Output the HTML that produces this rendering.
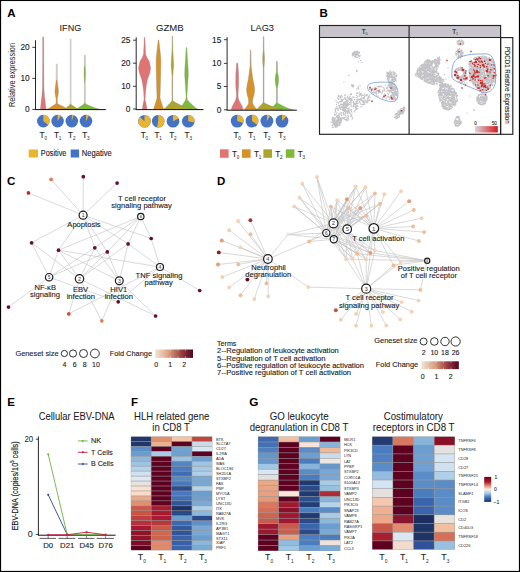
<!DOCTYPE html>
<html><head><meta charset="utf-8"><style>
html,body{margin:0;padding:0;background:#fff;}
body{width:520px;height:572px;overflow:hidden;}
svg{display:block;}
svg text{font-family:"Liberation Sans", sans-serif;}
</style></head><body>
<svg width="520" height="572" viewBox="0 0 520 572">
<rect x="0" y="0" width="520" height="572" fill="#fff"/>
<text x="7.20" y="16.50" font-size="11.5" text-anchor="start" font-weight="bold" fill="#000" >A</text>
<text x="70.40" y="30.80" font-size="9.6" text-anchor="middle" font-weight="normal" fill="#1c1c1c" stroke="#1c1c1c" stroke-width="0.06" textLength="21.6" lengthAdjust="spacingAndGlyphs">IFNG</text>
<text x="169.80" y="30.70" font-size="9.6" text-anchor="middle" font-weight="normal" fill="#1c1c1c" stroke="#1c1c1c" stroke-width="0.06" textLength="27.6" lengthAdjust="spacingAndGlyphs">GZMB</text>
<text x="262.20" y="30.80" font-size="9.6" text-anchor="middle" font-weight="normal" fill="#1c1c1c" stroke="#1c1c1c" stroke-width="0.06" textLength="23.6" lengthAdjust="spacingAndGlyphs">LAG3</text>
<text transform="translate(15,75) rotate(-90)" font-size="9" text-anchor="middle" fill="#231f20" textLength="64" lengthAdjust="spacingAndGlyphs">Relative expression</text>
<line x1="35.5" y1="40.2" x2="35.5" y2="109.6" stroke="#111" stroke-width="0.9"/>
<line x1="32.3" y1="47.3" x2="35.5" y2="47.3" stroke="#111" stroke-width="0.8"/>
<text x="29.70" y="50.25" font-size="8.3" text-anchor="end" font-weight="normal" fill="#1c1c1c" stroke="#1c1c1c" stroke-width="0.12" >20</text>
<line x1="32.3" y1="78.4" x2="35.5" y2="78.4" stroke="#111" stroke-width="0.8"/>
<text x="29.70" y="81.35" font-size="8.3" text-anchor="end" font-weight="normal" fill="#1c1c1c" stroke="#1c1c1c" stroke-width="0.12" >10</text>
<line x1="32.3" y1="109.4" x2="35.5" y2="109.4" stroke="#111" stroke-width="0.8"/>
<text x="29.70" y="112.35" font-size="8.3" text-anchor="end" font-weight="normal" fill="#1c1c1c" stroke="#1c1c1c" stroke-width="0.12" >0</text>
<path d="M42.70,37.00 L42.65,60.00 L42.50,88.00 L42.00,95.00 L41.20,102.00 L40.30,109.40 L46.10,109.40 L45.20,102.00 L44.40,95.00 L43.90,88.00 L43.75,60.00 L43.70,37.00Z" fill="#e07474" stroke="#8a8a8a" stroke-width="0.35" stroke-linejoin="round"/>
<path d="M56.35,64.00 L56.20,80.00 L55.80,84.00 L55.20,88.00 L54.90,91.40 L55.30,95.00 L56.10,99.00 L56.10,102.50 L55.90,103.70 L53.59,105.30 L51.18,106.84 L49.14,108.26 L46.20,109.40 L70.20,109.40 L66.42,108.26 L63.58,106.84 L60.47,105.30 L57.50,103.70 L57.30,102.50 L57.30,99.00 L58.10,95.00 L58.50,91.40 L58.20,88.00 L57.60,84.00 L57.20,80.00 L57.05,64.00Z" fill="#d69226" stroke="#8a8a8a" stroke-width="0.35" stroke-linejoin="round"/>
<path d="M84.40,55.30 L84.35,66.00 L84.10,70.00 L84.05,74.00 L84.20,78.00 L84.40,83.00 L84.40,102.50 L84.00,104.00 L81.84,105.51 L79.59,106.97 L77.74,108.32 L75.00,109.40 L100.60,109.40 L96.18,108.32 L92.71,106.97 L89.08,105.51 L85.60,104.00 L85.20,102.50 L85.20,83.00 L85.40,78.00 L85.55,74.00 L85.50,70.00 L85.25,66.00 L85.20,55.30Z" fill="#7dba36" stroke="#8a8a8a" stroke-width="0.35" stroke-linejoin="round"/>
<path d="M70.20,39.00 L70.20,103.50 L69.90,104.80 L68.47,106.09 L66.97,107.33 L65.92,108.48 L64.10,109.40 L79.60,109.40 L77.08,108.48 L75.35,107.33 L73.28,106.09 L71.30,104.80 L71.00,103.50 L71.00,39.00Z" fill="#aca42c" stroke="#8a8a8a" stroke-width="0.35" stroke-linejoin="round"/>
<line x1="56.7" y1="64" x2="56.7" y2="80" stroke="#d3d3d3" stroke-width="1.1"/>
<line x1="70.6" y1="39" x2="70.6" y2="103.8" stroke="#d3d3d3" stroke-width="1.1"/>
<line x1="84.8" y1="55.3" x2="84.8" y2="66" stroke="#d3d3d3" stroke-width="1.1"/>
<line x1="84.8" y1="83" x2="84.8" y2="103" stroke="#d3d3d3" stroke-width="1.1"/>
<line x1="35" y1="109.6" x2="105.8" y2="109.6" stroke="#111" stroke-width="1"/>
<line x1="136.2" y1="37.3" x2="136.2" y2="109.6" stroke="#111" stroke-width="0.9"/>
<line x1="133.0" y1="40.2" x2="136.2" y2="40.2" stroke="#111" stroke-width="0.8"/>
<text x="130.40" y="43.15" font-size="8.3" text-anchor="end" font-weight="normal" fill="#1c1c1c" stroke="#1c1c1c" stroke-width="0.12" >25</text>
<line x1="133.0" y1="63.2" x2="136.2" y2="63.2" stroke="#111" stroke-width="0.8"/>
<text x="130.40" y="66.15" font-size="8.3" text-anchor="end" font-weight="normal" fill="#1c1c1c" stroke="#1c1c1c" stroke-width="0.12" >20</text>
<line x1="133.0" y1="86.3" x2="136.2" y2="86.3" stroke="#111" stroke-width="0.8"/>
<text x="130.40" y="89.25" font-size="8.3" text-anchor="end" font-weight="normal" fill="#1c1c1c" stroke="#1c1c1c" stroke-width="0.12" >10</text>
<line x1="133.0" y1="109.0" x2="136.2" y2="109.0" stroke="#111" stroke-width="0.8"/>
<text x="130.40" y="111.95" font-size="8.3" text-anchor="end" font-weight="normal" fill="#1c1c1c" stroke="#1c1c1c" stroke-width="0.12" >0</text>
<path d="M144.25,37.40 L144.00,45.00 L143.50,54.50 L142.00,58.00 L140.00,61.30 L138.50,68.10 L139.40,73.00 L141.60,79.00 L142.80,85.00 L143.60,91.30 L144.10,99.50 L143.40,102.50 L142.90,105.00 L142.20,109.40 L147.00,109.40 L146.30,105.00 L145.80,102.50 L145.10,99.50 L145.60,91.30 L146.40,85.00 L147.60,79.00 L149.80,73.00 L150.70,68.10 L149.20,61.30 L147.20,58.00 L145.70,54.50 L145.20,45.00 L144.95,37.40Z" fill="#e07474" stroke="#8a8a8a" stroke-width="0.35" stroke-linejoin="round"/>
<path d="M158.20,40.10 L157.30,47.60 L156.50,55.00 L156.10,61.30 L156.30,75.00 L156.70,88.60 L157.00,98.10 L156.40,100.00 L155.50,103.00 L154.50,106.00 L153.50,109.40 L163.50,109.40 L162.50,106.00 L161.50,103.00 L160.60,100.00 L160.00,98.10 L160.30,88.60 L160.70,75.00 L160.90,61.30 L160.50,55.00 L159.70,47.60 L158.80,40.10Z" fill="#d69226" stroke="#8a8a8a" stroke-width="0.35" stroke-linejoin="round"/>
<path d="M186.20,47.60 L185.50,60.00 L184.90,68.00 L184.70,75.00 L185.40,85.00 L186.15,96.80 L185.90,98.50 L185.60,100.00 L183.95,102.63 L182.22,105.17 L181.10,107.52 L179.00,109.40 L198.30,109.40 L195.00,107.52 L192.71,105.17 L190.00,102.63 L187.40,100.00 L187.10,98.50 L186.85,96.80 L187.60,85.00 L188.30,75.00 L188.10,68.00 L187.50,60.00 L186.80,47.60Z" fill="#7dba36" stroke="#8a8a8a" stroke-width="0.35" stroke-linejoin="round"/>
<path d="M172.20,36.00 L172.00,50.00 L171.50,58.00 L171.10,65.40 L171.60,71.00 L172.10,77.00 L172.10,100.00 L171.80,101.10 L169.73,103.42 L167.57,105.67 L165.63,107.74 L163.00,109.40 L192.40,109.40 L186.80,107.74 L182.00,105.67 L177.40,103.42 L173.00,101.10 L172.70,100.00 L172.70,77.00 L173.20,71.00 L173.70,65.40 L173.30,58.00 L172.80,50.00 L172.60,36.00Z" fill="#aca42c" stroke="#8a8a8a" stroke-width="0.35" stroke-linejoin="round"/>
<line x1="172.4" y1="77" x2="172.4" y2="100.3" stroke="#a09a80" stroke-width="0.55"/>
<line x1="135.7" y1="109.6" x2="203.5" y2="109.6" stroke="#111" stroke-width="1"/>
<line x1="227.1" y1="37.1" x2="227.1" y2="110" stroke="#111" stroke-width="0.9"/>
<line x1="223.9" y1="39.7" x2="227.1" y2="39.7" stroke="#111" stroke-width="0.8"/>
<text x="221.30" y="42.65" font-size="8.3" text-anchor="end" font-weight="normal" fill="#1c1c1c" stroke="#1c1c1c" stroke-width="0.12" >15</text>
<line x1="223.9" y1="63.4" x2="227.1" y2="63.4" stroke="#111" stroke-width="0.8"/>
<text x="221.30" y="66.35" font-size="8.3" text-anchor="end" font-weight="normal" fill="#1c1c1c" stroke="#1c1c1c" stroke-width="0.12" >10</text>
<line x1="223.9" y1="86.5" x2="227.1" y2="86.5" stroke="#111" stroke-width="0.8"/>
<text x="221.30" y="89.45" font-size="8.3" text-anchor="end" font-weight="normal" fill="#1c1c1c" stroke="#1c1c1c" stroke-width="0.12" >5</text>
<line x1="223.9" y1="109.8" x2="227.1" y2="109.8" stroke="#111" stroke-width="0.8"/>
<text x="221.30" y="112.75" font-size="8.3" text-anchor="end" font-weight="normal" fill="#1c1c1c" stroke="#1c1c1c" stroke-width="0.12" >0</text>
<path d="M236.60,63.30 L236.40,66.00 L235.80,75.00 L235.70,84.50 L236.10,90.00 L236.40,94.00 L236.20,98.00 L235.20,101.00 L233.70,103.60 L232.20,106.50 L231.20,109.80 L243.20,109.80 L242.20,106.50 L240.70,103.60 L239.20,101.00 L238.20,98.00 L238.00,94.00 L238.30,90.00 L238.70,84.50 L238.60,75.00 L238.00,66.00 L237.80,63.30Z" fill="#e07474" stroke="#8a8a8a" stroke-width="0.35" stroke-linejoin="round"/>
<path d="M250.40,50.10 L250.00,66.70 L249.30,72.00 L248.40,79.00 L247.10,85.00 L246.50,90.00 L247.20,95.00 L248.20,98.10 L248.60,101.00 L248.60,103.60 L247.40,105.50 L245.80,107.80 L244.00,109.80 L257.20,109.80 L255.40,107.80 L253.80,105.50 L252.60,103.60 L252.60,101.00 L253.00,98.10 L254.00,95.00 L254.70,90.00 L254.10,85.00 L252.80,79.00 L251.90,72.00 L251.20,66.70 L250.80,50.10Z" fill="#d69226" stroke="#8a8a8a" stroke-width="0.35" stroke-linejoin="round"/>
<path d="M276.60,61.30 L276.30,72.20 L275.50,76.00 L275.10,79.70 L275.60,84.00 L276.50,88.60 L276.50,102.00 L276.10,103.30 L274.56,105.12 L272.95,106.88 L271.86,108.50 L269.90,109.80 L293.10,109.80 L288.56,108.50 L284.99,106.88 L281.26,105.12 L277.70,103.30 L277.30,102.00 L277.30,88.60 L278.20,84.00 L278.70,79.70 L278.30,76.00 L277.50,72.20 L277.20,61.30Z" fill="#7dba36" stroke="#8a8a8a" stroke-width="0.35" stroke-linejoin="round"/>
<path d="M263.40,36.50 L263.20,50.40 L262.80,55.00 L262.60,59.00 L262.90,64.00 L263.25,68.10 L263.25,102.00 L262.90,103.10 L261.10,104.98 L259.21,106.78 L257.70,108.46 L255.40,109.80 L283.60,109.80 L278.00,108.46 L273.30,106.78 L268.70,104.98 L264.30,103.10 L263.95,102.00 L263.95,68.10 L264.30,64.00 L264.60,59.00 L264.40,55.00 L264.00,50.40 L263.80,36.50Z" fill="#aca42c" stroke="#8a8a8a" stroke-width="0.35" stroke-linejoin="round"/>
<line x1="250.6" y1="50.1" x2="250.6" y2="66.7" stroke="#a8a8a8" stroke-width="0.6"/>
<line x1="263.6" y1="36.5" x2="263.6" y2="50.4" stroke="#a8a8a8" stroke-width="0.55"/>
<line x1="263.6" y1="68.1" x2="263.6" y2="102.5" stroke="#a8a8a8" stroke-width="0.6"/>
<line x1="276.9" y1="61.3" x2="276.9" y2="72.2" stroke="#b0b0b0" stroke-width="0.7"/>
<line x1="276.9" y1="88.6" x2="276.9" y2="102.5" stroke="#b8b8b8" stroke-width="0.8"/>
<line x1="226.6" y1="110.2" x2="296.8" y2="110.2" stroke="#111" stroke-width="1"/>
<circle cx="43.3" cy="121.1" r="6.3" fill="#4472c4"/>
<path d="M43.3,121.1 L43.30,114.80 A6.3,6.3 0 0 1 48.15,125.12 Z" fill="#e9b52e"/>
<circle cx="57.6" cy="121.1" r="6.3" fill="#4472c4"/>
<path d="M57.6,121.1 L57.60,114.80 A6.3,6.3 0 0 1 60.98,115.78 Z" fill="#e9b52e"/>
<circle cx="71.8" cy="121.1" r="6.3" fill="#4472c4"/>
<path d="M71.8,121.1 L71.80,114.80 A6.3,6.3 0 0 1 73.75,115.11 Z" fill="#e9b52e"/>
<circle cx="86.0" cy="121.1" r="6.3" fill="#4472c4"/>
<path d="M86.0,121.1 L86.00,114.80 A6.3,6.3 0 0 1 89.04,115.58 Z" fill="#e9b52e"/>
<circle cx="144.5" cy="121.2" r="6.3" fill="#4472c4"/>
<path d="M144.5,121.2 L144.50,114.90 A6.3,6.3 0 1 1 139.91,116.89 Z" fill="#e9b52e"/>
<circle cx="158.2" cy="121.2" r="6.3" fill="#4472c4"/>
<path d="M158.2,121.2 L158.20,114.90 A6.3,6.3 0 1 1 157.02,127.39 Z" fill="#e9b52e"/>
<circle cx="173.0" cy="121.2" r="6.3" fill="#4472c4"/>
<path d="M173.0,121.2 L173.00,114.90 A6.3,6.3 0 0 1 178.70,118.52 Z" fill="#e9b52e"/>
<circle cx="188.3" cy="121.2" r="6.3" fill="#4472c4"/>
<path d="M188.3,121.2 L188.30,114.90 A6.3,6.3 0 0 1 194.49,122.38 Z" fill="#e9b52e"/>
<circle cx="237.2" cy="121.1" r="6.4" fill="#4472c4"/>
<path d="M237.2,121.1 L237.20,114.70 A6.4,6.4 0 0 1 243.29,123.08 Z" fill="#e9b52e"/>
<circle cx="252.0" cy="121.1" r="6.4" fill="#4472c4"/>
<path d="M252.0,121.1 L252.00,114.70 A6.4,6.4 0 0 1 257.18,124.86 Z" fill="#e9b52e"/>
<circle cx="266.9" cy="121.1" r="6.4" fill="#4472c4"/>
<path d="M266.9,121.1 L266.90,114.70 A6.4,6.4 0 0 1 270.33,115.70 Z" fill="#e9b52e"/>
<circle cx="282.0" cy="121.1" r="6.4" fill="#4472c4"/>
<path d="M282.0,121.1 L282.00,114.70 A6.4,6.4 0 0 1 286.38,116.43 Z" fill="#e9b52e"/>
<text x="42.10" y="138.00" font-size="8.2" text-anchor="middle" fill="#231f20" stroke="#231f20" stroke-width="0.1">T</text>
<text x="45.70" y="140.00" font-size="4.6" text-anchor="middle" fill="#231f20">0</text>
<text x="56.40" y="138.00" font-size="8.2" text-anchor="middle" fill="#231f20" stroke="#231f20" stroke-width="0.1">T</text>
<text x="60.00" y="140.00" font-size="4.6" text-anchor="middle" fill="#231f20">1</text>
<text x="70.60" y="138.00" font-size="8.2" text-anchor="middle" fill="#231f20" stroke="#231f20" stroke-width="0.1">T</text>
<text x="74.20" y="140.00" font-size="4.6" text-anchor="middle" fill="#231f20">2</text>
<text x="84.80" y="138.00" font-size="8.2" text-anchor="middle" fill="#231f20" stroke="#231f20" stroke-width="0.1">T</text>
<text x="88.40" y="140.00" font-size="4.6" text-anchor="middle" fill="#231f20">3</text>
<text x="143.30" y="138.00" font-size="8.2" text-anchor="middle" fill="#231f20" stroke="#231f20" stroke-width="0.1">T</text>
<text x="146.90" y="140.00" font-size="4.6" text-anchor="middle" fill="#231f20">0</text>
<text x="157.00" y="138.00" font-size="8.2" text-anchor="middle" fill="#231f20" stroke="#231f20" stroke-width="0.1">T</text>
<text x="160.60" y="140.00" font-size="4.6" text-anchor="middle" fill="#231f20">1</text>
<text x="171.80" y="138.00" font-size="8.2" text-anchor="middle" fill="#231f20" stroke="#231f20" stroke-width="0.1">T</text>
<text x="175.40" y="140.00" font-size="4.6" text-anchor="middle" fill="#231f20">2</text>
<text x="187.10" y="138.00" font-size="8.2" text-anchor="middle" fill="#231f20" stroke="#231f20" stroke-width="0.1">T</text>
<text x="190.70" y="140.00" font-size="4.6" text-anchor="middle" fill="#231f20">3</text>
<text x="236.00" y="138.00" font-size="8.2" text-anchor="middle" fill="#231f20" stroke="#231f20" stroke-width="0.1">T</text>
<text x="239.60" y="140.00" font-size="4.6" text-anchor="middle" fill="#231f20">0</text>
<text x="250.80" y="138.00" font-size="8.2" text-anchor="middle" fill="#231f20" stroke="#231f20" stroke-width="0.1">T</text>
<text x="254.40" y="140.00" font-size="4.6" text-anchor="middle" fill="#231f20">1</text>
<text x="265.70" y="138.00" font-size="8.2" text-anchor="middle" fill="#231f20" stroke="#231f20" stroke-width="0.1">T</text>
<text x="269.30" y="140.00" font-size="4.6" text-anchor="middle" fill="#231f20">2</text>
<text x="280.80" y="138.00" font-size="8.2" text-anchor="middle" fill="#231f20" stroke="#231f20" stroke-width="0.1">T</text>
<text x="284.40" y="140.00" font-size="4.6" text-anchor="middle" fill="#231f20">3</text>
<rect x="28.7" y="149.5" width="9.3" height="8" fill="#e9b52e"/>
<text x="40.80" y="156.40" font-size="8.4" text-anchor="start" font-weight="normal" fill="#1c1c1c" stroke="#1c1c1c" stroke-width="0.12" textLength="25.6" lengthAdjust="spacingAndGlyphs">Positive</text>
<rect x="70.7" y="149.5" width="8.4" height="8" fill="#4472c4"/>
<text x="81.80" y="156.40" font-size="8.4" text-anchor="start" font-weight="normal" fill="#1c1c1c" stroke="#1c1c1c" stroke-width="0.12" textLength="30.0" lengthAdjust="spacingAndGlyphs">Negative</text>
<rect x="220.0" y="149.3" width="8.6" height="8.5" fill="#e07474"/>
<text x="234.40" y="156.80" font-size="8.2" text-anchor="middle" fill="#231f20" stroke="#231f20" stroke-width="0.1">T</text>
<text x="238.00" y="158.80" font-size="4.6" text-anchor="middle" fill="#231f20">0</text>
<rect x="242.0" y="149.3" width="8.6" height="8.5" fill="#d69226"/>
<text x="256.40" y="156.80" font-size="8.2" text-anchor="middle" fill="#231f20" stroke="#231f20" stroke-width="0.1">T</text>
<text x="260.00" y="158.80" font-size="4.6" text-anchor="middle" fill="#231f20">1</text>
<rect x="263.4" y="149.3" width="8.6" height="8.5" fill="#aca42c"/>
<text x="277.80" y="156.80" font-size="8.2" text-anchor="middle" fill="#231f20" stroke="#231f20" stroke-width="0.1">T</text>
<text x="281.40" y="158.80" font-size="4.6" text-anchor="middle" fill="#231f20">2</text>
<rect x="285.8" y="149.3" width="8.6" height="8.5" fill="#7dba36"/>
<text x="300.20" y="156.80" font-size="8.2" text-anchor="middle" fill="#231f20" stroke="#231f20" stroke-width="0.1">T</text>
<text x="303.80" y="158.80" font-size="4.6" text-anchor="middle" fill="#231f20">3</text>
<text x="319.60" y="16.70" font-size="11.5" text-anchor="start" font-weight="bold" fill="#000" >B</text>
<rect x="319.5" y="25" width="181.1" height="12.5" fill="#c7c5cb"/>
<text x="363.6" y="33.7" font-size="6.4" text-anchor="middle" fill="#222" stroke="#222" stroke-width="0.15">T</text><text x="365.6" y="35.2" font-size="3.6" fill="#222">0</text>
<text x="454.1" y="33.7" font-size="6.4" text-anchor="middle" fill="#222" stroke="#222" stroke-width="0.15">T</text><text x="456.1" y="35.2" font-size="3.6" fill="#222">1</text>
<path fill="#c3c2c7" d="M354.2 51.3h1.2v1.2h-1.2zM357.0 50.8h1.2v1.2h-1.2zM356.0 52.9h1.2v1.2h-1.2zM352.0 53.9h1.2v1.2h-1.2zM351.8 53.3h1.2v1.2h-1.2zM355.1 56.1h1.2v1.2h-1.2zM352.5 51.9h1.2v1.2h-1.2zM356.8 56.9h1.2v1.2h-1.2zM356.3 53.1h1.2v1.2h-1.2zM358.7 52.3h1.2v1.2h-1.2zM354.1 56.0h1.2v1.2h-1.2zM353.0 54.4h1.2v1.2h-1.2zM356.9 52.9h1.2v1.2h-1.2zM356.1 50.7h1.2v1.2h-1.2zM357.2 53.3h1.2v1.2h-1.2zM354.1 54.4h1.2v1.2h-1.2zM355.3 52.4h1.2v1.2h-1.2zM358.2 55.2h1.2v1.2h-1.2zM353.6 54.3h1.2v1.2h-1.2zM355.9 56.4h1.2v1.2h-1.2zM357.6 52.3h1.2v1.2h-1.2zM355.0 55.6h1.2v1.2h-1.2zM352.8 53.7h1.2v1.2h-1.2zM351.8 55.0h1.2v1.2h-1.2zM357.9 54.3h1.2v1.2h-1.2zM358.9 52.5h1.2v1.2h-1.2zM357.3 54.5h1.2v1.2h-1.2zM356.4 53.5h1.2v1.2h-1.2zM355.5 55.0h1.2v1.2h-1.2zM352.0 55.2h1.2v1.2h-1.2zM358.4 52.3h1.2v1.2h-1.2zM354.7 55.0h1.2v1.2h-1.2zM351.7 53.5h1.2v1.2h-1.2zM352.6 52.0h1.2v1.2h-1.2zM354.8 56.4h1.2v1.2h-1.2zM352.2 53.4h1.2v1.2h-1.2zM356.1 56.5h1.2v1.2h-1.2zM358.4 56.4h1.2v1.2h-1.2zM353.8 53.2h1.2v1.2h-1.2zM354.5 56.5h1.2v1.2h-1.2zM353.0 51.9h1.2v1.2h-1.2zM353.5 53.7h1.2v1.2h-1.2zM356.4 52.1h1.2v1.2h-1.2zM354.6 54.3h1.2v1.2h-1.2zM359.5 55.1h1.2v1.2h-1.2zM355.8 54.6h1.2v1.2h-1.2zM357.2 50.7h1.2v1.2h-1.2zM359.1 55.8h1.2v1.2h-1.2zM358.8 55.9h1.2v1.2h-1.2zM354.8 53.1h1.2v1.2h-1.2zM352.4 54.7h1.2v1.2h-1.2zM353.3 51.4h1.2v1.2h-1.2zM354.4 50.7h1.2v1.2h-1.2zM352.4 52.8h1.2v1.2h-1.2zM356.7 51.3h1.2v1.2h-1.2zM353.6 52.7h1.2v1.2h-1.2zM354.6 51.2h1.2v1.2h-1.2zM355.4 53.7h1.2v1.2h-1.2zM354.4 52.1h1.2v1.2h-1.2zM358.5 51.4h1.2v1.2h-1.2zM355.9 51.3h1.2v1.2h-1.2zM358.9 57.9h1.2v1.2h-1.2zM359.9 59.9h1.2v1.2h-1.2zM361.4 61.7h1.2v1.2h-1.2zM357.9 61.4h1.2v1.2h-1.2zM355.9 69.7h1.2v1.2h-1.2zM356.7 70.4h1.2v1.2h-1.2zM356.2 71.0h1.2v1.2h-1.2zM348.4 74.9h1.2v1.2h-1.2zM351.6 84.6h1.2v1.2h-1.2zM343.4 81.4h1.2v1.2h-1.2zM335.4 99.9h1.2v1.2h-1.2zM359.4 85.0h1.2v1.2h-1.2zM391.4 82.6h1.2v1.2h-1.2zM395.0 79.0h1.2v1.2h-1.2zM388.6 74.7h1.2v1.2h-1.2zM387.7 79.9h1.2v1.2h-1.2zM391.5 80.0h1.2v1.2h-1.2zM389.4 72.8h1.2v1.2h-1.2zM394.9 80.4h1.2v1.2h-1.2zM394.5 79.5h1.2v1.2h-1.2zM388.3 76.6h1.2v1.2h-1.2zM389.6 70.3h1.2v1.2h-1.2zM388.6 78.9h1.2v1.2h-1.2zM395.9 75.7h1.2v1.2h-1.2zM395.9 74.6h1.2v1.2h-1.2zM388.2 72.8h1.2v1.2h-1.2zM388.0 72.6h1.2v1.2h-1.2zM392.5 81.6h1.2v1.2h-1.2zM394.7 76.1h1.2v1.2h-1.2zM392.8 80.3h1.2v1.2h-1.2zM386.8 78.5h1.2v1.2h-1.2zM395.5 80.1h1.2v1.2h-1.2zM393.8 76.1h1.2v1.2h-1.2zM387.8 80.2h1.2v1.2h-1.2zM389.4 80.3h1.2v1.2h-1.2zM396.1 75.0h1.2v1.2h-1.2zM390.1 82.2h1.2v1.2h-1.2zM393.5 72.1h1.2v1.2h-1.2zM387.2 71.9h1.2v1.2h-1.2zM395.4 80.4h1.2v1.2h-1.2zM389.6 77.0h1.2v1.2h-1.2zM391.4 82.0h1.2v1.2h-1.2zM390.5 81.2h1.2v1.2h-1.2zM394.6 72.6h1.2v1.2h-1.2zM388.5 73.7h1.2v1.2h-1.2zM388.4 77.5h1.2v1.2h-1.2zM388.6 75.3h1.2v1.2h-1.2zM389.6 75.9h1.2v1.2h-1.2zM392.0 81.7h1.2v1.2h-1.2zM390.3 81.8h1.2v1.2h-1.2zM391.2 76.8h1.2v1.2h-1.2zM390.5 72.3h1.2v1.2h-1.2zM387.7 76.1h1.2v1.2h-1.2zM393.5 77.1h1.2v1.2h-1.2zM389.3 76.6h1.2v1.2h-1.2zM391.7 80.1h1.2v1.2h-1.2zM387.0 77.2h1.2v1.2h-1.2zM388.5 73.5h1.2v1.2h-1.2zM394.0 76.5h1.2v1.2h-1.2zM391.8 79.8h1.2v1.2h-1.2zM395.5 75.7h1.2v1.2h-1.2zM392.3 76.5h1.2v1.2h-1.2zM391.3 78.9h1.2v1.2h-1.2zM390.6 76.8h1.2v1.2h-1.2zM390.9 82.1h1.2v1.2h-1.2zM393.2 81.3h1.2v1.2h-1.2zM391.8 82.2h1.2v1.2h-1.2zM387.2 75.6h1.2v1.2h-1.2zM386.7 73.0h1.2v1.2h-1.2zM386.7 78.6h1.2v1.2h-1.2zM387.5 79.2h1.2v1.2h-1.2zM392.8 71.8h1.2v1.2h-1.2zM390.1 76.2h1.2v1.2h-1.2zM387.6 75.5h1.2v1.2h-1.2zM391.3 74.3h1.2v1.2h-1.2zM388.0 74.0h1.2v1.2h-1.2zM391.7 75.6h1.2v1.2h-1.2zM392.5 76.6h1.2v1.2h-1.2zM387.0 73.4h1.2v1.2h-1.2zM388.7 71.6h1.2v1.2h-1.2zM390.3 81.7h1.2v1.2h-1.2zM394.5 73.3h1.2v1.2h-1.2zM391.9 79.0h1.2v1.2h-1.2zM393.1 75.4h1.2v1.2h-1.2zM392.6 80.3h1.2v1.2h-1.2zM390.7 74.3h1.2v1.2h-1.2zM391.7 81.9h1.2v1.2h-1.2zM388.7 71.6h1.2v1.2h-1.2zM391.4 73.0h1.2v1.2h-1.2zM387.0 72.0h1.2v1.2h-1.2zM386.4 72.5h1.2v1.2h-1.2zM389.2 73.9h1.2v1.2h-1.2zM393.9 73.7h1.2v1.2h-1.2zM391.2 72.2h1.2v1.2h-1.2zM393.6 77.1h1.2v1.2h-1.2zM387.9 76.1h1.2v1.2h-1.2zM394.5 75.5h1.2v1.2h-1.2zM391.1 80.7h1.2v1.2h-1.2zM390.0 76.5h1.2v1.2h-1.2zM389.5 80.7h1.2v1.2h-1.2zM393.3 78.2h1.2v1.2h-1.2zM390.1 74.4h1.2v1.2h-1.2zM386.5 71.6h1.2v1.2h-1.2zM388.6 72.0h1.2v1.2h-1.2zM395.0 78.6h1.2v1.2h-1.2zM388.9 73.0h1.2v1.2h-1.2zM389.0 75.9h1.2v1.2h-1.2zM387.6 75.7h1.2v1.2h-1.2zM388.7 82.4h1.2v1.2h-1.2zM389.2 74.5h1.2v1.2h-1.2zM390.9 76.4h1.2v1.2h-1.2zM388.0 76.5h1.2v1.2h-1.2zM386.8 75.1h1.2v1.2h-1.2zM389.1 72.9h1.2v1.2h-1.2zM392.0 76.8h1.2v1.2h-1.2zM393.8 78.4h1.2v1.2h-1.2zM393.4 81.3h1.2v1.2h-1.2zM390.0 74.1h1.2v1.2h-1.2zM393.5 78.3h1.2v1.2h-1.2zM395.3 78.1h1.2v1.2h-1.2zM393.6 80.5h1.2v1.2h-1.2zM387.4 76.7h1.2v1.2h-1.2zM391.2 80.8h1.2v1.2h-1.2zM394.3 80.6h1.2v1.2h-1.2zM392.0 81.5h1.2v1.2h-1.2zM393.1 78.9h1.2v1.2h-1.2zM387.3 74.6h1.2v1.2h-1.2zM391.8 78.1h1.2v1.2h-1.2zM392.5 78.7h1.2v1.2h-1.2zM394.3 79.6h1.2v1.2h-1.2zM391.2 76.9h1.2v1.2h-1.2zM393.6 73.2h1.2v1.2h-1.2zM386.7 73.4h1.2v1.2h-1.2zM393.6 72.6h1.2v1.2h-1.2zM391.1 74.9h1.2v1.2h-1.2zM390.9 78.8h1.2v1.2h-1.2zM394.0 77.9h1.2v1.2h-1.2zM392.6 70.9h1.2v1.2h-1.2zM387.4 73.2h1.2v1.2h-1.2zM393.7 73.9h1.2v1.2h-1.2zM386.5 73.4h1.2v1.2h-1.2zM393.0 78.9h1.2v1.2h-1.2zM393.0 73.7h1.2v1.2h-1.2zM391.3 75.9h1.2v1.2h-1.2zM390.8 71.4h1.2v1.2h-1.2zM386.1 75.9h1.2v1.2h-1.2zM390.6 73.4h1.2v1.2h-1.2zM388.1 77.5h1.2v1.2h-1.2zM387.4 76.7h1.2v1.2h-1.2zM394.5 76.5h1.2v1.2h-1.2zM395.2 79.0h1.2v1.2h-1.2zM388.3 81.6h1.2v1.2h-1.2zM348.4 102.6h1.2v1.2h-1.2zM336.0 104.1h1.2v1.2h-1.2zM364.0 96.2h1.2v1.2h-1.2zM366.5 102.2h1.2v1.2h-1.2zM345.3 105.8h1.2v1.2h-1.2zM344.8 107.1h1.2v1.2h-1.2zM334.5 121.5h1.2v1.2h-1.2zM340.4 101.3h1.2v1.2h-1.2zM350.8 98.6h1.2v1.2h-1.2zM359.2 93.7h1.2v1.2h-1.2zM367.5 96.4h1.2v1.2h-1.2zM349.3 104.1h1.2v1.2h-1.2zM342.3 118.1h1.2v1.2h-1.2zM356.6 102.6h1.2v1.2h-1.2zM352.7 105.9h1.2v1.2h-1.2zM337.1 97.6h1.2v1.2h-1.2zM338.7 124.1h1.2v1.2h-1.2zM350.3 99.7h1.2v1.2h-1.2zM348.4 96.9h1.2v1.2h-1.2zM338.1 95.1h1.2v1.2h-1.2zM344.1 95.1h1.2v1.2h-1.2zM340.0 101.1h1.2v1.2h-1.2zM347.0 110.5h1.2v1.2h-1.2zM345.5 103.9h1.2v1.2h-1.2zM369.1 96.4h1.2v1.2h-1.2zM350.5 114.3h1.2v1.2h-1.2zM364.9 99.6h1.2v1.2h-1.2zM341.2 100.7h1.2v1.2h-1.2zM346.4 107.7h1.2v1.2h-1.2zM331.7 117.1h1.2v1.2h-1.2zM351.3 116.1h1.2v1.2h-1.2zM348.7 111.5h1.2v1.2h-1.2zM332.0 119.7h1.2v1.2h-1.2zM356.2 102.7h1.2v1.2h-1.2zM351.4 112.6h1.2v1.2h-1.2zM345.9 99.8h1.2v1.2h-1.2zM342.5 108.3h1.2v1.2h-1.2zM339.8 100.7h1.2v1.2h-1.2zM350.3 115.8h1.2v1.2h-1.2zM347.2 101.0h1.2v1.2h-1.2zM343.9 106.8h1.2v1.2h-1.2zM357.7 98.9h1.2v1.2h-1.2zM350.6 99.2h1.2v1.2h-1.2zM363.2 100.1h1.2v1.2h-1.2zM339.3 118.9h1.2v1.2h-1.2zM350.2 98.5h1.2v1.2h-1.2zM339.3 106.7h1.2v1.2h-1.2zM336.3 105.9h1.2v1.2h-1.2zM337.8 125.1h1.2v1.2h-1.2zM360.3 93.0h1.2v1.2h-1.2zM357.0 105.3h1.2v1.2h-1.2zM345.4 103.7h1.2v1.2h-1.2zM341.6 104.4h1.2v1.2h-1.2zM368.6 96.3h1.2v1.2h-1.2zM369.0 99.3h1.2v1.2h-1.2zM338.1 104.8h1.2v1.2h-1.2zM361.1 93.3h1.2v1.2h-1.2zM367.2 101.0h1.2v1.2h-1.2zM344.0 101.6h1.2v1.2h-1.2zM340.9 117.3h1.2v1.2h-1.2zM343.1 101.7h1.2v1.2h-1.2zM339.8 108.8h1.2v1.2h-1.2zM345.9 100.8h1.2v1.2h-1.2zM347.6 109.4h1.2v1.2h-1.2zM367.5 98.4h1.2v1.2h-1.2zM354.7 103.5h1.2v1.2h-1.2zM343.2 104.7h1.2v1.2h-1.2zM361.7 94.7h1.2v1.2h-1.2zM338.3 118.6h1.2v1.2h-1.2zM341.0 94.9h1.2v1.2h-1.2zM334.3 109.6h1.2v1.2h-1.2zM339.8 106.7h1.2v1.2h-1.2zM357.0 96.2h1.2v1.2h-1.2zM364.0 102.3h1.2v1.2h-1.2zM353.1 105.1h1.2v1.2h-1.2zM359.9 99.0h1.2v1.2h-1.2zM340.3 100.6h1.2v1.2h-1.2zM336.5 123.3h1.2v1.2h-1.2zM353.5 103.5h1.2v1.2h-1.2zM350.7 100.1h1.2v1.2h-1.2zM340.8 119.5h1.2v1.2h-1.2zM368.2 95.7h1.2v1.2h-1.2zM339.1 105.0h1.2v1.2h-1.2zM340.6 113.2h1.2v1.2h-1.2zM356.5 99.1h1.2v1.2h-1.2zM357.5 98.5h1.2v1.2h-1.2zM342.9 99.1h1.2v1.2h-1.2zM346.2 111.4h1.2v1.2h-1.2zM356.0 95.1h1.2v1.2h-1.2zM336.9 116.6h1.2v1.2h-1.2zM346.8 102.0h1.2v1.2h-1.2zM342.9 112.0h1.2v1.2h-1.2zM344.7 106.7h1.2v1.2h-1.2zM345.0 98.9h1.2v1.2h-1.2zM359.5 99.1h1.2v1.2h-1.2zM348.8 97.7h1.2v1.2h-1.2zM334.0 114.0h1.2v1.2h-1.2zM345.2 109.8h1.2v1.2h-1.2zM336.2 102.0h1.2v1.2h-1.2zM334.8 109.3h1.2v1.2h-1.2zM338.3 96.4h1.2v1.2h-1.2zM349.7 93.8h1.2v1.2h-1.2zM363.4 97.6h1.2v1.2h-1.2zM361.8 99.8h1.2v1.2h-1.2zM363.6 98.4h1.2v1.2h-1.2zM339.1 106.1h1.2v1.2h-1.2zM351.1 105.5h1.2v1.2h-1.2zM360.7 93.3h1.2v1.2h-1.2zM363.9 96.1h1.2v1.2h-1.2zM354.4 111.4h1.2v1.2h-1.2zM355.5 102.8h1.2v1.2h-1.2zM347.2 112.6h1.2v1.2h-1.2zM347.4 115.3h1.2v1.2h-1.2zM348.3 107.5h1.2v1.2h-1.2zM350.0 100.3h1.2v1.2h-1.2zM348.7 98.3h1.2v1.2h-1.2zM349.3 95.7h1.2v1.2h-1.2zM335.5 107.2h1.2v1.2h-1.2zM350.8 93.3h1.2v1.2h-1.2zM355.9 94.8h1.2v1.2h-1.2zM350.9 93.8h1.2v1.2h-1.2zM350.6 105.3h1.2v1.2h-1.2zM368.4 96.7h1.2v1.2h-1.2zM367.0 97.8h1.2v1.2h-1.2zM360.6 97.5h1.2v1.2h-1.2zM366.3 101.7h1.2v1.2h-1.2zM363.0 97.0h1.2v1.2h-1.2zM338.7 101.2h1.2v1.2h-1.2zM350.6 103.2h1.2v1.2h-1.2zM336.8 125.1h1.2v1.2h-1.2zM337.1 119.8h1.2v1.2h-1.2zM335.0 110.7h1.2v1.2h-1.2zM355.9 104.7h1.2v1.2h-1.2zM355.6 105.9h1.2v1.2h-1.2zM362.3 101.3h1.2v1.2h-1.2zM344.8 119.0h1.2v1.2h-1.2zM348.1 98.2h1.2v1.2h-1.2zM360.1 93.6h1.2v1.2h-1.2zM363.2 100.9h1.2v1.2h-1.2zM355.0 107.2h1.2v1.2h-1.2zM356.5 92.7h1.2v1.2h-1.2zM339.4 112.6h1.2v1.2h-1.2zM354.0 99.1h1.2v1.2h-1.2zM355.4 108.8h1.2v1.2h-1.2zM335.8 125.1h1.2v1.2h-1.2zM340.1 97.2h1.2v1.2h-1.2zM334.2 114.6h1.2v1.2h-1.2zM346.5 101.3h1.2v1.2h-1.2zM352.9 104.3h1.2v1.2h-1.2zM356.2 107.7h1.2v1.2h-1.2zM346.6 100.3h1.2v1.2h-1.2zM332.7 119.5h1.2v1.2h-1.2zM368.0 97.0h1.2v1.2h-1.2zM338.4 113.5h1.2v1.2h-1.2zM350.7 114.7h1.2v1.2h-1.2zM362.9 98.1h1.2v1.2h-1.2zM342.8 102.6h1.2v1.2h-1.2zM332.3 123.5h1.2v1.2h-1.2zM330.7 121.9h1.2v1.2h-1.2zM339.4 95.6h1.2v1.2h-1.2zM343.8 118.5h1.2v1.2h-1.2zM358.9 101.3h1.2v1.2h-1.2zM352.6 107.4h1.2v1.2h-1.2zM341.0 114.7h1.2v1.2h-1.2zM369.0 99.6h1.2v1.2h-1.2zM340.8 100.3h1.2v1.2h-1.2zM360.2 103.5h1.2v1.2h-1.2zM347.9 117.6h1.2v1.2h-1.2zM353.2 102.8h1.2v1.2h-1.2zM338.9 114.0h1.2v1.2h-1.2zM333.5 124.2h1.2v1.2h-1.2zM334.7 124.9h1.2v1.2h-1.2zM344.2 96.9h1.2v1.2h-1.2zM333.0 122.7h1.2v1.2h-1.2zM355.7 102.1h1.2v1.2h-1.2zM360.7 99.2h1.2v1.2h-1.2zM343.2 106.9h1.2v1.2h-1.2zM341.7 117.3h1.2v1.2h-1.2zM345.1 103.3h1.2v1.2h-1.2zM347.9 119.3h1.2v1.2h-1.2zM344.3 116.9h1.2v1.2h-1.2zM351.9 99.6h1.2v1.2h-1.2zM364.9 95.1h1.2v1.2h-1.2zM363.2 97.9h1.2v1.2h-1.2zM337.8 109.5h1.2v1.2h-1.2zM341.7 99.5h1.2v1.2h-1.2zM334.8 114.5h1.2v1.2h-1.2zM333.6 119.9h1.2v1.2h-1.2zM355.5 104.5h1.2v1.2h-1.2zM346.5 105.9h1.2v1.2h-1.2zM366.0 95.0h1.2v1.2h-1.2zM338.6 101.2h1.2v1.2h-1.2zM339.7 108.3h1.2v1.2h-1.2zM344.3 103.5h1.2v1.2h-1.2zM336.6 121.8h1.2v1.2h-1.2zM337.2 107.5h1.2v1.2h-1.2zM335.4 108.3h1.2v1.2h-1.2zM365.8 100.3h1.2v1.2h-1.2zM338.1 102.6h1.2v1.2h-1.2zM336.6 97.4h1.2v1.2h-1.2zM340.3 103.5h1.2v1.2h-1.2zM351.3 97.6h1.2v1.2h-1.2zM343.5 98.6h1.2v1.2h-1.2zM334.5 126.1h1.2v1.2h-1.2zM338.2 114.5h1.2v1.2h-1.2zM346.4 120.0h1.2v1.2h-1.2zM355.7 108.3h1.2v1.2h-1.2zM336.1 113.3h1.2v1.2h-1.2zM346.6 118.2h1.2v1.2h-1.2zM347.2 100.0h1.2v1.2h-1.2zM356.1 108.0h1.2v1.2h-1.2zM342.9 114.2h1.2v1.2h-1.2zM355.6 100.8h1.2v1.2h-1.2zM347.3 108.1h1.2v1.2h-1.2zM355.3 106.4h1.2v1.2h-1.2zM337.7 115.1h1.2v1.2h-1.2zM361.5 105.7h1.2v1.2h-1.2zM336.8 119.7h1.2v1.2h-1.2zM334.4 112.3h1.2v1.2h-1.2zM352.0 117.4h1.2v1.2h-1.2zM350.9 114.6h1.2v1.2h-1.2zM338.8 116.2h1.2v1.2h-1.2zM346.1 119.0h1.2v1.2h-1.2zM344.6 93.9h1.2v1.2h-1.2zM341.4 106.1h1.2v1.2h-1.2zM347.2 116.7h1.2v1.2h-1.2zM344.5 101.3h1.2v1.2h-1.2zM339.4 118.2h1.2v1.2h-1.2zM339.2 120.4h1.2v1.2h-1.2zM346.1 99.4h1.2v1.2h-1.2zM335.6 119.5h1.2v1.2h-1.2zM349.2 111.9h1.2v1.2h-1.2zM344.5 114.6h1.2v1.2h-1.2zM349.1 102.3h1.2v1.2h-1.2zM352.3 96.3h1.2v1.2h-1.2zM364.4 101.4h1.2v1.2h-1.2zM345.4 100.9h1.2v1.2h-1.2zM347.4 98.5h1.2v1.2h-1.2zM341.6 100.6h1.2v1.2h-1.2zM342.5 108.9h1.2v1.2h-1.2zM347.5 114.5h1.2v1.2h-1.2zM356.8 104.8h1.2v1.2h-1.2zM332.7 121.3h1.2v1.2h-1.2zM336.0 121.4h1.2v1.2h-1.2zM355.7 92.4h1.2v1.2h-1.2zM356.6 100.8h1.2v1.2h-1.2zM339.7 119.5h1.2v1.2h-1.2zM344.3 97.3h1.2v1.2h-1.2zM337.1 123.5h1.2v1.2h-1.2zM338.3 116.5h1.2v1.2h-1.2zM351.6 118.2h1.2v1.2h-1.2zM352.6 101.3h1.2v1.2h-1.2zM339.8 96.8h1.2v1.2h-1.2zM350.1 94.0h1.2v1.2h-1.2zM349.1 97.0h1.2v1.2h-1.2zM350.1 109.6h1.2v1.2h-1.2zM330.7 121.7h1.2v1.2h-1.2zM349.1 111.9h1.2v1.2h-1.2zM345.4 106.8h1.2v1.2h-1.2zM368.8 94.6h1.2v1.2h-1.2zM350.8 109.1h1.2v1.2h-1.2zM345.0 108.7h1.2v1.2h-1.2zM338.8 107.3h1.2v1.2h-1.2zM347.3 111.6h1.2v1.2h-1.2zM363.5 102.3h1.2v1.2h-1.2zM350.5 101.5h1.2v1.2h-1.2zM343.6 103.2h1.2v1.2h-1.2zM342.4 112.7h1.2v1.2h-1.2zM332.0 117.6h1.2v1.2h-1.2zM357.6 99.4h1.2v1.2h-1.2zM357.1 108.2h1.2v1.2h-1.2zM360.9 95.5h1.2v1.2h-1.2zM356.6 105.0h1.2v1.2h-1.2zM352.9 101.1h1.2v1.2h-1.2zM342.5 106.9h1.2v1.2h-1.2zM343.1 107.2h1.2v1.2h-1.2zM346.9 95.5h1.2v1.2h-1.2zM356.2 99.4h1.2v1.2h-1.2zM335.3 126.2h1.2v1.2h-1.2zM333.9 122.8h1.2v1.2h-1.2zM359.2 100.5h1.2v1.2h-1.2zM359.7 98.6h1.2v1.2h-1.2zM332.4 119.4h1.2v1.2h-1.2zM359.6 94.9h1.2v1.2h-1.2zM359.1 92.3h1.2v1.2h-1.2zM363.1 94.7h1.2v1.2h-1.2zM342.8 117.8h1.2v1.2h-1.2zM337.0 122.5h1.2v1.2h-1.2zM349.9 94.0h1.2v1.2h-1.2zM345.1 112.3h1.2v1.2h-1.2zM347.9 115.9h1.2v1.2h-1.2zM336.2 120.2h1.2v1.2h-1.2zM344.9 114.8h1.2v1.2h-1.2zM355.6 106.7h1.2v1.2h-1.2zM345.8 119.8h1.2v1.2h-1.2zM353.1 102.3h1.2v1.2h-1.2zM332.8 126.5h1.2v1.2h-1.2zM343.7 113.4h1.2v1.2h-1.2zM354.4 102.9h1.2v1.2h-1.2zM345.5 116.2h1.2v1.2h-1.2zM362.7 102.0h1.2v1.2h-1.2zM347.3 112.7h1.2v1.2h-1.2zM332.1 121.5h1.2v1.2h-1.2zM353.3 101.6h1.2v1.2h-1.2zM344.3 94.9h1.2v1.2h-1.2zM338.4 118.5h1.2v1.2h-1.2zM367.7 100.2h1.2v1.2h-1.2zM349.0 99.2h1.2v1.2h-1.2zM340.6 118.6h1.2v1.2h-1.2zM333.9 120.5h1.2v1.2h-1.2zM361.3 100.2h1.2v1.2h-1.2zM349.5 112.8h1.2v1.2h-1.2zM338.0 98.7h1.2v1.2h-1.2zM337.6 116.8h1.2v1.2h-1.2zM344.9 111.9h1.2v1.2h-1.2zM346.5 110.3h1.2v1.2h-1.2zM334.6 114.4h1.2v1.2h-1.2zM361.9 97.4h1.2v1.2h-1.2zM354.3 104.1h1.2v1.2h-1.2zM331.7 127.1h1.2v1.2h-1.2zM353.1 101.2h1.2v1.2h-1.2zM338.4 98.3h1.2v1.2h-1.2zM366.8 94.2h1.2v1.2h-1.2zM354.3 106.0h1.2v1.2h-1.2zM335.2 126.0h1.2v1.2h-1.2zM340.7 111.9h1.2v1.2h-1.2zM357.2 105.9h1.2v1.2h-1.2zM348.3 97.6h1.2v1.2h-1.2zM340.6 104.4h1.2v1.2h-1.2zM363.9 93.6h1.2v1.2h-1.2zM357.5 102.5h1.2v1.2h-1.2zM340.7 96.3h1.2v1.2h-1.2zM349.7 97.9h1.2v1.2h-1.2zM339.9 97.0h1.2v1.2h-1.2zM357.5 92.3h1.2v1.2h-1.2zM359.1 98.8h1.2v1.2h-1.2zM331.8 124.8h1.2v1.2h-1.2zM336.0 107.8h1.2v1.2h-1.2zM334.3 124.9h1.2v1.2h-1.2zM348.5 104.0h1.2v1.2h-1.2zM355.5 97.0h1.2v1.2h-1.2zM336.2 122.8h1.2v1.2h-1.2zM341.1 106.5h1.2v1.2h-1.2zM336.6 101.5h1.2v1.2h-1.2zM364.0 103.8h1.2v1.2h-1.2zM337.1 109.3h1.2v1.2h-1.2zM335.0 126.6h1.2v1.2h-1.2zM332.7 123.7h1.2v1.2h-1.2zM357.1 99.4h1.2v1.2h-1.2zM349.5 102.1h1.2v1.2h-1.2zM340.7 99.1h1.2v1.2h-1.2zM366.2 93.9h1.2v1.2h-1.2zM359.5 102.3h1.2v1.2h-1.2zM362.7 104.0h1.2v1.2h-1.2zM337.8 107.4h1.2v1.2h-1.2zM366.9 99.6h1.2v1.2h-1.2zM353.3 96.8h1.2v1.2h-1.2zM337.6 119.3h1.2v1.2h-1.2zM358.9 98.9h1.2v1.2h-1.2zM354.7 109.5h1.2v1.2h-1.2zM341.4 99.2h1.2v1.2h-1.2zM359.7 106.4h1.2v1.2h-1.2zM359.3 93.9h1.2v1.2h-1.2zM362.8 103.8h1.2v1.2h-1.2zM365.3 101.4h1.2v1.2h-1.2zM337.8 121.4h1.2v1.2h-1.2zM345.1 97.7h1.2v1.2h-1.2zM345.2 113.0h1.2v1.2h-1.2zM348.2 110.2h1.2v1.2h-1.2zM335.2 117.3h1.2v1.2h-1.2zM343.2 117.1h1.2v1.2h-1.2zM345.7 118.6h1.2v1.2h-1.2zM332.8 122.9h1.2v1.2h-1.2zM350.9 110.7h1.2v1.2h-1.2zM369.1 99.8h1.2v1.2h-1.2zM337.7 95.5h1.2v1.2h-1.2zM340.4 120.9h1.2v1.2h-1.2zM358.4 98.8h1.2v1.2h-1.2zM353.5 110.5h1.2v1.2h-1.2zM358.5 95.6h1.2v1.2h-1.2zM350.1 109.7h1.2v1.2h-1.2zM341.6 96.2h1.2v1.2h-1.2zM346.6 96.8h1.2v1.2h-1.2zM336.3 112.2h1.2v1.2h-1.2zM360.3 97.7h1.2v1.2h-1.2zM345.9 106.8h1.2v1.2h-1.2zM361.5 103.9h1.2v1.2h-1.2zM340.0 103.8h1.2v1.2h-1.2zM340.4 106.9h1.2v1.2h-1.2zM355.7 104.8h1.2v1.2h-1.2zM336.2 115.4h1.2v1.2h-1.2zM335.2 120.5h1.2v1.2h-1.2zM340.3 122.0h1.2v1.2h-1.2zM339.0 124.9h1.2v1.2h-1.2zM337.3 117.7h1.2v1.2h-1.2zM337.7 117.7h1.2v1.2h-1.2zM336.3 125.4h1.2v1.2h-1.2zM337.1 117.5h1.2v1.2h-1.2zM336.1 119.6h1.2v1.2h-1.2zM340.4 117.9h1.2v1.2h-1.2zM334.0 122.1h1.2v1.2h-1.2zM332.1 121.5h1.2v1.2h-1.2zM340.5 120.6h1.2v1.2h-1.2zM333.6 120.0h1.2v1.2h-1.2zM336.2 116.3h1.2v1.2h-1.2zM333.8 119.3h1.2v1.2h-1.2zM333.8 117.4h1.2v1.2h-1.2zM331.8 120.9h1.2v1.2h-1.2zM339.3 121.7h1.2v1.2h-1.2zM336.6 122.2h1.2v1.2h-1.2zM332.9 122.9h1.2v1.2h-1.2zM335.5 121.0h1.2v1.2h-1.2zM337.0 120.0h1.2v1.2h-1.2zM334.0 117.4h1.2v1.2h-1.2zM333.1 120.5h1.2v1.2h-1.2zM334.7 121.4h1.2v1.2h-1.2zM339.5 117.3h1.2v1.2h-1.2zM336.5 120.3h1.2v1.2h-1.2zM333.9 123.6h1.2v1.2h-1.2zM339.6 119.7h1.2v1.2h-1.2zM331.5 119.1h1.2v1.2h-1.2zM335.3 123.2h1.2v1.2h-1.2zM332.0 117.2h1.2v1.2h-1.2zM332.4 118.5h1.2v1.2h-1.2zM334.4 122.5h1.2v1.2h-1.2zM337.1 124.5h1.2v1.2h-1.2zM339.1 120.6h1.2v1.2h-1.2zM338.3 123.2h1.2v1.2h-1.2zM338.5 120.1h1.2v1.2h-1.2zM338.7 122.8h1.2v1.2h-1.2zM338.6 121.4h1.2v1.2h-1.2zM335.9 125.8h1.2v1.2h-1.2zM336.6 119.4h1.2v1.2h-1.2zM338.7 124.8h1.2v1.2h-1.2zM337.0 119.0h1.2v1.2h-1.2zM335.4 119.9h1.2v1.2h-1.2zM338.1 118.0h1.2v1.2h-1.2zM334.8 121.0h1.2v1.2h-1.2zM334.7 118.3h1.2v1.2h-1.2zM338.8 124.5h1.2v1.2h-1.2zM335.9 119.7h1.2v1.2h-1.2zM332.7 118.1h1.2v1.2h-1.2zM332.3 121.3h1.2v1.2h-1.2zM336.7 115.6h1.2v1.2h-1.2zM340.1 118.3h1.2v1.2h-1.2zM339.3 124.4h1.2v1.2h-1.2zM335.2 125.2h1.2v1.2h-1.2zM336.5 120.4h1.2v1.2h-1.2zM336.3 126.2h1.2v1.2h-1.2zM336.1 120.6h1.2v1.2h-1.2zM337.8 119.1h1.2v1.2h-1.2zM334.5 121.5h1.2v1.2h-1.2zM334.4 125.6h1.2v1.2h-1.2zM337.7 120.7h1.2v1.2h-1.2zM331.9 118.9h1.2v1.2h-1.2zM334.9 121.1h1.2v1.2h-1.2zM336.6 124.8h1.2v1.2h-1.2zM340.5 120.2h1.2v1.2h-1.2zM335.3 121.9h1.2v1.2h-1.2zM336.2 124.1h1.2v1.2h-1.2zM332.6 118.3h1.2v1.2h-1.2zM336.0 115.8h1.2v1.2h-1.2zM339.8 122.6h1.2v1.2h-1.2zM339.8 119.5h1.2v1.2h-1.2zM332.5 117.9h1.2v1.2h-1.2zM336.0 120.5h1.2v1.2h-1.2zM332.8 116.7h1.2v1.2h-1.2zM337.2 121.6h1.2v1.2h-1.2zM337.3 115.0h1.2v1.2h-1.2zM335.0 123.8h1.2v1.2h-1.2zM334.0 122.6h1.2v1.2h-1.2zM339.3 121.4h1.2v1.2h-1.2zM337.6 116.9h1.2v1.2h-1.2zM335.9 121.0h1.2v1.2h-1.2zM333.6 122.1h1.2v1.2h-1.2zM336.2 126.2h1.2v1.2h-1.2zM336.6 119.4h1.2v1.2h-1.2zM338.5 115.8h1.2v1.2h-1.2zM336.1 124.2h1.2v1.2h-1.2zM337.0 124.0h1.2v1.2h-1.2zM338.6 118.3h1.2v1.2h-1.2zM346.8 105.0h1.2v1.2h-1.2zM341.9 104.1h1.2v1.2h-1.2zM345.6 104.9h1.2v1.2h-1.2zM344.4 105.3h1.2v1.2h-1.2zM345.6 110.9h1.2v1.2h-1.2zM344.4 107.6h1.2v1.2h-1.2zM343.2 110.3h1.2v1.2h-1.2zM347.7 104.5h1.2v1.2h-1.2zM345.8 110.9h1.2v1.2h-1.2zM344.9 110.8h1.2v1.2h-1.2zM342.6 105.3h1.2v1.2h-1.2zM346.9 103.7h1.2v1.2h-1.2zM343.2 110.1h1.2v1.2h-1.2zM344.8 109.3h1.2v1.2h-1.2zM342.6 103.2h1.2v1.2h-1.2zM343.6 103.3h1.2v1.2h-1.2zM345.5 102.6h1.2v1.2h-1.2zM345.2 105.3h1.2v1.2h-1.2zM344.0 102.2h1.2v1.2h-1.2zM343.6 103.9h1.2v1.2h-1.2zM342.1 104.3h1.2v1.2h-1.2zM346.4 104.9h1.2v1.2h-1.2zM341.8 108.4h1.2v1.2h-1.2zM341.2 104.2h1.2v1.2h-1.2zM344.4 109.7h1.2v1.2h-1.2zM347.6 103.1h1.2v1.2h-1.2zM343.6 108.6h1.2v1.2h-1.2zM343.8 110.9h1.2v1.2h-1.2zM344.9 103.7h1.2v1.2h-1.2zM344.5 102.8h1.2v1.2h-1.2zM346.8 104.1h1.2v1.2h-1.2zM348.5 107.3h1.2v1.2h-1.2zM343.7 103.9h1.2v1.2h-1.2zM345.9 103.6h1.2v1.2h-1.2zM345.0 106.8h1.2v1.2h-1.2zM342.8 109.0h1.2v1.2h-1.2zM343.9 107.9h1.2v1.2h-1.2zM345.5 104.6h1.2v1.2h-1.2zM343.9 102.4h1.2v1.2h-1.2zM342.0 109.8h1.2v1.2h-1.2zM343.3 108.0h1.2v1.2h-1.2zM341.4 107.0h1.2v1.2h-1.2zM343.7 106.4h1.2v1.2h-1.2zM343.1 102.2h1.2v1.2h-1.2zM343.2 103.7h1.2v1.2h-1.2zM341.5 108.5h1.2v1.2h-1.2zM342.9 105.5h1.2v1.2h-1.2zM348.6 109.1h1.2v1.2h-1.2zM341.6 104.2h1.2v1.2h-1.2zM346.4 105.0h1.2v1.2h-1.2zM344.1 108.0h1.2v1.2h-1.2zM352.5 84.4h1.2v1.2h-1.2zM352.9 84.8h1.2v1.2h-1.2zM352.3 84.2h1.2v1.2h-1.2zM352.6 86.2h1.2v1.2h-1.2zM350.9 84.2h1.2v1.2h-1.2zM351.3 84.9h1.2v1.2h-1.2zM352.3 84.2h1.2v1.2h-1.2zM352.9 85.7h1.2v1.2h-1.2zM352.5 84.4h1.2v1.2h-1.2zM351.7 86.1h1.2v1.2h-1.2zM357.9 88.2h1.2v1.2h-1.2zM357.9 87.7h1.2v1.2h-1.2zM356.4 88.3h1.2v1.2h-1.2zM357.7 86.2h1.2v1.2h-1.2zM357.6 87.1h1.2v1.2h-1.2zM389.1 96.6h1.2v1.2h-1.2zM394.8 89.9h1.2v1.2h-1.2zM394.4 94.3h1.2v1.2h-1.2zM388.8 96.6h1.2v1.2h-1.2zM385.6 90.4h1.2v1.2h-1.2zM379.8 91.3h1.2v1.2h-1.2zM389.5 83.6h1.2v1.2h-1.2zM387.8 96.2h1.2v1.2h-1.2zM375.0 91.9h1.2v1.2h-1.2zM395.5 93.4h1.2v1.2h-1.2zM383.2 87.0h1.2v1.2h-1.2zM369.1 88.8h1.2v1.2h-1.2zM379.3 86.2h1.2v1.2h-1.2zM387.9 94.0h1.2v1.2h-1.2zM374.3 86.9h1.2v1.2h-1.2zM382.3 90.2h1.2v1.2h-1.2zM394.5 88.7h1.2v1.2h-1.2zM371.5 92.2h1.2v1.2h-1.2zM383.3 95.4h1.2v1.2h-1.2zM384.8 90.5h1.2v1.2h-1.2zM389.6 96.6h1.2v1.2h-1.2zM370.7 87.7h1.2v1.2h-1.2zM377.9 86.3h1.2v1.2h-1.2zM369.1 87.5h1.2v1.2h-1.2zM376.8 90.6h1.2v1.2h-1.2zM377.9 85.7h1.2v1.2h-1.2zM396.2 95.3h1.2v1.2h-1.2zM395.8 92.2h1.2v1.2h-1.2zM370.6 91.0h1.2v1.2h-1.2zM380.0 86.0h1.2v1.2h-1.2zM394.1 93.5h1.2v1.2h-1.2zM385.6 98.3h1.2v1.2h-1.2zM386.3 87.0h1.2v1.2h-1.2zM391.7 87.8h1.2v1.2h-1.2zM372.8 93.4h1.2v1.2h-1.2zM391.9 98.2h1.2v1.2h-1.2zM391.5 95.1h1.2v1.2h-1.2zM376.9 85.9h1.2v1.2h-1.2zM391.3 88.2h1.2v1.2h-1.2zM378.1 92.0h1.2v1.2h-1.2zM383.8 93.3h1.2v1.2h-1.2zM391.2 94.5h1.2v1.2h-1.2zM393.7 98.5h1.2v1.2h-1.2zM381.7 91.1h1.2v1.2h-1.2zM372.0 87.8h1.2v1.2h-1.2zM387.4 85.6h1.2v1.2h-1.2zM380.1 86.0h1.2v1.2h-1.2zM391.8 97.0h1.2v1.2h-1.2zM390.2 89.9h1.2v1.2h-1.2zM375.6 93.8h1.2v1.2h-1.2zM382.3 89.8h1.2v1.2h-1.2zM377.2 90.1h1.2v1.2h-1.2zM386.7 96.5h1.2v1.2h-1.2zM393.6 85.6h1.2v1.2h-1.2zM376.0 90.2h1.2v1.2h-1.2zM383.7 88.6h1.2v1.2h-1.2zM376.8 90.5h1.2v1.2h-1.2zM395.6 97.9h1.2v1.2h-1.2zM392.5 99.0h1.2v1.2h-1.2zM395.3 93.1h1.2v1.2h-1.2zM390.9 83.9h1.2v1.2h-1.2zM387.0 93.0h1.2v1.2h-1.2zM376.0 92.3h1.2v1.2h-1.2zM395.0 90.8h1.2v1.2h-1.2zM386.2 87.8h1.2v1.2h-1.2zM387.1 90.3h1.2v1.2h-1.2zM378.2 92.5h1.2v1.2h-1.2zM379.5 91.6h1.2v1.2h-1.2zM383.8 89.4h1.2v1.2h-1.2zM393.2 91.9h1.2v1.2h-1.2zM382.8 87.1h1.2v1.2h-1.2zM381.6 92.0h1.2v1.2h-1.2zM374.0 92.3h1.2v1.2h-1.2zM370.7 91.4h1.2v1.2h-1.2zM383.4 94.7h1.2v1.2h-1.2zM389.4 84.8h1.2v1.2h-1.2zM396.1 94.8h1.2v1.2h-1.2zM378.8 85.7h1.2v1.2h-1.2zM395.2 92.2h1.2v1.2h-1.2zM389.9 85.2h1.2v1.2h-1.2zM389.9 83.8h1.2v1.2h-1.2zM374.3 89.0h1.2v1.2h-1.2zM373.6 87.8h1.2v1.2h-1.2zM387.9 89.9h1.2v1.2h-1.2zM393.2 93.1h1.2v1.2h-1.2zM392.7 92.2h1.2v1.2h-1.2zM394.0 97.3h1.2v1.2h-1.2zM377.3 95.5h1.2v1.2h-1.2zM387.1 96.5h1.2v1.2h-1.2zM371.0 89.1h1.2v1.2h-1.2zM388.8 98.5h1.2v1.2h-1.2zM388.3 83.6h1.2v1.2h-1.2zM384.9 84.5h1.2v1.2h-1.2zM383.3 96.1h1.2v1.2h-1.2zM387.0 87.1h1.2v1.2h-1.2zM373.0 90.3h1.2v1.2h-1.2zM391.7 92.5h1.2v1.2h-1.2zM372.8 92.0h1.2v1.2h-1.2zM375.8 94.2h1.2v1.2h-1.2zM392.8 91.8h1.2v1.2h-1.2zM387.4 96.2h1.2v1.2h-1.2zM382.0 97.3h1.2v1.2h-1.2zM390.6 83.5h1.2v1.2h-1.2zM387.1 89.4h1.2v1.2h-1.2zM381.2 85.5h1.2v1.2h-1.2zM391.9 89.4h1.2v1.2h-1.2zM392.7 93.0h1.2v1.2h-1.2zM369.6 88.3h1.2v1.2h-1.2zM372.3 88.9h1.2v1.2h-1.2zM381.0 92.4h1.2v1.2h-1.2zM378.6 88.7h1.2v1.2h-1.2zM386.9 87.4h1.2v1.2h-1.2zM375.3 91.2h1.2v1.2h-1.2zM375.0 92.3h1.2v1.2h-1.2zM383.7 95.6h1.2v1.2h-1.2zM392.7 95.7h1.2v1.2h-1.2zM393.1 93.2h1.2v1.2h-1.2zM390.7 87.2h1.2v1.2h-1.2zM394.6 97.2h1.2v1.2h-1.2zM395.8 94.0h1.2v1.2h-1.2zM390.1 95.4h1.2v1.2h-1.2zM394.1 91.1h1.2v1.2h-1.2zM393.1 88.4h1.2v1.2h-1.2zM392.4 89.3h1.2v1.2h-1.2zM391.7 88.6h1.2v1.2h-1.2zM389.6 86.4h1.2v1.2h-1.2zM390.5 84.7h1.2v1.2h-1.2zM391.5 90.0h1.2v1.2h-1.2zM392.5 87.5h1.2v1.2h-1.2zM388.9 83.5h1.2v1.2h-1.2zM390.1 87.6h1.2v1.2h-1.2zM393.9 91.8h1.2v1.2h-1.2zM395.8 88.2h1.2v1.2h-1.2zM395.7 92.3h1.2v1.2h-1.2zM388.1 85.4h1.2v1.2h-1.2zM392.6 99.2h1.2v1.2h-1.2zM390.6 95.6h1.2v1.2h-1.2zM391.3 97.2h1.2v1.2h-1.2zM395.5 87.1h1.2v1.2h-1.2zM388.9 87.0h1.2v1.2h-1.2zM393.7 86.1h1.2v1.2h-1.2zM391.0 85.8h1.2v1.2h-1.2zM392.8 97.1h1.2v1.2h-1.2zM393.2 85.7h1.2v1.2h-1.2zM394.0 98.8h1.2v1.2h-1.2zM392.8 83.7h1.2v1.2h-1.2zM394.7 97.3h1.2v1.2h-1.2zM390.5 84.7h1.2v1.2h-1.2zM389.1 91.5h1.2v1.2h-1.2zM395.3 93.3h1.2v1.2h-1.2zM390.3 95.1h1.2v1.2h-1.2zM393.2 89.3h1.2v1.2h-1.2zM393.5 88.1h1.2v1.2h-1.2zM390.4 90.8h1.2v1.2h-1.2zM392.8 86.8h1.2v1.2h-1.2zM395.7 92.0h1.2v1.2h-1.2zM392.9 94.7h1.2v1.2h-1.2zM390.4 84.0h1.2v1.2h-1.2zM388.8 84.8h1.2v1.2h-1.2zM394.3 83.9h1.2v1.2h-1.2zM394.7 89.6h1.2v1.2h-1.2zM392.2 92.4h1.2v1.2h-1.2zM392.4 93.6h1.2v1.2h-1.2zM392.8 88.0h1.2v1.2h-1.2zM394.1 86.8h1.2v1.2h-1.2zM393.8 95.4h1.2v1.2h-1.2zM394.4 87.7h1.2v1.2h-1.2zM394.4 99.0h1.2v1.2h-1.2zM391.5 87.1h1.2v1.2h-1.2zM392.1 98.4h1.2v1.2h-1.2zM391.7 93.5h1.2v1.2h-1.2zM394.4 88.6h1.2v1.2h-1.2zM394.2 83.9h1.2v1.2h-1.2zM387.7 84.7h1.2v1.2h-1.2zM392.4 85.5h1.2v1.2h-1.2zM395.9 88.6h1.2v1.2h-1.2zM388.7 85.4h1.2v1.2h-1.2zM394.0 98.1h1.2v1.2h-1.2zM394.4 86.5h1.2v1.2h-1.2zM396.2 90.9h1.2v1.2h-1.2zM393.1 88.3h1.2v1.2h-1.2zM394.6 90.2h1.2v1.2h-1.2zM390.3 97.8h1.2v1.2h-1.2zM391.0 97.1h1.2v1.2h-1.2zM391.1 98.0h1.2v1.2h-1.2zM395.9 93.1h1.2v1.2h-1.2zM389.4 86.7h1.2v1.2h-1.2zM389.8 89.8h1.2v1.2h-1.2zM389.5 85.9h1.2v1.2h-1.2zM394.2 93.3h1.2v1.2h-1.2zM389.3 92.1h1.2v1.2h-1.2zM395.2 86.9h1.2v1.2h-1.2zM394.2 96.4h1.2v1.2h-1.2zM389.9 88.0h1.2v1.2h-1.2zM391.8 97.5h1.2v1.2h-1.2zM392.8 90.1h1.2v1.2h-1.2zM392.6 97.4h1.2v1.2h-1.2zM390.6 95.7h1.2v1.2h-1.2zM395.2 85.5h1.2v1.2h-1.2zM395.2 99.3h1.2v1.2h-1.2zM388.3 85.3h1.2v1.2h-1.2zM393.5 83.9h1.2v1.2h-1.2zM390.5 98.0h1.2v1.2h-1.2zM393.8 97.4h1.2v1.2h-1.2zM393.6 83.0h1.2v1.2h-1.2zM391.9 86.3h1.2v1.2h-1.2zM391.3 84.2h1.2v1.2h-1.2zM390.2 97.3h1.2v1.2h-1.2zM388.5 90.7h1.2v1.2h-1.2zM388.6 89.7h1.2v1.2h-1.2zM391.9 84.3h1.2v1.2h-1.2zM390.6 90.8h1.2v1.2h-1.2zM395.7 88.3h1.2v1.2h-1.2zM395.3 94.8h1.2v1.2h-1.2zM389.9 85.4h1.2v1.2h-1.2zM389.8 83.6h1.2v1.2h-1.2zM391.1 91.9h1.2v1.2h-1.2zM393.6 93.5h1.2v1.2h-1.2zM392.3 91.7h1.2v1.2h-1.2zM393.6 99.1h1.2v1.2h-1.2zM395.3 94.6h1.2v1.2h-1.2zM391.0 87.8h1.2v1.2h-1.2zM391.2 98.9h1.2v1.2h-1.2zM390.9 89.0h1.2v1.2h-1.2zM391.1 84.8h1.2v1.2h-1.2zM392.9 98.1h1.2v1.2h-1.2zM396.3 113.8h1.2v1.2h-1.2zM403.8 106.5h1.2v1.2h-1.2zM401.4 110.1h1.2v1.2h-1.2zM400.8 113.0h1.2v1.2h-1.2zM396.1 114.1h1.2v1.2h-1.2zM401.9 110.8h1.2v1.2h-1.2zM401.6 111.0h1.2v1.2h-1.2zM399.5 113.9h1.2v1.2h-1.2zM401.2 110.1h1.2v1.2h-1.2zM400.6 113.0h1.2v1.2h-1.2zM396.0 113.9h1.2v1.2h-1.2zM396.4 117.7h1.2v1.2h-1.2zM398.8 115.3h1.2v1.2h-1.2zM399.4 112.1h1.2v1.2h-1.2zM399.4 112.8h1.2v1.2h-1.2zM402.8 109.0h1.2v1.2h-1.2zM395.4 116.6h1.2v1.2h-1.2zM398.7 114.2h1.2v1.2h-1.2zM403.4 106.5h1.2v1.2h-1.2zM397.8 116.7h1.2v1.2h-1.2zM402.8 107.5h1.2v1.2h-1.2zM401.4 111.7h1.2v1.2h-1.2zM398.9 116.3h1.2v1.2h-1.2zM402.1 107.8h1.2v1.2h-1.2zM401.2 110.7h1.2v1.2h-1.2zM399.4 109.0h1.2v1.2h-1.2zM397.7 110.3h1.2v1.2h-1.2zM395.7 113.3h1.2v1.2h-1.2zM401.7 109.5h1.2v1.2h-1.2zM403.0 107.1h1.2v1.2h-1.2zM398.5 110.7h1.2v1.2h-1.2zM401.6 109.7h1.2v1.2h-1.2zM398.1 114.3h1.2v1.2h-1.2zM402.7 110.5h1.2v1.2h-1.2zM397.8 113.4h1.2v1.2h-1.2zM404.0 108.4h1.2v1.2h-1.2zM397.7 114.6h1.2v1.2h-1.2zM402.1 110.8h1.2v1.2h-1.2zM399.4 112.4h1.2v1.2h-1.2zM398.7 111.9h1.2v1.2h-1.2zM403.1 111.3h1.2v1.2h-1.2zM398.5 112.3h1.2v1.2h-1.2zM401.2 113.1h1.2v1.2h-1.2zM394.3 116.5h1.2v1.2h-1.2zM402.1 113.2h1.2v1.2h-1.2zM401.6 112.2h1.2v1.2h-1.2zM398.2 113.5h1.2v1.2h-1.2zM403.4 107.8h1.2v1.2h-1.2zM397.2 112.6h1.2v1.2h-1.2zM399.3 111.4h1.2v1.2h-1.2zM403.3 109.2h1.2v1.2h-1.2zM399.6 110.8h1.2v1.2h-1.2zM398.7 112.3h1.2v1.2h-1.2zM400.1 110.7h1.2v1.2h-1.2zM402.6 108.5h1.2v1.2h-1.2zM399.5 111.2h1.2v1.2h-1.2zM399.9 110.1h1.2v1.2h-1.2zM396.5 116.2h1.2v1.2h-1.2zM396.8 115.1h1.2v1.2h-1.2zM403.3 106.8h1.2v1.2h-1.2zM400.3 108.2h1.2v1.2h-1.2zM402.6 112.4h1.2v1.2h-1.2zM403.0 107.8h1.2v1.2h-1.2zM404.0 108.6h1.2v1.2h-1.2zM398.2 114.5h1.2v1.2h-1.2zM396.4 117.7h1.2v1.2h-1.2zM401.3 107.9h1.2v1.2h-1.2zM393.9 116.8h1.2v1.2h-1.2zM400.1 110.0h1.2v1.2h-1.2zM403.9 110.1h1.2v1.2h-1.2zM403.1 107.9h1.2v1.2h-1.2zM397.8 114.2h1.2v1.2h-1.2zM396.0 113.0h1.2v1.2h-1.2zM401.8 111.5h1.2v1.2h-1.2zM402.9 107.5h1.2v1.2h-1.2zM402.0 112.4h1.2v1.2h-1.2zM404.1 107.1h1.2v1.2h-1.2zM400.3 112.9h1.2v1.2h-1.2zM396.5 117.5h1.2v1.2h-1.2zM403.1 108.9h1.2v1.2h-1.2zM397.2 111.7h1.2v1.2h-1.2zM396.2 115.6h1.2v1.2h-1.2zM395.5 116.1h1.2v1.2h-1.2zM400.2 111.9h1.2v1.2h-1.2zM394.5 114.3h1.2v1.2h-1.2zM394.9 113.4h1.2v1.2h-1.2zM397.5 110.8h1.2v1.2h-1.2zM401.0 108.0h1.2v1.2h-1.2zM395.4 118.1h1.2v1.2h-1.2zM397.2 116.8h1.2v1.2h-1.2zM403.5 107.4h1.2v1.2h-1.2zM399.1 112.9h1.2v1.2h-1.2zM395.3 112.9h1.2v1.2h-1.2zM459.8 41.2h1.2v1.2h-1.2zM457.5 41.4h1.2v1.2h-1.2zM457.5 39.8h1.2v1.2h-1.2zM457.8 44.2h1.2v1.2h-1.2zM459.7 44.3h1.2v1.2h-1.2zM459.6 43.7h1.2v1.2h-1.2zM460.2 43.1h1.2v1.2h-1.2zM457.7 43.5h1.2v1.2h-1.2zM457.1 40.6h1.2v1.2h-1.2zM456.2 41.4h1.2v1.2h-1.2zM459.8 40.8h1.2v1.2h-1.2zM460.3 40.4h1.2v1.2h-1.2zM460.4 43.7h1.2v1.2h-1.2zM461.3 39.4h1.2v1.2h-1.2zM457.8 42.6h1.2v1.2h-1.2zM460.6 43.1h1.2v1.2h-1.2zM462.0 41.1h1.2v1.2h-1.2zM462.0 41.8h1.2v1.2h-1.2zM463.0 41.5h1.2v1.2h-1.2zM459.0 39.6h1.2v1.2h-1.2zM457.8 43.4h1.2v1.2h-1.2zM461.0 40.0h1.2v1.2h-1.2zM458.5 39.9h1.2v1.2h-1.2zM457.5 40.4h1.2v1.2h-1.2zM459.5 42.0h1.2v1.2h-1.2zM461.8 44.4h1.2v1.2h-1.2zM461.6 42.8h1.2v1.2h-1.2zM457.5 42.7h1.2v1.2h-1.2zM462.3 43.7h1.2v1.2h-1.2zM456.7 43.3h1.2v1.2h-1.2zM458.6 40.0h1.2v1.2h-1.2zM461.5 39.9h1.2v1.2h-1.2zM462.7 43.4h1.2v1.2h-1.2zM462.2 43.8h1.2v1.2h-1.2zM460.4 41.6h1.2v1.2h-1.2zM462.1 43.7h1.2v1.2h-1.2zM462.4 40.8h1.2v1.2h-1.2zM463.1 42.2h1.2v1.2h-1.2zM457.9 44.0h1.2v1.2h-1.2zM457.7 40.2h1.2v1.2h-1.2zM459.4 40.5h1.2v1.2h-1.2zM459.6 44.4h1.2v1.2h-1.2zM461.1 43.2h1.2v1.2h-1.2zM458.9 43.7h1.2v1.2h-1.2zM461.9 43.1h1.2v1.2h-1.2zM458.1 48.8h1.2v1.2h-1.2zM460.0 56.1h1.2v1.2h-1.2zM457.5 53.7h1.2v1.2h-1.2zM461.4 55.7h1.2v1.2h-1.2zM454.9 52.7h1.2v1.2h-1.2zM461.2 52.0h1.2v1.2h-1.2zM459.6 52.4h1.2v1.2h-1.2zM457.5 50.0h1.2v1.2h-1.2zM457.7 56.2h1.2v1.2h-1.2zM459.7 50.8h1.2v1.2h-1.2zM455.6 50.6h1.2v1.2h-1.2zM460.4 52.2h1.2v1.2h-1.2zM460.1 55.8h1.2v1.2h-1.2zM455.8 54.6h1.2v1.2h-1.2zM456.3 50.6h1.2v1.2h-1.2zM462.4 51.5h1.2v1.2h-1.2zM456.6 56.6h1.2v1.2h-1.2zM459.7 56.6h1.2v1.2h-1.2zM458.0 52.8h1.2v1.2h-1.2zM462.4 52.9h1.2v1.2h-1.2zM461.4 49.5h1.2v1.2h-1.2zM459.0 47.9h1.2v1.2h-1.2zM458.4 55.8h1.2v1.2h-1.2zM456.9 51.4h1.2v1.2h-1.2zM455.7 53.3h1.2v1.2h-1.2zM461.6 52.9h1.2v1.2h-1.2zM457.8 57.0h1.2v1.2h-1.2zM461.9 54.4h1.2v1.2h-1.2zM455.5 54.0h1.2v1.2h-1.2zM458.4 57.3h1.2v1.2h-1.2zM457.7 54.4h1.2v1.2h-1.2zM459.8 51.6h1.2v1.2h-1.2zM459.0 54.5h1.2v1.2h-1.2zM462.0 52.8h1.2v1.2h-1.2zM457.7 57.4h1.2v1.2h-1.2zM460.2 53.4h1.2v1.2h-1.2zM458.4 55.2h1.2v1.2h-1.2zM461.9 55.0h1.2v1.2h-1.2zM457.4 49.3h1.2v1.2h-1.2zM456.0 53.7h1.2v1.2h-1.2zM459.4 48.4h1.2v1.2h-1.2zM458.0 55.2h1.2v1.2h-1.2zM459.9 50.7h1.2v1.2h-1.2zM460.8 50.8h1.2v1.2h-1.2zM459.1 52.0h1.2v1.2h-1.2zM461.2 54.5h1.2v1.2h-1.2zM457.9 57.3h1.2v1.2h-1.2zM460.4 54.7h1.2v1.2h-1.2zM457.1 49.5h1.2v1.2h-1.2zM459.4 56.0h1.2v1.2h-1.2zM461.1 51.3h1.2v1.2h-1.2zM456.0 53.0h1.2v1.2h-1.2zM460.7 49.6h1.2v1.2h-1.2zM457.3 48.4h1.2v1.2h-1.2zM457.2 51.7h1.2v1.2h-1.2zM456.4 50.9h1.2v1.2h-1.2zM457.4 52.2h1.2v1.2h-1.2zM455.7 50.5h1.2v1.2h-1.2zM458.0 51.7h1.2v1.2h-1.2zM458.4 56.1h1.2v1.2h-1.2zM459.9 55.5h1.2v1.2h-1.2zM457.4 49.4h1.2v1.2h-1.2zM460.8 52.5h1.2v1.2h-1.2zM459.3 54.5h1.2v1.2h-1.2zM460.8 50.6h1.2v1.2h-1.2zM457.7 56.9h1.2v1.2h-1.2zM459.0 50.7h1.2v1.2h-1.2zM459.8 50.5h1.2v1.2h-1.2zM461.3 53.4h1.2v1.2h-1.2zM457.7 57.1h1.2v1.2h-1.2zM457.0 50.3h1.2v1.2h-1.2zM455.4 53.3h1.2v1.2h-1.2zM460.8 54.5h1.2v1.2h-1.2zM458.1 55.8h1.2v1.2h-1.2zM455.8 50.9h1.2v1.2h-1.2zM459.9 57.4h1.2v1.2h-1.2zM459.8 54.7h1.2v1.2h-1.2zM460.9 51.8h1.2v1.2h-1.2zM457.6 51.8h1.2v1.2h-1.2zM436.2 66.0h1.2v1.2h-1.2zM428.9 70.7h1.2v1.2h-1.2zM432.6 81.2h1.2v1.2h-1.2zM428.2 79.8h1.2v1.2h-1.2zM432.6 72.3h1.2v1.2h-1.2zM425.5 72.2h1.2v1.2h-1.2zM435.8 79.5h1.2v1.2h-1.2zM418.8 74.9h1.2v1.2h-1.2zM434.9 70.2h1.2v1.2h-1.2zM438.7 81.1h1.2v1.2h-1.2zM434.6 79.0h1.2v1.2h-1.2zM432.1 80.6h1.2v1.2h-1.2zM418.3 75.8h1.2v1.2h-1.2zM433.5 73.2h1.2v1.2h-1.2zM430.8 79.1h1.2v1.2h-1.2zM432.8 83.2h1.2v1.2h-1.2zM436.1 66.3h1.2v1.2h-1.2zM437.1 65.3h1.2v1.2h-1.2zM414.9 73.7h1.2v1.2h-1.2zM429.6 78.6h1.2v1.2h-1.2zM431.5 65.8h1.2v1.2h-1.2zM423.6 72.0h1.2v1.2h-1.2zM420.6 78.2h1.2v1.2h-1.2zM436.3 71.2h1.2v1.2h-1.2zM431.6 76.3h1.2v1.2h-1.2zM430.4 67.4h1.2v1.2h-1.2zM428.4 72.6h1.2v1.2h-1.2zM427.5 60.1h1.2v1.2h-1.2zM426.9 75.2h1.2v1.2h-1.2zM433.6 68.9h1.2v1.2h-1.2zM423.9 61.6h1.2v1.2h-1.2zM425.5 64.2h1.2v1.2h-1.2zM420.0 76.6h1.2v1.2h-1.2zM428.5 68.5h1.2v1.2h-1.2zM420.1 75.8h1.2v1.2h-1.2zM429.7 75.7h1.2v1.2h-1.2zM434.0 76.2h1.2v1.2h-1.2zM434.0 73.7h1.2v1.2h-1.2zM421.8 66.2h1.2v1.2h-1.2zM419.2 73.8h1.2v1.2h-1.2zM436.2 68.9h1.2v1.2h-1.2zM439.1 78.3h1.2v1.2h-1.2zM427.5 79.0h1.2v1.2h-1.2zM429.8 70.4h1.2v1.2h-1.2zM433.7 82.4h1.2v1.2h-1.2zM434.3 67.0h1.2v1.2h-1.2zM436.4 79.5h1.2v1.2h-1.2zM420.5 72.5h1.2v1.2h-1.2zM436.9 78.0h1.2v1.2h-1.2zM431.4 80.7h1.2v1.2h-1.2zM427.7 74.0h1.2v1.2h-1.2zM417.6 72.7h1.2v1.2h-1.2zM426.9 72.5h1.2v1.2h-1.2zM431.7 75.8h1.2v1.2h-1.2zM427.3 67.4h1.2v1.2h-1.2zM432.7 76.0h1.2v1.2h-1.2zM421.2 74.3h1.2v1.2h-1.2zM433.2 69.4h1.2v1.2h-1.2zM420.9 67.2h1.2v1.2h-1.2zM435.8 79.1h1.2v1.2h-1.2zM431.7 76.8h1.2v1.2h-1.2zM440.8 78.5h1.2v1.2h-1.2zM420.6 74.9h1.2v1.2h-1.2zM434.9 59.3h1.2v1.2h-1.2zM419.1 70.5h1.2v1.2h-1.2zM438.5 81.6h1.2v1.2h-1.2zM429.6 79.0h1.2v1.2h-1.2zM428.2 73.4h1.2v1.2h-1.2zM430.6 78.4h1.2v1.2h-1.2zM429.3 64.4h1.2v1.2h-1.2zM436.9 78.7h1.2v1.2h-1.2zM427.0 59.8h1.2v1.2h-1.2zM432.1 62.1h1.2v1.2h-1.2zM434.2 79.8h1.2v1.2h-1.2zM437.4 59.2h1.2v1.2h-1.2zM424.6 64.7h1.2v1.2h-1.2zM435.1 60.5h1.2v1.2h-1.2zM430.9 83.3h1.2v1.2h-1.2zM433.2 72.9h1.2v1.2h-1.2zM428.6 68.9h1.2v1.2h-1.2zM425.6 73.2h1.2v1.2h-1.2zM432.1 81.6h1.2v1.2h-1.2zM434.3 78.3h1.2v1.2h-1.2zM439.1 79.4h1.2v1.2h-1.2zM432.9 79.8h1.2v1.2h-1.2zM426.3 80.5h1.2v1.2h-1.2zM426.6 75.8h1.2v1.2h-1.2zM421.5 64.7h1.2v1.2h-1.2zM424.1 65.3h1.2v1.2h-1.2zM417.3 68.6h1.2v1.2h-1.2zM439.6 77.4h1.2v1.2h-1.2zM434.8 63.9h1.2v1.2h-1.2zM421.4 67.7h1.2v1.2h-1.2zM438.4 81.7h1.2v1.2h-1.2zM423.5 77.6h1.2v1.2h-1.2zM435.4 80.9h1.2v1.2h-1.2zM435.9 71.0h1.2v1.2h-1.2zM423.1 73.6h1.2v1.2h-1.2zM424.6 71.2h1.2v1.2h-1.2zM428.9 74.3h1.2v1.2h-1.2zM429.1 82.2h1.2v1.2h-1.2zM425.6 81.5h1.2v1.2h-1.2zM433.1 83.0h1.2v1.2h-1.2zM433.8 83.6h1.2v1.2h-1.2zM419.5 68.4h1.2v1.2h-1.2zM433.1 75.4h1.2v1.2h-1.2zM434.6 77.1h1.2v1.2h-1.2zM415.5 75.4h1.2v1.2h-1.2zM430.5 74.4h1.2v1.2h-1.2zM430.7 75.5h1.2v1.2h-1.2zM417.8 70.0h1.2v1.2h-1.2zM422.1 77.6h1.2v1.2h-1.2zM422.9 67.6h1.2v1.2h-1.2zM433.1 68.6h1.2v1.2h-1.2zM434.2 59.0h1.2v1.2h-1.2zM436.9 57.2h1.2v1.2h-1.2zM436.8 62.6h1.2v1.2h-1.2zM437.5 78.5h1.2v1.2h-1.2zM438.9 60.7h1.2v1.2h-1.2zM432.3 72.5h1.2v1.2h-1.2zM432.4 61.4h1.2v1.2h-1.2zM432.1 72.1h1.2v1.2h-1.2zM424.5 76.3h1.2v1.2h-1.2zM421.5 66.5h1.2v1.2h-1.2zM428.7 59.5h1.2v1.2h-1.2zM421.4 78.3h1.2v1.2h-1.2zM422.4 66.9h1.2v1.2h-1.2zM435.1 62.6h1.2v1.2h-1.2zM425.0 66.4h1.2v1.2h-1.2zM431.9 69.4h1.2v1.2h-1.2zM437.9 57.8h1.2v1.2h-1.2zM432.5 79.4h1.2v1.2h-1.2zM426.5 59.6h1.2v1.2h-1.2zM427.0 76.0h1.2v1.2h-1.2zM427.6 61.2h1.2v1.2h-1.2zM420.9 68.5h1.2v1.2h-1.2zM424.4 69.3h1.2v1.2h-1.2zM434.6 71.9h1.2v1.2h-1.2zM437.6 59.4h1.2v1.2h-1.2zM437.8 62.2h1.2v1.2h-1.2zM434.3 58.4h1.2v1.2h-1.2zM426.9 65.1h1.2v1.2h-1.2zM420.3 74.6h1.2v1.2h-1.2zM432.2 70.6h1.2v1.2h-1.2zM434.5 71.2h1.2v1.2h-1.2zM421.0 70.1h1.2v1.2h-1.2zM430.9 74.3h1.2v1.2h-1.2zM440.0 76.8h1.2v1.2h-1.2zM437.6 66.5h1.2v1.2h-1.2zM438.8 61.4h1.2v1.2h-1.2zM420.8 72.8h1.2v1.2h-1.2zM438.8 58.7h1.2v1.2h-1.2zM426.5 60.3h1.2v1.2h-1.2zM419.9 77.0h1.2v1.2h-1.2zM430.3 82.2h1.2v1.2h-1.2zM425.5 75.1h1.2v1.2h-1.2zM421.0 69.5h1.2v1.2h-1.2zM428.4 82.5h1.2v1.2h-1.2zM431.3 62.4h1.2v1.2h-1.2zM437.0 62.0h1.2v1.2h-1.2zM423.4 67.6h1.2v1.2h-1.2zM423.9 74.8h1.2v1.2h-1.2zM421.7 68.9h1.2v1.2h-1.2zM429.7 76.0h1.2v1.2h-1.2zM428.7 72.4h1.2v1.2h-1.2zM438.4 58.0h1.2v1.2h-1.2zM430.4 68.8h1.2v1.2h-1.2zM425.7 80.8h1.2v1.2h-1.2zM432.4 80.1h1.2v1.2h-1.2zM422.5 64.3h1.2v1.2h-1.2zM426.0 71.0h1.2v1.2h-1.2zM437.4 78.6h1.2v1.2h-1.2zM432.2 70.5h1.2v1.2h-1.2zM432.3 72.5h1.2v1.2h-1.2zM436.1 81.1h1.2v1.2h-1.2zM430.0 61.4h1.2v1.2h-1.2zM421.1 66.5h1.2v1.2h-1.2zM428.7 75.0h1.2v1.2h-1.2zM431.4 69.4h1.2v1.2h-1.2zM432.7 78.4h1.2v1.2h-1.2zM432.8 75.9h1.2v1.2h-1.2zM432.0 61.4h1.2v1.2h-1.2zM440.3 78.0h1.2v1.2h-1.2zM421.0 68.2h1.2v1.2h-1.2zM438.7 62.8h1.2v1.2h-1.2zM434.4 66.3h1.2v1.2h-1.2zM432.4 77.5h1.2v1.2h-1.2zM425.6 68.0h1.2v1.2h-1.2zM416.9 72.4h1.2v1.2h-1.2zM424.3 75.8h1.2v1.2h-1.2zM426.4 61.2h1.2v1.2h-1.2zM432.8 60.8h1.2v1.2h-1.2zM435.2 79.4h1.2v1.2h-1.2zM431.9 73.9h1.2v1.2h-1.2zM433.6 83.0h1.2v1.2h-1.2zM420.0 77.5h1.2v1.2h-1.2zM422.8 63.4h1.2v1.2h-1.2zM436.7 72.9h1.2v1.2h-1.2zM437.4 80.5h1.2v1.2h-1.2zM430.5 61.9h1.2v1.2h-1.2zM419.4 75.5h1.2v1.2h-1.2zM421.9 76.0h1.2v1.2h-1.2zM423.7 70.8h1.2v1.2h-1.2zM423.3 67.9h1.2v1.2h-1.2zM427.5 63.5h1.2v1.2h-1.2zM431.4 75.6h1.2v1.2h-1.2zM421.8 78.2h1.2v1.2h-1.2zM434.2 65.8h1.2v1.2h-1.2zM427.9 61.6h1.2v1.2h-1.2zM433.2 67.0h1.2v1.2h-1.2zM436.0 78.5h1.2v1.2h-1.2zM417.3 72.5h1.2v1.2h-1.2zM419.9 75.9h1.2v1.2h-1.2zM436.2 78.2h1.2v1.2h-1.2zM432.4 71.9h1.2v1.2h-1.2zM431.7 63.0h1.2v1.2h-1.2zM421.7 68.0h1.2v1.2h-1.2zM429.0 76.3h1.2v1.2h-1.2zM420.7 64.4h1.2v1.2h-1.2zM431.8 75.4h1.2v1.2h-1.2zM431.2 81.2h1.2v1.2h-1.2zM420.2 65.0h1.2v1.2h-1.2zM435.3 79.1h1.2v1.2h-1.2zM433.9 82.8h1.2v1.2h-1.2zM435.9 64.9h1.2v1.2h-1.2zM423.2 76.2h1.2v1.2h-1.2zM416.3 73.2h1.2v1.2h-1.2zM428.5 60.6h1.2v1.2h-1.2zM439.6 80.5h1.2v1.2h-1.2zM427.1 61.8h1.2v1.2h-1.2zM418.0 70.3h1.2v1.2h-1.2zM428.7 66.4h1.2v1.2h-1.2zM433.9 71.0h1.2v1.2h-1.2zM435.4 59.3h1.2v1.2h-1.2zM427.7 63.3h1.2v1.2h-1.2zM423.3 69.5h1.2v1.2h-1.2zM433.7 77.6h1.2v1.2h-1.2zM424.7 68.7h1.2v1.2h-1.2zM426.9 73.9h1.2v1.2h-1.2zM418.2 69.2h1.2v1.2h-1.2zM431.3 64.6h1.2v1.2h-1.2zM435.3 68.4h1.2v1.2h-1.2zM435.2 60.1h1.2v1.2h-1.2zM419.2 71.0h1.2v1.2h-1.2zM437.0 61.1h1.2v1.2h-1.2zM419.4 77.4h1.2v1.2h-1.2zM426.1 65.7h1.2v1.2h-1.2zM421.7 76.8h1.2v1.2h-1.2zM438.5 81.3h1.2v1.2h-1.2zM427.4 82.7h1.2v1.2h-1.2zM430.9 64.3h1.2v1.2h-1.2zM427.2 76.1h1.2v1.2h-1.2zM434.3 60.0h1.2v1.2h-1.2zM423.8 63.2h1.2v1.2h-1.2zM421.6 69.3h1.2v1.2h-1.2zM437.5 65.2h1.2v1.2h-1.2zM419.4 76.9h1.2v1.2h-1.2zM423.9 61.6h1.2v1.2h-1.2zM425.9 79.0h1.2v1.2h-1.2zM430.9 81.1h1.2v1.2h-1.2zM437.4 78.9h1.2v1.2h-1.2zM421.9 66.5h1.2v1.2h-1.2zM424.8 66.1h1.2v1.2h-1.2zM425.7 73.9h1.2v1.2h-1.2zM438.4 77.2h1.2v1.2h-1.2zM436.2 83.6h1.2v1.2h-1.2zM434.2 77.2h1.2v1.2h-1.2zM436.4 63.4h1.2v1.2h-1.2zM432.2 66.9h1.2v1.2h-1.2zM437.1 60.1h1.2v1.2h-1.2zM429.1 65.7h1.2v1.2h-1.2zM436.6 65.9h1.2v1.2h-1.2zM437.2 79.7h1.2v1.2h-1.2zM438.2 60.2h1.2v1.2h-1.2zM439.8 76.9h1.2v1.2h-1.2zM432.8 74.3h1.2v1.2h-1.2zM429.4 68.9h1.2v1.2h-1.2zM423.8 77.9h1.2v1.2h-1.2zM435.6 80.3h1.2v1.2h-1.2zM420.5 65.8h1.2v1.2h-1.2zM436.0 62.6h1.2v1.2h-1.2zM434.5 61.9h1.2v1.2h-1.2zM427.1 67.5h1.2v1.2h-1.2zM436.1 82.6h1.2v1.2h-1.2zM423.0 73.8h1.2v1.2h-1.2zM438.7 76.6h1.2v1.2h-1.2zM430.4 79.2h1.2v1.2h-1.2zM428.6 69.7h1.2v1.2h-1.2zM425.9 80.6h1.2v1.2h-1.2zM432.5 62.1h1.2v1.2h-1.2zM424.4 66.4h1.2v1.2h-1.2zM415.7 72.6h1.2v1.2h-1.2zM426.3 76.1h1.2v1.2h-1.2zM428.7 79.0h1.2v1.2h-1.2zM435.8 66.2h1.2v1.2h-1.2zM420.7 76.9h1.2v1.2h-1.2zM436.1 62.4h1.2v1.2h-1.2zM426.3 66.9h1.2v1.2h-1.2zM433.7 82.0h1.2v1.2h-1.2zM423.6 76.5h1.2v1.2h-1.2zM419.8 71.4h1.2v1.2h-1.2zM428.1 74.8h1.2v1.2h-1.2zM436.0 61.4h1.2v1.2h-1.2zM435.0 80.3h1.2v1.2h-1.2zM428.2 81.1h1.2v1.2h-1.2zM428.4 82.0h1.2v1.2h-1.2zM429.7 60.4h1.2v1.2h-1.2zM431.6 78.5h1.2v1.2h-1.2zM426.1 73.0h1.2v1.2h-1.2zM421.7 64.0h1.2v1.2h-1.2zM426.0 70.5h1.2v1.2h-1.2zM427.3 58.9h1.2v1.2h-1.2zM433.9 77.0h1.2v1.2h-1.2zM428.5 61.2h1.2v1.2h-1.2zM430.8 81.3h1.2v1.2h-1.2zM420.2 72.5h1.2v1.2h-1.2zM434.0 77.0h1.2v1.2h-1.2zM433.7 75.9h1.2v1.2h-1.2zM436.0 75.0h1.2v1.2h-1.2zM418.6 69.0h1.2v1.2h-1.2zM431.8 83.8h1.2v1.2h-1.2zM423.7 77.5h1.2v1.2h-1.2zM419.1 67.7h1.2v1.2h-1.2zM431.2 64.7h1.2v1.2h-1.2zM423.2 70.3h1.2v1.2h-1.2zM419.7 69.6h1.2v1.2h-1.2zM427.7 82.4h1.2v1.2h-1.2zM427.3 61.8h1.2v1.2h-1.2zM430.5 60.4h1.2v1.2h-1.2zM433.5 83.0h1.2v1.2h-1.2zM425.5 66.1h1.2v1.2h-1.2zM426.1 66.1h1.2v1.2h-1.2zM433.2 67.2h1.2v1.2h-1.2zM437.4 76.4h1.2v1.2h-1.2zM424.2 73.7h1.2v1.2h-1.2zM426.3 64.6h1.2v1.2h-1.2zM429.5 74.6h1.2v1.2h-1.2zM434.4 82.5h1.2v1.2h-1.2zM418.7 66.5h1.2v1.2h-1.2zM437.5 78.2h1.2v1.2h-1.2zM430.5 75.0h1.2v1.2h-1.2zM429.4 67.5h1.2v1.2h-1.2zM438.7 78.4h1.2v1.2h-1.2zM427.6 70.0h1.2v1.2h-1.2zM424.5 81.0h1.2v1.2h-1.2zM424.1 71.0h1.2v1.2h-1.2zM427.5 65.5h1.2v1.2h-1.2zM425.1 73.2h1.2v1.2h-1.2zM435.7 63.6h1.2v1.2h-1.2zM424.7 67.1h1.2v1.2h-1.2zM429.1 64.0h1.2v1.2h-1.2zM423.6 79.0h1.2v1.2h-1.2zM419.1 75.4h1.2v1.2h-1.2zM434.3 76.2h1.2v1.2h-1.2zM429.5 81.8h1.2v1.2h-1.2zM426.3 61.7h1.2v1.2h-1.2zM434.7 80.0h1.2v1.2h-1.2zM438.0 77.1h1.2v1.2h-1.2zM430.7 83.3h1.2v1.2h-1.2zM433.6 73.7h1.2v1.2h-1.2zM419.6 73.2h1.2v1.2h-1.2zM432.7 83.1h1.2v1.2h-1.2zM426.4 67.1h1.2v1.2h-1.2zM433.6 61.2h1.2v1.2h-1.2zM424.1 76.7h1.2v1.2h-1.2zM416.4 71.0h1.2v1.2h-1.2zM426.5 78.2h1.2v1.2h-1.2zM430.1 68.8h1.2v1.2h-1.2zM438.2 72.9h1.2v1.2h-1.2zM423.8 67.3h1.2v1.2h-1.2zM439.9 80.0h1.2v1.2h-1.2zM425.0 75.4h1.2v1.2h-1.2zM435.7 70.6h1.2v1.2h-1.2zM425.8 74.8h1.2v1.2h-1.2zM430.0 76.4h1.2v1.2h-1.2zM431.2 65.1h1.2v1.2h-1.2zM424.8 63.8h1.2v1.2h-1.2zM438.8 78.2h1.2v1.2h-1.2zM435.8 79.0h1.2v1.2h-1.2zM423.3 77.2h1.2v1.2h-1.2zM421.8 73.2h1.2v1.2h-1.2zM427.8 64.0h1.2v1.2h-1.2zM439.3 58.7h1.2v1.2h-1.2zM439.5 77.2h1.2v1.2h-1.2zM430.1 81.3h1.2v1.2h-1.2zM430.4 68.2h1.2v1.2h-1.2zM435.5 59.2h1.2v1.2h-1.2zM434.2 74.2h1.2v1.2h-1.2zM417.4 70.0h1.2v1.2h-1.2zM434.0 62.3h1.2v1.2h-1.2zM426.2 72.1h1.2v1.2h-1.2zM436.3 77.3h1.2v1.2h-1.2zM426.9 80.1h1.2v1.2h-1.2zM427.4 59.7h1.2v1.2h-1.2zM434.7 60.4h1.2v1.2h-1.2zM434.5 60.0h1.2v1.2h-1.2zM431.7 66.8h1.2v1.2h-1.2zM421.4 78.8h1.2v1.2h-1.2zM438.6 57.3h1.2v1.2h-1.2zM427.2 69.3h1.2v1.2h-1.2zM433.9 76.5h1.2v1.2h-1.2zM436.5 59.7h1.2v1.2h-1.2zM419.7 70.2h1.2v1.2h-1.2zM435.7 63.3h1.2v1.2h-1.2zM439.1 62.5h1.2v1.2h-1.2zM440.6 77.6h1.2v1.2h-1.2zM431.6 71.1h1.2v1.2h-1.2zM436.2 75.2h1.2v1.2h-1.2zM434.6 62.8h1.2v1.2h-1.2zM427.1 79.0h1.2v1.2h-1.2zM419.1 75.2h1.2v1.2h-1.2zM429.5 67.5h1.2v1.2h-1.2zM427.3 70.0h1.2v1.2h-1.2zM421.9 66.5h1.2v1.2h-1.2zM429.5 77.4h1.2v1.2h-1.2zM430.5 60.9h1.2v1.2h-1.2zM418.5 72.4h1.2v1.2h-1.2zM429.4 65.0h1.2v1.2h-1.2zM431.5 71.9h1.2v1.2h-1.2zM431.7 71.3h1.2v1.2h-1.2zM437.7 74.8h1.2v1.2h-1.2zM424.4 73.0h1.2v1.2h-1.2zM429.5 62.1h1.2v1.2h-1.2zM428.3 59.6h1.2v1.2h-1.2zM437.1 74.8h1.2v1.2h-1.2zM433.0 81.9h1.2v1.2h-1.2zM425.9 81.2h1.2v1.2h-1.2zM430.5 79.1h1.2v1.2h-1.2zM428.5 65.3h1.2v1.2h-1.2zM436.9 83.4h1.2v1.2h-1.2zM424.5 74.6h1.2v1.2h-1.2zM432.2 60.8h1.2v1.2h-1.2zM434.1 71.6h1.2v1.2h-1.2zM430.5 78.4h1.2v1.2h-1.2zM419.1 70.2h1.2v1.2h-1.2zM430.1 71.8h1.2v1.2h-1.2zM425.8 71.3h1.2v1.2h-1.2zM426.0 62.9h1.2v1.2h-1.2zM434.9 63.1h1.2v1.2h-1.2zM436.7 63.0h1.2v1.2h-1.2zM417.3 69.5h1.2v1.2h-1.2zM425.1 65.6h1.2v1.2h-1.2zM435.2 62.5h1.2v1.2h-1.2zM432.6 79.4h1.2v1.2h-1.2zM426.8 70.2h1.2v1.2h-1.2zM417.2 74.2h1.2v1.2h-1.2zM426.1 64.9h1.2v1.2h-1.2zM428.4 82.2h1.2v1.2h-1.2zM422.9 65.3h1.2v1.2h-1.2zM439.0 75.8h1.2v1.2h-1.2zM426.2 61.0h1.2v1.2h-1.2zM437.3 74.2h1.2v1.2h-1.2zM419.0 73.6h1.2v1.2h-1.2zM416.4 70.3h1.2v1.2h-1.2zM434.6 76.1h1.2v1.2h-1.2zM428.4 61.0h1.2v1.2h-1.2zM432.6 68.3h1.2v1.2h-1.2zM438.8 56.5h1.2v1.2h-1.2zM420.7 67.4h1.2v1.2h-1.2zM433.1 83.7h1.2v1.2h-1.2zM423.7 63.7h1.2v1.2h-1.2zM425.5 75.3h1.2v1.2h-1.2zM426.3 60.7h1.2v1.2h-1.2zM416.7 71.3h1.2v1.2h-1.2zM417.5 70.2h1.2v1.2h-1.2zM427.8 61.7h1.2v1.2h-1.2zM432.6 70.0h1.2v1.2h-1.2zM436.3 64.4h1.2v1.2h-1.2zM439.6 78.8h1.2v1.2h-1.2zM427.4 60.3h1.2v1.2h-1.2zM427.7 59.9h1.2v1.2h-1.2zM433.0 75.6h1.2v1.2h-1.2zM430.2 83.2h1.2v1.2h-1.2zM436.1 59.5h1.2v1.2h-1.2zM430.3 76.3h1.2v1.2h-1.2zM424.1 75.5h1.2v1.2h-1.2zM424.6 76.0h1.2v1.2h-1.2zM417.2 76.4h1.2v1.2h-1.2zM437.8 73.9h1.2v1.2h-1.2zM433.9 59.6h1.2v1.2h-1.2zM424.9 74.9h1.2v1.2h-1.2zM424.2 80.5h1.2v1.2h-1.2zM439.0 78.0h1.2v1.2h-1.2zM437.8 72.6h1.2v1.2h-1.2zM420.0 70.7h1.2v1.2h-1.2zM427.6 65.7h1.2v1.2h-1.2zM424.7 70.4h1.2v1.2h-1.2zM430.4 62.5h1.2v1.2h-1.2zM422.2 70.2h1.2v1.2h-1.2zM428.2 67.9h1.2v1.2h-1.2zM432.5 61.5h1.2v1.2h-1.2zM428.9 64.0h1.2v1.2h-1.2zM435.3 75.8h1.2v1.2h-1.2zM435.6 70.6h1.2v1.2h-1.2zM428.4 66.7h1.2v1.2h-1.2zM422.5 67.5h1.2v1.2h-1.2zM433.7 78.9h1.2v1.2h-1.2zM427.6 76.5h1.2v1.2h-1.2zM420.5 68.8h1.2v1.2h-1.2zM424.3 64.8h1.2v1.2h-1.2zM424.4 77.2h1.2v1.2h-1.2zM434.3 62.1h1.2v1.2h-1.2zM421.0 78.0h1.2v1.2h-1.2zM432.2 75.0h1.2v1.2h-1.2zM431.7 75.5h1.2v1.2h-1.2zM432.6 83.0h1.2v1.2h-1.2zM436.2 62.7h1.2v1.2h-1.2zM436.0 76.7h1.2v1.2h-1.2zM427.8 66.6h1.2v1.2h-1.2zM422.0 69.8h1.2v1.2h-1.2zM433.7 81.0h1.2v1.2h-1.2zM437.4 80.3h1.2v1.2h-1.2zM426.5 68.0h1.2v1.2h-1.2zM437.5 65.5h1.2v1.2h-1.2zM437.5 80.9h1.2v1.2h-1.2zM426.2 61.7h1.2v1.2h-1.2zM435.4 66.7h1.2v1.2h-1.2zM426.5 67.3h1.2v1.2h-1.2zM430.6 63.4h1.2v1.2h-1.2zM424.7 77.3h1.2v1.2h-1.2zM423.7 75.1h1.2v1.2h-1.2zM431.4 61.6h1.2v1.2h-1.2zM415.3 74.9h1.2v1.2h-1.2zM431.1 64.5h1.2v1.2h-1.2zM439.0 62.8h1.2v1.2h-1.2zM430.4 72.2h1.2v1.2h-1.2zM423.5 74.1h1.2v1.2h-1.2zM430.8 70.4h1.2v1.2h-1.2zM423.1 67.9h1.2v1.2h-1.2zM421.3 72.5h1.2v1.2h-1.2zM436.0 78.7h1.2v1.2h-1.2zM422.0 77.7h1.2v1.2h-1.2zM420.9 73.6h1.2v1.2h-1.2zM435.5 79.6h1.2v1.2h-1.2zM429.4 67.0h1.2v1.2h-1.2zM436.1 59.3h1.2v1.2h-1.2zM421.7 77.1h1.2v1.2h-1.2zM417.2 69.1h1.2v1.2h-1.2zM424.6 68.3h1.2v1.2h-1.2zM428.3 64.4h1.2v1.2h-1.2zM433.5 70.6h1.2v1.2h-1.2zM428.4 70.0h1.2v1.2h-1.2zM424.7 80.1h1.2v1.2h-1.2zM424.3 65.6h1.2v1.2h-1.2zM431.2 71.9h1.2v1.2h-1.2zM417.8 74.5h1.2v1.2h-1.2zM429.0 65.4h1.2v1.2h-1.2zM423.5 79.6h1.2v1.2h-1.2zM423.8 67.9h1.2v1.2h-1.2zM425.5 60.9h1.2v1.2h-1.2zM432.4 74.7h1.2v1.2h-1.2zM426.7 67.6h1.2v1.2h-1.2zM421.0 78.1h1.2v1.2h-1.2zM427.0 79.3h1.2v1.2h-1.2zM424.8 76.6h1.2v1.2h-1.2zM432.8 70.1h1.2v1.2h-1.2zM427.4 61.8h1.2v1.2h-1.2zM419.4 74.1h1.2v1.2h-1.2zM431.9 60.1h1.2v1.2h-1.2zM431.1 61.1h1.2v1.2h-1.2zM428.4 65.0h1.2v1.2h-1.2zM429.4 60.1h1.2v1.2h-1.2zM427.7 73.4h1.2v1.2h-1.2zM432.9 71.4h1.2v1.2h-1.2zM431.2 77.8h1.2v1.2h-1.2zM430.0 62.5h1.2v1.2h-1.2zM426.6 79.2h1.2v1.2h-1.2zM429.9 77.1h1.2v1.2h-1.2zM424.5 68.7h1.2v1.2h-1.2zM440.6 79.0h1.2v1.2h-1.2zM437.3 61.3h1.2v1.2h-1.2zM426.5 79.2h1.2v1.2h-1.2zM433.1 71.1h1.2v1.2h-1.2zM437.7 62.0h1.2v1.2h-1.2zM438.9 80.3h1.2v1.2h-1.2zM436.0 64.1h1.2v1.2h-1.2zM439.4 78.7h1.2v1.2h-1.2zM434.3 62.7h1.2v1.2h-1.2zM429.5 73.2h1.2v1.2h-1.2zM437.7 60.3h1.2v1.2h-1.2zM433.4 69.2h1.2v1.2h-1.2zM435.7 68.9h1.2v1.2h-1.2zM422.3 76.9h1.2v1.2h-1.2zM436.9 63.2h1.2v1.2h-1.2zM433.3 67.3h1.2v1.2h-1.2zM428.4 70.2h1.2v1.2h-1.2zM434.6 80.5h1.2v1.2h-1.2zM424.3 62.2h1.2v1.2h-1.2zM424.0 76.5h1.2v1.2h-1.2zM432.3 67.6h1.2v1.2h-1.2zM428.8 60.6h1.2v1.2h-1.2zM428.3 78.0h1.2v1.2h-1.2zM420.1 76.3h1.2v1.2h-1.2zM424.2 78.7h1.2v1.2h-1.2zM431.7 69.7h1.2v1.2h-1.2zM424.8 72.3h1.2v1.2h-1.2zM420.6 68.4h1.2v1.2h-1.2zM429.5 72.9h1.2v1.2h-1.2zM435.5 64.4h1.2v1.2h-1.2zM437.7 78.0h1.2v1.2h-1.2zM432.8 78.8h1.2v1.2h-1.2zM426.4 74.9h1.2v1.2h-1.2zM417.5 67.7h1.2v1.2h-1.2zM428.4 60.5h1.2v1.2h-1.2zM425.1 60.5h1.2v1.2h-1.2zM419.7 72.3h1.2v1.2h-1.2zM419.9 69.5h1.2v1.2h-1.2zM429.1 68.5h1.2v1.2h-1.2zM428.2 79.4h1.2v1.2h-1.2zM435.2 72.1h1.2v1.2h-1.2zM429.1 62.4h1.2v1.2h-1.2zM435.6 64.8h1.2v1.2h-1.2zM430.0 74.2h1.2v1.2h-1.2zM424.7 69.6h1.2v1.2h-1.2zM416.5 74.1h1.2v1.2h-1.2zM433.2 60.6h1.2v1.2h-1.2zM429.4 76.6h1.2v1.2h-1.2zM438.0 57.8h1.2v1.2h-1.2zM427.8 63.3h1.2v1.2h-1.2zM422.8 69.1h1.2v1.2h-1.2zM424.7 78.1h1.2v1.2h-1.2zM434.0 59.5h1.2v1.2h-1.2zM433.3 77.9h1.2v1.2h-1.2zM425.2 65.0h1.2v1.2h-1.2zM428.4 68.5h1.2v1.2h-1.2zM426.4 77.5h1.2v1.2h-1.2zM419.5 67.6h1.2v1.2h-1.2zM432.4 71.8h1.2v1.2h-1.2zM427.1 72.2h1.2v1.2h-1.2zM421.3 71.7h1.2v1.2h-1.2zM437.8 58.6h1.2v1.2h-1.2zM424.6 80.6h1.2v1.2h-1.2zM431.5 73.8h1.2v1.2h-1.2zM433.8 76.4h1.2v1.2h-1.2zM420.2 74.1h1.2v1.2h-1.2zM432.3 74.5h1.2v1.2h-1.2zM423.4 72.8h1.2v1.2h-1.2zM435.8 64.8h1.2v1.2h-1.2zM429.3 78.6h1.2v1.2h-1.2zM417.9 76.5h1.2v1.2h-1.2zM424.6 61.3h1.2v1.2h-1.2zM425.3 70.2h1.2v1.2h-1.2zM425.8 59.8h1.2v1.2h-1.2zM428.7 64.7h1.2v1.2h-1.2zM426.4 62.7h1.2v1.2h-1.2zM432.0 79.3h1.2v1.2h-1.2zM425.3 77.2h1.2v1.2h-1.2zM438.0 62.0h1.2v1.2h-1.2zM426.5 77.4h1.2v1.2h-1.2zM428.6 68.1h1.2v1.2h-1.2zM421.1 71.8h1.2v1.2h-1.2zM426.6 81.6h1.2v1.2h-1.2zM422.9 72.5h1.2v1.2h-1.2zM439.4 59.4h1.2v1.2h-1.2zM422.8 76.1h1.2v1.2h-1.2zM418.2 69.4h1.2v1.2h-1.2zM428.6 60.2h1.2v1.2h-1.2zM436.6 67.9h1.2v1.2h-1.2zM437.1 57.7h1.2v1.2h-1.2zM434.5 59.1h1.2v1.2h-1.2zM430.7 80.1h1.2v1.2h-1.2zM433.2 72.6h1.2v1.2h-1.2zM428.0 61.5h1.2v1.2h-1.2zM426.4 64.1h1.2v1.2h-1.2zM430.4 64.6h1.2v1.2h-1.2zM422.1 74.1h1.2v1.2h-1.2zM428.0 62.7h1.2v1.2h-1.2zM417.9 70.4h1.2v1.2h-1.2zM428.2 76.2h1.2v1.2h-1.2zM424.7 67.7h1.2v1.2h-1.2zM438.5 63.9h1.2v1.2h-1.2zM421.6 78.8h1.2v1.2h-1.2zM431.1 62.0h1.2v1.2h-1.2zM436.3 71.7h1.2v1.2h-1.2zM431.2 61.7h1.2v1.2h-1.2zM427.1 76.0h1.2v1.2h-1.2zM417.4 74.6h1.2v1.2h-1.2zM417.6 69.5h1.2v1.2h-1.2zM432.1 75.3h1.2v1.2h-1.2zM426.1 66.7h1.2v1.2h-1.2zM433.3 76.8h1.2v1.2h-1.2zM432.1 67.5h1.2v1.2h-1.2zM429.9 70.6h1.2v1.2h-1.2zM440.5 77.8h1.2v1.2h-1.2zM437.1 63.0h1.2v1.2h-1.2zM434.6 76.1h1.2v1.2h-1.2zM439.8 79.3h1.2v1.2h-1.2zM438.2 63.8h1.2v1.2h-1.2zM435.7 69.5h1.2v1.2h-1.2zM423.1 66.5h1.2v1.2h-1.2zM436.1 79.6h1.2v1.2h-1.2zM437.3 74.8h1.2v1.2h-1.2zM429.9 62.2h1.2v1.2h-1.2zM418.9 76.1h1.2v1.2h-1.2zM423.6 79.7h1.2v1.2h-1.2zM422.8 63.8h1.2v1.2h-1.2zM426.4 66.8h1.2v1.2h-1.2zM417.4 75.9h1.2v1.2h-1.2zM430.3 70.3h1.2v1.2h-1.2zM421.3 64.3h1.2v1.2h-1.2zM436.3 75.5h1.2v1.2h-1.2zM429.4 78.8h1.2v1.2h-1.2zM418.9 71.2h1.2v1.2h-1.2zM421.9 67.4h1.2v1.2h-1.2zM419.9 75.9h1.2v1.2h-1.2zM430.0 77.8h1.2v1.2h-1.2zM431.5 72.9h1.2v1.2h-1.2zM439.3 78.7h1.2v1.2h-1.2zM429.9 65.4h1.2v1.2h-1.2zM433.6 82.0h1.2v1.2h-1.2zM432.0 74.6h1.2v1.2h-1.2zM439.7 77.8h1.2v1.2h-1.2zM426.6 69.1h1.2v1.2h-1.2zM435.0 65.1h1.2v1.2h-1.2zM417.7 73.4h1.2v1.2h-1.2zM443.3 80.6h1.2v1.2h-1.2zM441.4 81.4h1.2v1.2h-1.2zM441.1 85.5h1.2v1.2h-1.2zM442.2 80.0h1.2v1.2h-1.2zM440.9 87.0h1.2v1.2h-1.2zM440.9 86.0h1.2v1.2h-1.2zM443.1 83.7h1.2v1.2h-1.2zM439.8 81.1h1.2v1.2h-1.2zM441.3 82.0h1.2v1.2h-1.2zM442.3 82.9h1.2v1.2h-1.2zM440.3 83.9h1.2v1.2h-1.2zM440.9 85.9h1.2v1.2h-1.2zM443.4 83.7h1.2v1.2h-1.2zM440.7 80.8h1.2v1.2h-1.2zM442.1 79.0h1.2v1.2h-1.2zM441.7 81.8h1.2v1.2h-1.2zM441.4 82.0h1.2v1.2h-1.2zM439.0 85.0h1.2v1.2h-1.2zM443.2 83.8h1.2v1.2h-1.2zM439.1 83.8h1.2v1.2h-1.2zM443.0 78.8h1.2v1.2h-1.2zM439.9 83.6h1.2v1.2h-1.2zM440.7 81.1h1.2v1.2h-1.2zM443.0 83.9h1.2v1.2h-1.2zM440.4 83.3h1.2v1.2h-1.2zM444.0 83.5h1.2v1.2h-1.2zM443.9 83.5h1.2v1.2h-1.2zM441.2 83.4h1.2v1.2h-1.2zM442.1 82.7h1.2v1.2h-1.2zM442.2 83.2h1.2v1.2h-1.2zM443.1 78.7h1.2v1.2h-1.2zM442.3 85.6h1.2v1.2h-1.2zM439.8 81.8h1.2v1.2h-1.2zM439.8 84.7h1.2v1.2h-1.2zM441.6 83.9h1.2v1.2h-1.2zM440.4 83.7h1.2v1.2h-1.2zM441.5 81.9h1.2v1.2h-1.2zM440.5 85.6h1.2v1.2h-1.2zM439.4 83.4h1.2v1.2h-1.2zM441.4 86.8h1.2v1.2h-1.2zM439.4 86.0h1.2v1.2h-1.2zM440.8 83.3h1.2v1.2h-1.2zM440.4 79.8h1.2v1.2h-1.2zM440.1 90.7h1.2v1.2h-1.2zM451.8 98.4h1.2v1.2h-1.2zM447.8 86.3h1.2v1.2h-1.2zM454.2 105.0h1.2v1.2h-1.2zM453.1 103.7h1.2v1.2h-1.2zM450.4 105.3h1.2v1.2h-1.2zM443.8 101.2h1.2v1.2h-1.2zM451.4 105.7h1.2v1.2h-1.2zM449.0 90.0h1.2v1.2h-1.2zM442.6 97.3h1.2v1.2h-1.2zM451.7 100.9h1.2v1.2h-1.2zM453.1 90.8h1.2v1.2h-1.2zM439.4 90.2h1.2v1.2h-1.2zM453.2 95.2h1.2v1.2h-1.2zM439.6 92.0h1.2v1.2h-1.2zM439.3 100.8h1.2v1.2h-1.2zM439.1 89.2h1.2v1.2h-1.2zM451.0 106.4h1.2v1.2h-1.2zM445.8 94.8h1.2v1.2h-1.2zM438.0 91.8h1.2v1.2h-1.2zM442.4 104.1h1.2v1.2h-1.2zM452.0 104.0h1.2v1.2h-1.2zM448.3 101.6h1.2v1.2h-1.2zM440.0 93.0h1.2v1.2h-1.2zM443.4 90.2h1.2v1.2h-1.2zM452.6 88.3h1.2v1.2h-1.2zM444.1 90.2h1.2v1.2h-1.2zM455.1 100.0h1.2v1.2h-1.2zM447.3 92.8h1.2v1.2h-1.2zM446.6 98.0h1.2v1.2h-1.2zM442.7 85.2h1.2v1.2h-1.2zM447.7 103.5h1.2v1.2h-1.2zM440.6 94.3h1.2v1.2h-1.2zM445.2 105.5h1.2v1.2h-1.2zM455.7 92.7h1.2v1.2h-1.2zM439.9 99.9h1.2v1.2h-1.2zM450.9 90.9h1.2v1.2h-1.2zM448.0 90.3h1.2v1.2h-1.2zM446.5 95.3h1.2v1.2h-1.2zM456.4 95.5h1.2v1.2h-1.2zM456.3 100.0h1.2v1.2h-1.2zM455.3 93.8h1.2v1.2h-1.2zM445.1 105.2h1.2v1.2h-1.2zM441.8 103.1h1.2v1.2h-1.2zM447.0 93.7h1.2v1.2h-1.2zM441.4 104.4h1.2v1.2h-1.2zM445.1 93.8h1.2v1.2h-1.2zM449.2 106.9h1.2v1.2h-1.2zM456.8 99.8h1.2v1.2h-1.2zM444.9 85.4h1.2v1.2h-1.2zM438.8 96.7h1.2v1.2h-1.2zM449.4 94.7h1.2v1.2h-1.2zM444.6 93.9h1.2v1.2h-1.2zM449.5 97.3h1.2v1.2h-1.2zM446.1 89.3h1.2v1.2h-1.2zM443.9 96.0h1.2v1.2h-1.2zM446.5 109.3h1.2v1.2h-1.2zM448.9 88.1h1.2v1.2h-1.2zM444.5 103.9h1.2v1.2h-1.2zM453.4 94.5h1.2v1.2h-1.2zM448.4 97.1h1.2v1.2h-1.2zM451.1 101.4h1.2v1.2h-1.2zM445.2 107.7h1.2v1.2h-1.2zM454.2 90.7h1.2v1.2h-1.2zM438.8 97.6h1.2v1.2h-1.2zM450.8 88.6h1.2v1.2h-1.2zM438.3 95.8h1.2v1.2h-1.2zM450.2 90.1h1.2v1.2h-1.2zM446.5 88.8h1.2v1.2h-1.2zM441.2 87.4h1.2v1.2h-1.2zM454.1 94.9h1.2v1.2h-1.2zM452.1 92.0h1.2v1.2h-1.2zM453.9 98.8h1.2v1.2h-1.2zM450.8 93.2h1.2v1.2h-1.2zM448.9 87.6h1.2v1.2h-1.2zM448.3 100.0h1.2v1.2h-1.2zM439.5 91.6h1.2v1.2h-1.2zM442.1 105.6h1.2v1.2h-1.2zM455.2 103.9h1.2v1.2h-1.2zM452.1 90.7h1.2v1.2h-1.2zM442.2 101.8h1.2v1.2h-1.2zM443.5 102.3h1.2v1.2h-1.2zM444.6 103.3h1.2v1.2h-1.2zM449.1 104.8h1.2v1.2h-1.2zM448.6 93.1h1.2v1.2h-1.2zM453.2 91.1h1.2v1.2h-1.2zM441.7 104.0h1.2v1.2h-1.2zM448.7 103.2h1.2v1.2h-1.2zM453.2 88.4h1.2v1.2h-1.2zM442.7 100.7h1.2v1.2h-1.2zM453.1 99.9h1.2v1.2h-1.2zM446.5 102.6h1.2v1.2h-1.2zM451.1 88.1h1.2v1.2h-1.2zM448.4 98.8h1.2v1.2h-1.2zM452.3 87.8h1.2v1.2h-1.2zM443.8 91.8h1.2v1.2h-1.2zM439.4 92.0h1.2v1.2h-1.2zM452.4 98.3h1.2v1.2h-1.2zM440.9 102.5h1.2v1.2h-1.2zM440.4 85.1h1.2v1.2h-1.2zM442.6 96.6h1.2v1.2h-1.2zM442.9 106.7h1.2v1.2h-1.2zM452.8 101.5h1.2v1.2h-1.2zM448.9 89.4h1.2v1.2h-1.2zM437.7 91.5h1.2v1.2h-1.2zM444.0 87.9h1.2v1.2h-1.2zM446.2 107.1h1.2v1.2h-1.2zM441.7 85.6h1.2v1.2h-1.2zM444.9 85.7h1.2v1.2h-1.2zM441.1 89.3h1.2v1.2h-1.2zM449.3 94.7h1.2v1.2h-1.2zM443.7 96.9h1.2v1.2h-1.2zM453.3 102.3h1.2v1.2h-1.2zM444.4 107.6h1.2v1.2h-1.2zM453.6 97.8h1.2v1.2h-1.2zM447.1 91.5h1.2v1.2h-1.2zM449.9 85.1h1.2v1.2h-1.2zM442.3 97.1h1.2v1.2h-1.2zM454.5 92.0h1.2v1.2h-1.2zM447.6 100.7h1.2v1.2h-1.2zM441.3 99.6h1.2v1.2h-1.2zM441.2 102.0h1.2v1.2h-1.2zM438.2 89.9h1.2v1.2h-1.2zM439.8 86.5h1.2v1.2h-1.2zM448.2 87.2h1.2v1.2h-1.2zM450.2 106.1h1.2v1.2h-1.2zM440.0 88.4h1.2v1.2h-1.2zM453.1 95.3h1.2v1.2h-1.2zM445.6 108.7h1.2v1.2h-1.2zM448.6 108.3h1.2v1.2h-1.2zM453.3 103.0h1.2v1.2h-1.2zM449.7 85.1h1.2v1.2h-1.2zM453.5 102.3h1.2v1.2h-1.2zM443.9 101.2h1.2v1.2h-1.2zM445.8 103.0h1.2v1.2h-1.2zM445.3 104.5h1.2v1.2h-1.2zM447.1 104.7h1.2v1.2h-1.2zM443.6 97.4h1.2v1.2h-1.2zM451.3 94.1h1.2v1.2h-1.2zM451.8 102.4h1.2v1.2h-1.2zM456.3 94.5h1.2v1.2h-1.2zM449.6 104.8h1.2v1.2h-1.2zM441.7 86.4h1.2v1.2h-1.2zM455.8 100.7h1.2v1.2h-1.2zM449.4 86.0h1.2v1.2h-1.2zM445.9 108.4h1.2v1.2h-1.2zM454.6 102.5h1.2v1.2h-1.2zM447.5 95.9h1.2v1.2h-1.2zM440.4 96.5h1.2v1.2h-1.2zM455.4 93.9h1.2v1.2h-1.2zM442.9 89.0h1.2v1.2h-1.2zM446.8 100.2h1.2v1.2h-1.2zM449.1 106.9h1.2v1.2h-1.2zM447.9 96.5h1.2v1.2h-1.2zM437.7 91.4h1.2v1.2h-1.2zM443.8 85.8h1.2v1.2h-1.2zM446.0 83.4h1.2v1.2h-1.2zM456.3 95.7h1.2v1.2h-1.2zM455.4 101.6h1.2v1.2h-1.2zM452.4 103.3h1.2v1.2h-1.2zM443.6 102.5h1.2v1.2h-1.2zM441.6 97.7h1.2v1.2h-1.2zM449.6 103.7h1.2v1.2h-1.2zM440.8 91.9h1.2v1.2h-1.2zM454.3 104.5h1.2v1.2h-1.2zM441.7 85.3h1.2v1.2h-1.2zM452.2 102.9h1.2v1.2h-1.2zM450.7 103.8h1.2v1.2h-1.2zM448.0 97.9h1.2v1.2h-1.2zM456.3 100.2h1.2v1.2h-1.2zM450.8 98.6h1.2v1.2h-1.2zM447.5 103.2h1.2v1.2h-1.2zM449.1 85.9h1.2v1.2h-1.2zM446.1 94.0h1.2v1.2h-1.2zM446.3 97.8h1.2v1.2h-1.2zM444.8 93.2h1.2v1.2h-1.2zM446.2 92.6h1.2v1.2h-1.2zM445.5 94.7h1.2v1.2h-1.2zM449.5 92.5h1.2v1.2h-1.2zM443.3 95.2h1.2v1.2h-1.2zM444.0 84.0h1.2v1.2h-1.2zM442.3 89.4h1.2v1.2h-1.2zM451.7 104.3h1.2v1.2h-1.2zM447.0 93.1h1.2v1.2h-1.2zM442.2 104.4h1.2v1.2h-1.2zM439.7 98.7h1.2v1.2h-1.2zM446.8 86.4h1.2v1.2h-1.2zM451.0 95.4h1.2v1.2h-1.2zM450.0 85.1h1.2v1.2h-1.2zM449.5 94.0h1.2v1.2h-1.2zM442.5 107.9h1.2v1.2h-1.2zM442.1 91.8h1.2v1.2h-1.2zM449.1 91.3h1.2v1.2h-1.2zM446.4 104.8h1.2v1.2h-1.2zM441.1 102.2h1.2v1.2h-1.2zM444.2 108.4h1.2v1.2h-1.2zM449.8 85.4h1.2v1.2h-1.2zM445.8 99.5h1.2v1.2h-1.2zM450.5 91.8h1.2v1.2h-1.2zM448.9 87.1h1.2v1.2h-1.2zM443.7 99.4h1.2v1.2h-1.2zM455.9 96.6h1.2v1.2h-1.2zM442.6 98.5h1.2v1.2h-1.2zM443.1 103.9h1.2v1.2h-1.2zM440.6 89.6h1.2v1.2h-1.2zM446.4 107.4h1.2v1.2h-1.2zM440.8 87.7h1.2v1.2h-1.2zM440.1 88.3h1.2v1.2h-1.2zM444.2 93.3h1.2v1.2h-1.2zM453.0 93.5h1.2v1.2h-1.2zM447.1 93.3h1.2v1.2h-1.2zM446.1 107.7h1.2v1.2h-1.2zM448.2 101.2h1.2v1.2h-1.2zM445.2 89.9h1.2v1.2h-1.2zM444.8 101.6h1.2v1.2h-1.2zM446.8 96.9h1.2v1.2h-1.2zM441.6 87.3h1.2v1.2h-1.2zM444.3 101.1h1.2v1.2h-1.2zM452.0 94.3h1.2v1.2h-1.2zM438.8 89.5h1.2v1.2h-1.2zM441.7 105.0h1.2v1.2h-1.2zM448.7 91.4h1.2v1.2h-1.2zM442.5 90.4h1.2v1.2h-1.2zM443.1 91.9h1.2v1.2h-1.2zM453.6 104.1h1.2v1.2h-1.2zM451.7 106.7h1.2v1.2h-1.2zM450.8 85.5h1.2v1.2h-1.2zM442.7 96.9h1.2v1.2h-1.2zM454.3 98.5h1.2v1.2h-1.2zM446.2 89.1h1.2v1.2h-1.2zM444.4 83.7h1.2v1.2h-1.2zM450.8 92.2h1.2v1.2h-1.2zM439.5 87.9h1.2v1.2h-1.2zM450.6 101.1h1.2v1.2h-1.2zM443.2 89.9h1.2v1.2h-1.2zM444.6 87.5h1.2v1.2h-1.2zM446.3 108.0h1.2v1.2h-1.2zM442.5 86.9h1.2v1.2h-1.2zM450.3 100.5h1.2v1.2h-1.2zM447.9 87.3h1.2v1.2h-1.2zM441.0 89.0h1.2v1.2h-1.2zM447.9 95.5h1.2v1.2h-1.2zM448.7 102.4h1.2v1.2h-1.2zM455.7 95.3h1.2v1.2h-1.2zM437.8 91.1h1.2v1.2h-1.2zM440.3 99.0h1.2v1.2h-1.2zM443.4 105.8h1.2v1.2h-1.2zM451.5 104.2h1.2v1.2h-1.2zM445.8 86.7h1.2v1.2h-1.2zM450.9 91.2h1.2v1.2h-1.2zM440.1 86.9h1.2v1.2h-1.2zM445.7 85.9h1.2v1.2h-1.2zM445.3 97.6h1.2v1.2h-1.2zM448.7 93.5h1.2v1.2h-1.2zM444.2 108.1h1.2v1.2h-1.2zM453.1 97.1h1.2v1.2h-1.2zM453.5 98.1h1.2v1.2h-1.2zM439.8 89.4h1.2v1.2h-1.2zM444.0 93.6h1.2v1.2h-1.2zM448.4 85.2h1.2v1.2h-1.2zM451.9 104.3h1.2v1.2h-1.2zM443.9 86.4h1.2v1.2h-1.2zM453.0 101.5h1.2v1.2h-1.2zM445.0 91.8h1.2v1.2h-1.2zM446.8 104.7h1.2v1.2h-1.2zM444.4 91.2h1.2v1.2h-1.2zM447.9 102.9h1.2v1.2h-1.2zM455.5 92.1h1.2v1.2h-1.2zM451.6 93.5h1.2v1.2h-1.2zM455.1 103.3h1.2v1.2h-1.2zM448.8 92.4h1.2v1.2h-1.2zM443.0 106.7h1.2v1.2h-1.2zM453.8 90.8h1.2v1.2h-1.2zM439.1 87.8h1.2v1.2h-1.2zM454.0 96.9h1.2v1.2h-1.2zM448.8 97.2h1.2v1.2h-1.2zM445.8 97.7h1.2v1.2h-1.2zM439.5 86.2h1.2v1.2h-1.2zM451.2 100.0h1.2v1.2h-1.2zM453.9 101.4h1.2v1.2h-1.2zM448.3 103.6h1.2v1.2h-1.2zM440.6 96.9h1.2v1.2h-1.2zM445.6 95.6h1.2v1.2h-1.2zM453.4 101.1h1.2v1.2h-1.2zM443.6 102.5h1.2v1.2h-1.2zM447.4 104.4h1.2v1.2h-1.2zM444.9 106.6h1.2v1.2h-1.2zM451.4 94.8h1.2v1.2h-1.2zM448.9 104.5h1.2v1.2h-1.2zM448.2 108.8h1.2v1.2h-1.2zM452.0 95.9h1.2v1.2h-1.2zM444.3 102.0h1.2v1.2h-1.2zM454.3 92.7h1.2v1.2h-1.2zM439.0 98.1h1.2v1.2h-1.2zM444.0 89.6h1.2v1.2h-1.2zM446.6 84.5h1.2v1.2h-1.2zM448.9 94.6h1.2v1.2h-1.2zM443.7 99.0h1.2v1.2h-1.2zM439.9 91.9h1.2v1.2h-1.2zM440.0 94.0h1.2v1.2h-1.2zM443.0 84.0h1.2v1.2h-1.2zM448.2 90.7h1.2v1.2h-1.2zM451.2 97.8h1.2v1.2h-1.2zM449.6 90.6h1.2v1.2h-1.2zM452.5 101.4h1.2v1.2h-1.2zM452.0 95.4h1.2v1.2h-1.2zM446.9 90.3h1.2v1.2h-1.2zM438.2 95.2h1.2v1.2h-1.2zM450.0 87.5h1.2v1.2h-1.2zM447.4 87.2h1.2v1.2h-1.2zM443.0 102.7h1.2v1.2h-1.2zM437.5 92.1h1.2v1.2h-1.2zM444.6 98.8h1.2v1.2h-1.2zM444.3 107.4h1.2v1.2h-1.2zM444.1 90.8h1.2v1.2h-1.2zM449.5 105.1h1.2v1.2h-1.2zM438.7 97.3h1.2v1.2h-1.2zM448.4 108.7h1.2v1.2h-1.2zM448.9 92.3h1.2v1.2h-1.2zM449.2 108.1h1.2v1.2h-1.2zM442.7 105.0h1.2v1.2h-1.2zM437.8 93.9h1.2v1.2h-1.2zM444.9 98.4h1.2v1.2h-1.2zM442.3 101.9h1.2v1.2h-1.2zM451.7 92.0h1.2v1.2h-1.2zM446.8 104.3h1.2v1.2h-1.2zM448.3 90.0h1.2v1.2h-1.2zM448.0 109.4h1.2v1.2h-1.2zM452.4 100.8h1.2v1.2h-1.2zM454.7 93.6h1.2v1.2h-1.2zM448.9 105.7h1.2v1.2h-1.2zM441.5 106.0h1.2v1.2h-1.2zM449.2 86.4h1.2v1.2h-1.2zM456.3 94.5h1.2v1.2h-1.2zM441.2 93.7h1.2v1.2h-1.2zM449.5 94.2h1.2v1.2h-1.2zM442.6 104.6h1.2v1.2h-1.2zM452.9 98.9h1.2v1.2h-1.2zM444.9 82.9h1.2v1.2h-1.2zM446.2 88.9h1.2v1.2h-1.2zM441.7 84.5h1.2v1.2h-1.2zM442.0 94.5h1.2v1.2h-1.2zM443.9 95.5h1.2v1.2h-1.2zM440.7 93.5h1.2v1.2h-1.2zM451.8 91.3h1.2v1.2h-1.2zM439.5 99.6h1.2v1.2h-1.2zM446.7 107.6h1.2v1.2h-1.2zM451.1 92.6h1.2v1.2h-1.2zM440.0 99.2h1.2v1.2h-1.2zM452.9 95.4h1.2v1.2h-1.2zM447.1 101.3h1.2v1.2h-1.2zM449.9 94.0h1.2v1.2h-1.2zM441.2 95.1h1.2v1.2h-1.2zM448.7 107.1h1.2v1.2h-1.2zM444.1 88.5h1.2v1.2h-1.2zM450.3 102.7h1.2v1.2h-1.2zM442.5 101.4h1.2v1.2h-1.2zM456.6 94.4h1.2v1.2h-1.2zM450.8 106.2h1.2v1.2h-1.2zM441.6 91.9h1.2v1.2h-1.2zM443.7 95.5h1.2v1.2h-1.2zM452.7 99.7h1.2v1.2h-1.2zM456.5 100.8h1.2v1.2h-1.2zM438.2 94.3h1.2v1.2h-1.2zM450.4 88.0h1.2v1.2h-1.2zM455.0 93.8h1.2v1.2h-1.2zM450.1 97.3h1.2v1.2h-1.2zM442.8 103.8h1.2v1.2h-1.2zM444.0 106.7h1.2v1.2h-1.2zM443.5 99.2h1.2v1.2h-1.2zM453.4 93.1h1.2v1.2h-1.2zM448.1 94.0h1.2v1.2h-1.2zM452.5 101.7h1.2v1.2h-1.2zM454.4 100.9h1.2v1.2h-1.2zM450.3 91.0h1.2v1.2h-1.2zM442.9 107.7h1.2v1.2h-1.2zM444.4 92.0h1.2v1.2h-1.2zM454.0 104.1h1.2v1.2h-1.2zM448.0 88.9h1.2v1.2h-1.2zM453.2 104.4h1.2v1.2h-1.2zM452.8 88.6h1.2v1.2h-1.2zM444.1 91.8h1.2v1.2h-1.2zM446.3 85.9h1.2v1.2h-1.2zM451.8 96.7h1.2v1.2h-1.2zM453.1 91.7h1.2v1.2h-1.2zM445.9 102.9h1.2v1.2h-1.2zM451.8 106.8h1.2v1.2h-1.2zM443.7 105.7h1.2v1.2h-1.2zM452.5 98.2h1.2v1.2h-1.2zM445.8 98.0h1.2v1.2h-1.2zM443.8 85.8h1.2v1.2h-1.2zM452.4 99.3h1.2v1.2h-1.2zM441.6 102.3h1.2v1.2h-1.2zM454.3 99.4h1.2v1.2h-1.2zM442.1 97.9h1.2v1.2h-1.2zM445.5 89.8h1.2v1.2h-1.2zM450.4 108.0h1.2v1.2h-1.2zM440.9 89.7h1.2v1.2h-1.2zM447.8 84.0h1.2v1.2h-1.2zM443.6 97.3h1.2v1.2h-1.2zM447.3 107.4h1.2v1.2h-1.2zM449.2 99.9h1.2v1.2h-1.2zM449.4 104.0h1.2v1.2h-1.2zM440.0 85.5h1.2v1.2h-1.2zM442.0 100.5h1.2v1.2h-1.2zM442.7 92.9h1.2v1.2h-1.2zM442.7 89.1h1.2v1.2h-1.2zM444.0 93.8h1.2v1.2h-1.2zM444.8 91.3h1.2v1.2h-1.2zM452.5 96.0h1.2v1.2h-1.2zM455.9 95.0h1.2v1.2h-1.2zM441.6 104.9h1.2v1.2h-1.2zM447.7 97.8h1.2v1.2h-1.2zM439.8 91.2h1.2v1.2h-1.2zM450.1 100.9h1.2v1.2h-1.2zM450.3 99.5h1.2v1.2h-1.2zM445.1 84.3h1.2v1.2h-1.2zM440.9 91.9h1.2v1.2h-1.2zM441.5 106.0h1.2v1.2h-1.2zM454.2 105.3h1.2v1.2h-1.2zM445.2 108.1h1.2v1.2h-1.2zM442.7 98.2h1.2v1.2h-1.2zM451.2 88.8h1.2v1.2h-1.2zM445.2 85.2h1.2v1.2h-1.2zM440.2 90.0h1.2v1.2h-1.2zM450.5 99.9h1.2v1.2h-1.2zM448.2 105.9h1.2v1.2h-1.2zM452.8 88.2h1.2v1.2h-1.2zM448.4 87.1h1.2v1.2h-1.2zM442.4 86.4h1.2v1.2h-1.2zM439.0 92.0h1.2v1.2h-1.2zM455.6 100.4h1.2v1.2h-1.2zM439.2 88.4h1.2v1.2h-1.2zM449.5 97.0h1.2v1.2h-1.2zM449.0 98.9h1.2v1.2h-1.2zM442.3 98.6h1.2v1.2h-1.2zM448.3 91.8h1.2v1.2h-1.2zM446.1 97.3h1.2v1.2h-1.2zM453.2 97.2h1.2v1.2h-1.2zM452.1 99.9h1.2v1.2h-1.2zM453.0 88.4h1.2v1.2h-1.2zM449.1 94.5h1.2v1.2h-1.2zM442.1 103.9h1.2v1.2h-1.2zM441.9 101.9h1.2v1.2h-1.2zM447.4 94.1h1.2v1.2h-1.2zM451.9 102.3h1.2v1.2h-1.2zM453.8 89.7h1.2v1.2h-1.2zM451.1 96.0h1.2v1.2h-1.2zM456.7 94.7h1.2v1.2h-1.2zM444.7 83.1h1.2v1.2h-1.2zM447.0 97.0h1.2v1.2h-1.2zM443.7 85.3h1.2v1.2h-1.2zM447.3 84.3h1.2v1.2h-1.2zM440.9 94.6h1.2v1.2h-1.2zM444.5 96.2h1.2v1.2h-1.2zM448.3 93.1h1.2v1.2h-1.2zM448.9 109.1h1.2v1.2h-1.2zM443.2 92.1h1.2v1.2h-1.2zM443.9 102.8h1.2v1.2h-1.2zM447.5 104.3h1.2v1.2h-1.2zM441.6 92.5h1.2v1.2h-1.2zM445.6 93.0h1.2v1.2h-1.2zM449.2 108.9h1.2v1.2h-1.2zM450.6 98.8h1.2v1.2h-1.2zM454.4 91.6h1.2v1.2h-1.2zM448.4 98.4h1.2v1.2h-1.2zM445.1 100.1h1.2v1.2h-1.2zM443.2 107.6h1.2v1.2h-1.2zM445.0 90.0h1.2v1.2h-1.2zM443.0 95.8h1.2v1.2h-1.2zM441.7 104.3h1.2v1.2h-1.2zM438.9 93.8h1.2v1.2h-1.2zM453.5 102.0h1.2v1.2h-1.2zM455.6 92.2h1.2v1.2h-1.2zM454.1 95.4h1.2v1.2h-1.2zM455.7 95.5h1.2v1.2h-1.2zM442.7 86.5h1.2v1.2h-1.2zM447.6 83.8h1.2v1.2h-1.2zM449.2 106.1h1.2v1.2h-1.2zM440.5 95.6h1.2v1.2h-1.2zM447.0 85.4h1.2v1.2h-1.2zM442.8 107.8h1.2v1.2h-1.2zM452.2 96.4h1.2v1.2h-1.2zM449.9 106.1h1.2v1.2h-1.2zM457.0 98.8h1.2v1.2h-1.2zM440.8 89.0h1.2v1.2h-1.2zM440.2 96.5h1.2v1.2h-1.2zM449.3 95.1h1.2v1.2h-1.2zM447.0 86.3h1.2v1.2h-1.2zM452.1 97.2h1.2v1.2h-1.2zM443.7 105.3h1.2v1.2h-1.2zM445.4 94.8h1.2v1.2h-1.2zM442.7 102.9h1.2v1.2h-1.2zM447.8 109.0h1.2v1.2h-1.2zM455.6 94.8h1.2v1.2h-1.2zM439.5 94.9h1.2v1.2h-1.2zM448.0 104.0h1.2v1.2h-1.2zM441.2 90.1h1.2v1.2h-1.2zM449.9 85.0h1.2v1.2h-1.2zM452.8 94.0h1.2v1.2h-1.2zM439.0 93.1h1.2v1.2h-1.2zM448.0 97.2h1.2v1.2h-1.2zM439.4 98.3h1.2v1.2h-1.2zM446.5 91.4h1.2v1.2h-1.2zM454.4 101.4h1.2v1.2h-1.2zM439.9 85.3h1.2v1.2h-1.2zM438.5 89.6h1.2v1.2h-1.2zM453.0 95.4h1.2v1.2h-1.2zM439.8 88.3h1.2v1.2h-1.2zM440.1 99.2h1.2v1.2h-1.2zM450.2 106.0h1.2v1.2h-1.2zM442.8 106.2h1.2v1.2h-1.2zM455.8 97.9h1.2v1.2h-1.2zM449.8 99.3h1.2v1.2h-1.2zM453.2 96.6h1.2v1.2h-1.2zM439.7 88.5h1.2v1.2h-1.2zM439.6 89.3h1.2v1.2h-1.2zM453.7 97.4h1.2v1.2h-1.2zM444.7 108.9h1.2v1.2h-1.2zM449.3 89.0h1.2v1.2h-1.2zM449.0 105.9h1.2v1.2h-1.2zM445.0 94.3h1.2v1.2h-1.2zM450.5 87.4h1.2v1.2h-1.2zM449.3 91.2h1.2v1.2h-1.2zM447.1 102.0h1.2v1.2h-1.2zM443.8 98.9h1.2v1.2h-1.2zM454.2 95.2h1.2v1.2h-1.2zM450.3 90.3h1.2v1.2h-1.2zM442.6 96.4h1.2v1.2h-1.2zM448.3 88.5h1.2v1.2h-1.2zM453.1 96.1h1.2v1.2h-1.2zM444.7 89.4h1.2v1.2h-1.2zM454.0 122.3h1.2v1.2h-1.2zM458.4 119.1h1.2v1.2h-1.2zM456.7 122.9h1.2v1.2h-1.2zM454.7 119.4h1.2v1.2h-1.2zM459.2 122.9h1.2v1.2h-1.2zM457.7 116.6h1.2v1.2h-1.2zM455.1 118.2h1.2v1.2h-1.2zM453.7 122.4h1.2v1.2h-1.2zM457.6 125.5h1.2v1.2h-1.2zM457.5 125.5h1.2v1.2h-1.2zM456.9 121.1h1.2v1.2h-1.2zM455.5 120.5h1.2v1.2h-1.2zM460.2 120.8h1.2v1.2h-1.2zM454.9 122.2h1.2v1.2h-1.2zM457.2 120.6h1.2v1.2h-1.2zM458.5 122.0h1.2v1.2h-1.2zM458.2 120.9h1.2v1.2h-1.2zM453.8 120.4h1.2v1.2h-1.2zM459.5 122.0h1.2v1.2h-1.2zM460.0 121.4h1.2v1.2h-1.2zM454.7 123.2h1.2v1.2h-1.2zM458.1 124.3h1.2v1.2h-1.2zM454.1 120.5h1.2v1.2h-1.2zM459.3 119.2h1.2v1.2h-1.2zM454.0 121.5h1.2v1.2h-1.2zM460.4 122.2h1.2v1.2h-1.2zM457.6 117.4h1.2v1.2h-1.2zM455.9 117.1h1.2v1.2h-1.2zM456.8 115.9h1.2v1.2h-1.2zM458.2 122.5h1.2v1.2h-1.2zM460.0 123.8h1.2v1.2h-1.2zM457.4 125.7h1.2v1.2h-1.2zM457.0 116.3h1.2v1.2h-1.2zM458.6 117.3h1.2v1.2h-1.2zM460.6 121.3h1.2v1.2h-1.2zM460.0 120.8h1.2v1.2h-1.2zM455.9 122.7h1.2v1.2h-1.2zM458.6 120.5h1.2v1.2h-1.2zM455.5 120.0h1.2v1.2h-1.2zM458.6 117.9h1.2v1.2h-1.2zM454.6 120.7h1.2v1.2h-1.2zM458.2 116.2h1.2v1.2h-1.2zM455.4 123.9h1.2v1.2h-1.2zM455.7 116.4h1.2v1.2h-1.2zM457.0 124.9h1.2v1.2h-1.2zM458.6 122.2h1.2v1.2h-1.2zM457.0 122.7h1.2v1.2h-1.2zM457.3 117.4h1.2v1.2h-1.2zM458.5 116.8h1.2v1.2h-1.2zM455.7 124.7h1.2v1.2h-1.2zM457.6 121.0h1.2v1.2h-1.2zM458.6 120.8h1.2v1.2h-1.2zM456.3 121.5h1.2v1.2h-1.2zM460.0 122.6h1.2v1.2h-1.2zM454.6 124.8h1.2v1.2h-1.2zM455.5 124.2h1.2v1.2h-1.2zM458.2 122.0h1.2v1.2h-1.2zM458.8 118.4h1.2v1.2h-1.2zM459.5 121.4h1.2v1.2h-1.2zM459.0 124.6h1.2v1.2h-1.2zM455.3 119.9h1.2v1.2h-1.2zM456.1 116.3h1.2v1.2h-1.2zM459.8 122.9h1.2v1.2h-1.2zM457.0 121.4h1.2v1.2h-1.2zM456.1 122.9h1.2v1.2h-1.2zM457.3 120.9h1.2v1.2h-1.2zM455.4 117.9h1.2v1.2h-1.2zM458.3 119.2h1.2v1.2h-1.2zM457.2 116.6h1.2v1.2h-1.2zM456.1 116.3h1.2v1.2h-1.2zM457.1 125.9h1.2v1.2h-1.2zM459.0 119.4h1.2v1.2h-1.2zM455.5 125.6h1.2v1.2h-1.2zM460.3 122.5h1.2v1.2h-1.2zM456.3 120.1h1.2v1.2h-1.2zM457.9 121.2h1.2v1.2h-1.2zM459.1 122.5h1.2v1.2h-1.2zM458.2 116.3h1.2v1.2h-1.2zM456.1 120.6h1.2v1.2h-1.2zM458.1 116.1h1.2v1.2h-1.2zM457.5 123.5h1.2v1.2h-1.2zM454.6 123.7h1.2v1.2h-1.2zM483.8 99.2h1.2v1.2h-1.2zM485.0 102.3h1.2v1.2h-1.2zM482.8 100.6h1.2v1.2h-1.2zM477.8 96.6h1.2v1.2h-1.2zM479.4 102.9h1.2v1.2h-1.2zM484.6 96.1h1.2v1.2h-1.2zM476.5 96.5h1.2v1.2h-1.2zM479.8 97.2h1.2v1.2h-1.2zM485.4 99.0h1.2v1.2h-1.2zM482.9 97.9h1.2v1.2h-1.2zM481.0 104.1h1.2v1.2h-1.2zM478.9 98.9h1.2v1.2h-1.2zM481.2 94.3h1.2v1.2h-1.2zM477.4 98.7h1.2v1.2h-1.2zM484.7 97.8h1.2v1.2h-1.2zM476.3 100.4h1.2v1.2h-1.2zM477.4 95.7h1.2v1.2h-1.2zM480.5 101.7h1.2v1.2h-1.2zM480.7 97.6h1.2v1.2h-1.2zM480.3 98.9h1.2v1.2h-1.2zM477.9 94.2h1.2v1.2h-1.2zM481.9 96.8h1.2v1.2h-1.2zM483.4 97.0h1.2v1.2h-1.2zM486.2 96.2h1.2v1.2h-1.2zM480.6 96.4h1.2v1.2h-1.2zM481.8 96.0h1.2v1.2h-1.2zM483.3 97.5h1.2v1.2h-1.2zM483.7 96.1h1.2v1.2h-1.2zM480.9 99.3h1.2v1.2h-1.2zM483.8 100.4h1.2v1.2h-1.2zM480.6 93.6h1.2v1.2h-1.2zM477.9 94.8h1.2v1.2h-1.2zM483.2 96.7h1.2v1.2h-1.2zM486.0 95.4h1.2v1.2h-1.2zM478.6 94.8h1.2v1.2h-1.2zM477.4 100.8h1.2v1.2h-1.2zM482.3 95.6h1.2v1.2h-1.2zM484.9 100.7h1.2v1.2h-1.2zM480.6 99.9h1.2v1.2h-1.2zM483.2 97.9h1.2v1.2h-1.2zM476.8 97.0h1.2v1.2h-1.2zM486.4 97.1h1.2v1.2h-1.2zM483.0 93.6h1.2v1.2h-1.2zM484.5 103.0h1.2v1.2h-1.2zM480.0 97.1h1.2v1.2h-1.2zM481.5 95.6h1.2v1.2h-1.2zM478.2 94.1h1.2v1.2h-1.2zM483.5 98.7h1.2v1.2h-1.2zM485.6 100.0h1.2v1.2h-1.2zM482.7 97.8h1.2v1.2h-1.2zM480.6 94.3h1.2v1.2h-1.2zM481.9 95.9h1.2v1.2h-1.2zM482.2 103.1h1.2v1.2h-1.2zM479.1 99.5h1.2v1.2h-1.2zM478.9 102.6h1.2v1.2h-1.2zM478.1 100.4h1.2v1.2h-1.2zM482.0 96.5h1.2v1.2h-1.2zM476.7 98.4h1.2v1.2h-1.2zM481.7 102.4h1.2v1.2h-1.2zM478.1 94.8h1.2v1.2h-1.2zM479.2 102.3h1.2v1.2h-1.2zM478.4 100.2h1.2v1.2h-1.2zM483.7 98.6h1.2v1.2h-1.2zM477.1 98.3h1.2v1.2h-1.2zM486.3 97.3h1.2v1.2h-1.2zM482.0 97.6h1.2v1.2h-1.2zM481.5 93.1h1.2v1.2h-1.2zM485.7 99.6h1.2v1.2h-1.2zM479.7 96.0h1.2v1.2h-1.2zM485.2 97.1h1.2v1.2h-1.2zM482.6 99.2h1.2v1.2h-1.2zM484.0 94.5h1.2v1.2h-1.2zM482.1 92.8h1.2v1.2h-1.2zM483.1 100.0h1.2v1.2h-1.2zM481.6 92.7h1.2v1.2h-1.2zM486.5 98.5h1.2v1.2h-1.2zM485.2 98.3h1.2v1.2h-1.2zM478.2 97.5h1.2v1.2h-1.2zM476.6 99.6h1.2v1.2h-1.2zM478.3 101.0h1.2v1.2h-1.2zM477.7 100.9h1.2v1.2h-1.2zM482.7 101.2h1.2v1.2h-1.2zM486.4 96.1h1.2v1.2h-1.2zM483.4 97.4h1.2v1.2h-1.2zM484.4 99.8h1.2v1.2h-1.2zM478.7 103.5h1.2v1.2h-1.2zM479.6 102.5h1.2v1.2h-1.2zM483.4 102.7h1.2v1.2h-1.2zM484.8 98.1h1.2v1.2h-1.2zM480.2 102.2h1.2v1.2h-1.2zM483.1 99.1h1.2v1.2h-1.2zM475.9 98.2h1.2v1.2h-1.2zM478.3 94.2h1.2v1.2h-1.2zM484.2 100.7h1.2v1.2h-1.2zM480.4 99.8h1.2v1.2h-1.2zM482.0 104.0h1.2v1.2h-1.2zM481.5 99.1h1.2v1.2h-1.2zM481.0 97.5h1.2v1.2h-1.2zM483.5 93.9h1.2v1.2h-1.2zM483.6 103.8h1.2v1.2h-1.2zM484.3 99.1h1.2v1.2h-1.2zM479.8 93.7h1.2v1.2h-1.2zM476.8 99.1h1.2v1.2h-1.2zM477.9 101.6h1.2v1.2h-1.2zM484.8 98.4h1.2v1.2h-1.2zM485.4 94.8h1.2v1.2h-1.2zM479.6 98.8h1.2v1.2h-1.2zM483.9 98.0h1.2v1.2h-1.2zM479.2 103.0h1.2v1.2h-1.2zM480.2 97.6h1.2v1.2h-1.2zM478.3 98.4h1.2v1.2h-1.2zM483.7 96.9h1.2v1.2h-1.2zM483.2 98.5h1.2v1.2h-1.2zM479.0 99.2h1.2v1.2h-1.2zM477.5 102.8h1.2v1.2h-1.2zM481.6 93.1h1.2v1.2h-1.2zM478.8 98.7h1.2v1.2h-1.2zM477.8 96.3h1.2v1.2h-1.2zM485.9 97.9h1.2v1.2h-1.2zM478.4 99.8h1.2v1.2h-1.2zM477.1 98.8h1.2v1.2h-1.2zM483.1 93.6h1.2v1.2h-1.2zM481.9 96.3h1.2v1.2h-1.2zM484.1 100.0h1.2v1.2h-1.2zM486.0 99.9h1.2v1.2h-1.2zM477.8 94.8h1.2v1.2h-1.2zM483.7 102.4h1.2v1.2h-1.2zM476.5 97.6h1.2v1.2h-1.2zM479.0 98.2h1.2v1.2h-1.2zM485.6 99.3h1.2v1.2h-1.2zM484.1 101.8h1.2v1.2h-1.2zM478.9 100.0h1.2v1.2h-1.2zM480.0 98.3h1.2v1.2h-1.2zM481.7 100.6h1.2v1.2h-1.2zM477.7 102.7h1.2v1.2h-1.2zM477.6 96.3h1.2v1.2h-1.2zM479.9 104.1h1.2v1.2h-1.2zM484.3 94.5h1.2v1.2h-1.2zM477.2 96.9h1.2v1.2h-1.2zM476.7 98.3h1.2v1.2h-1.2zM479.7 101.5h1.2v1.2h-1.2zM481.3 104.2h1.2v1.2h-1.2zM491.1 61.6h1.2v1.2h-1.2zM483.4 74.4h1.2v1.2h-1.2zM472.6 67.0h1.2v1.2h-1.2zM474.0 62.5h1.2v1.2h-1.2zM484.8 67.1h1.2v1.2h-1.2zM489.0 76.0h1.2v1.2h-1.2zM490.6 58.5h1.2v1.2h-1.2zM491.2 73.7h1.2v1.2h-1.2zM485.3 64.0h1.2v1.2h-1.2zM487.0 70.0h1.2v1.2h-1.2zM487.7 76.4h1.2v1.2h-1.2zM471.8 66.2h1.2v1.2h-1.2zM485.3 75.0h1.2v1.2h-1.2zM487.6 67.2h1.2v1.2h-1.2zM481.0 72.6h1.2v1.2h-1.2zM488.5 58.0h1.2v1.2h-1.2zM481.9 64.7h1.2v1.2h-1.2zM484.1 64.7h1.2v1.2h-1.2zM473.6 63.7h1.2v1.2h-1.2zM492.5 68.5h1.2v1.2h-1.2zM492.1 81.9h1.2v1.2h-1.2zM475.3 75.3h1.2v1.2h-1.2zM485.3 59.5h1.2v1.2h-1.2zM482.2 73.2h1.2v1.2h-1.2zM486.3 65.8h1.2v1.2h-1.2zM492.9 77.8h1.2v1.2h-1.2zM492.2 66.4h1.2v1.2h-1.2zM487.5 86.4h1.2v1.2h-1.2zM490.9 64.3h1.2v1.2h-1.2zM490.0 80.1h1.2v1.2h-1.2zM480.7 87.9h1.2v1.2h-1.2zM494.3 76.0h1.2v1.2h-1.2zM488.1 79.5h1.2v1.2h-1.2zM478.9 73.4h1.2v1.2h-1.2zM481.9 63.2h1.2v1.2h-1.2zM475.1 85.8h1.2v1.2h-1.2zM491.2 80.5h1.2v1.2h-1.2zM486.8 73.8h1.2v1.2h-1.2zM483.7 79.4h1.2v1.2h-1.2zM468.1 71.4h1.2v1.2h-1.2zM480.8 58.2h1.2v1.2h-1.2zM474.9 85.1h1.2v1.2h-1.2zM489.8 86.7h1.2v1.2h-1.2zM478.1 71.6h1.2v1.2h-1.2zM494.0 75.0h1.2v1.2h-1.2zM486.6 59.4h1.2v1.2h-1.2zM486.6 62.3h1.2v1.2h-1.2zM487.4 66.8h1.2v1.2h-1.2zM482.4 58.1h1.2v1.2h-1.2zM490.8 83.7h1.2v1.2h-1.2zM483.9 80.3h1.2v1.2h-1.2zM477.2 60.0h1.2v1.2h-1.2zM476.8 82.0h1.2v1.2h-1.2zM483.4 60.2h1.2v1.2h-1.2zM474.5 72.5h1.2v1.2h-1.2zM480.3 60.2h1.2v1.2h-1.2zM488.5 84.0h1.2v1.2h-1.2zM476.6 74.9h1.2v1.2h-1.2zM476.4 70.6h1.2v1.2h-1.2zM476.6 78.9h1.2v1.2h-1.2zM492.2 80.2h1.2v1.2h-1.2zM487.8 73.6h1.2v1.2h-1.2zM491.3 59.3h1.2v1.2h-1.2zM484.3 83.7h1.2v1.2h-1.2zM489.3 79.6h1.2v1.2h-1.2zM469.6 72.6h1.2v1.2h-1.2zM475.3 77.3h1.2v1.2h-1.2zM478.8 71.8h1.2v1.2h-1.2zM482.7 76.6h1.2v1.2h-1.2zM492.4 65.6h1.2v1.2h-1.2zM475.5 62.0h1.2v1.2h-1.2zM477.8 88.0h1.2v1.2h-1.2zM469.7 64.4h1.2v1.2h-1.2zM481.7 56.0h1.2v1.2h-1.2zM474.9 72.4h1.2v1.2h-1.2zM486.6 61.0h1.2v1.2h-1.2zM471.3 67.3h1.2v1.2h-1.2zM470.4 59.8h1.2v1.2h-1.2zM490.0 85.8h1.2v1.2h-1.2zM485.8 66.2h1.2v1.2h-1.2zM490.5 58.3h1.2v1.2h-1.2zM488.6 57.1h1.2v1.2h-1.2zM470.5 78.7h1.2v1.2h-1.2zM471.9 79.4h1.2v1.2h-1.2zM486.4 63.7h1.2v1.2h-1.2zM481.0 63.0h1.2v1.2h-1.2zM491.9 78.1h1.2v1.2h-1.2zM486.9 77.8h1.2v1.2h-1.2zM489.3 73.9h1.2v1.2h-1.2zM484.1 73.1h1.2v1.2h-1.2zM488.7 74.6h1.2v1.2h-1.2zM475.5 74.0h1.2v1.2h-1.2zM482.2 86.7h1.2v1.2h-1.2zM487.7 62.9h1.2v1.2h-1.2zM481.9 76.4h1.2v1.2h-1.2zM483.8 72.0h1.2v1.2h-1.2zM481.9 80.2h1.2v1.2h-1.2zM492.1 74.0h1.2v1.2h-1.2zM489.5 79.9h1.2v1.2h-1.2zM471.2 64.7h1.2v1.2h-1.2zM476.5 68.1h1.2v1.2h-1.2zM481.4 66.0h1.2v1.2h-1.2zM478.1 80.6h1.2v1.2h-1.2zM485.2 89.9h1.2v1.2h-1.2zM478.2 87.0h1.2v1.2h-1.2zM490.0 66.9h1.2v1.2h-1.2zM479.3 68.0h1.2v1.2h-1.2zM480.7 81.6h1.2v1.2h-1.2zM489.0 61.7h1.2v1.2h-1.2zM473.4 67.6h1.2v1.2h-1.2zM472.8 72.5h1.2v1.2h-1.2zM471.5 78.9h1.2v1.2h-1.2zM479.2 64.3h1.2v1.2h-1.2zM486.8 67.2h1.2v1.2h-1.2zM488.6 87.0h1.2v1.2h-1.2zM476.0 64.9h1.2v1.2h-1.2zM487.1 60.7h1.2v1.2h-1.2zM483.0 57.3h1.2v1.2h-1.2zM475.7 70.6h1.2v1.2h-1.2zM484.2 58.2h1.2v1.2h-1.2zM490.2 82.4h1.2v1.2h-1.2zM472.8 64.1h1.2v1.2h-1.2zM469.0 75.3h1.2v1.2h-1.2zM470.1 62.2h1.2v1.2h-1.2zM489.6 65.7h1.2v1.2h-1.2zM471.8 69.1h1.2v1.2h-1.2zM490.1 59.0h1.2v1.2h-1.2zM489.6 75.0h1.2v1.2h-1.2zM489.9 67.5h1.2v1.2h-1.2zM487.8 73.7h1.2v1.2h-1.2zM488.9 62.6h1.2v1.2h-1.2zM475.6 63.0h1.2v1.2h-1.2zM491.3 80.7h1.2v1.2h-1.2zM472.2 81.5h1.2v1.2h-1.2zM469.0 72.2h1.2v1.2h-1.2zM475.0 82.9h1.2v1.2h-1.2zM487.7 80.0h1.2v1.2h-1.2zM485.5 80.4h1.2v1.2h-1.2zM492.6 68.4h1.2v1.2h-1.2zM482.2 78.8h1.2v1.2h-1.2zM493.4 78.8h1.2v1.2h-1.2zM482.1 83.1h1.2v1.2h-1.2zM481.4 56.6h1.2v1.2h-1.2zM483.0 70.3h1.2v1.2h-1.2zM477.1 69.6h1.2v1.2h-1.2zM474.0 66.6h1.2v1.2h-1.2zM488.4 87.3h1.2v1.2h-1.2zM480.5 85.8h1.2v1.2h-1.2zM471.4 74.0h1.2v1.2h-1.2zM488.4 83.5h1.2v1.2h-1.2zM478.5 61.4h1.2v1.2h-1.2zM494.3 77.3h1.2v1.2h-1.2zM485.9 67.9h1.2v1.2h-1.2zM471.0 75.9h1.2v1.2h-1.2zM479.0 87.4h1.2v1.2h-1.2zM486.1 82.6h1.2v1.2h-1.2zM483.6 82.5h1.2v1.2h-1.2zM483.9 76.9h1.2v1.2h-1.2zM473.1 58.7h1.2v1.2h-1.2zM487.3 81.5h1.2v1.2h-1.2zM486.2 64.6h1.2v1.2h-1.2zM481.3 83.1h1.2v1.2h-1.2zM485.5 88.1h1.2v1.2h-1.2zM482.6 58.1h1.2v1.2h-1.2zM479.4 79.4h1.2v1.2h-1.2zM481.9 84.0h1.2v1.2h-1.2zM493.7 67.7h1.2v1.2h-1.2zM473.6 60.6h1.2v1.2h-1.2zM473.9 70.5h1.2v1.2h-1.2zM487.3 89.1h1.2v1.2h-1.2zM483.3 89.7h1.2v1.2h-1.2zM479.6 79.1h1.2v1.2h-1.2zM490.1 59.5h1.2v1.2h-1.2zM476.1 74.3h1.2v1.2h-1.2zM482.3 56.5h1.2v1.2h-1.2zM470.9 79.8h1.2v1.2h-1.2zM479.0 58.7h1.2v1.2h-1.2zM481.1 68.8h1.2v1.2h-1.2zM472.9 58.1h1.2v1.2h-1.2zM483.1 90.0h1.2v1.2h-1.2zM489.3 59.4h1.2v1.2h-1.2zM482.7 68.3h1.2v1.2h-1.2zM484.5 64.6h1.2v1.2h-1.2zM479.9 74.4h1.2v1.2h-1.2zM478.3 75.7h1.2v1.2h-1.2zM470.4 70.5h1.2v1.2h-1.2zM495.0 69.8h1.2v1.2h-1.2zM481.8 82.5h1.2v1.2h-1.2zM490.2 81.9h1.2v1.2h-1.2zM478.4 81.0h1.2v1.2h-1.2zM473.4 77.6h1.2v1.2h-1.2zM472.7 68.1h1.2v1.2h-1.2zM484.8 85.7h1.2v1.2h-1.2zM493.8 71.5h1.2v1.2h-1.2zM489.4 78.7h1.2v1.2h-1.2zM489.3 60.8h1.2v1.2h-1.2zM470.2 74.2h1.2v1.2h-1.2zM484.6 80.1h1.2v1.2h-1.2zM472.8 75.8h1.2v1.2h-1.2zM494.5 64.5h1.2v1.2h-1.2zM486.4 71.3h1.2v1.2h-1.2zM479.4 72.2h1.2v1.2h-1.2zM475.6 61.6h1.2v1.2h-1.2zM492.6 68.4h1.2v1.2h-1.2zM492.0 75.7h1.2v1.2h-1.2zM487.5 71.5h1.2v1.2h-1.2zM474.6 75.7h1.2v1.2h-1.2zM476.5 85.2h1.2v1.2h-1.2zM477.2 70.5h1.2v1.2h-1.2zM482.8 90.8h1.2v1.2h-1.2zM482.4 75.7h1.2v1.2h-1.2zM473.3 83.8h1.2v1.2h-1.2zM481.2 82.8h1.2v1.2h-1.2zM493.3 77.8h1.2v1.2h-1.2zM487.0 75.2h1.2v1.2h-1.2zM471.5 71.9h1.2v1.2h-1.2zM469.6 61.9h1.2v1.2h-1.2zM494.9 69.1h1.2v1.2h-1.2zM471.6 71.1h1.2v1.2h-1.2zM469.6 77.3h1.2v1.2h-1.2zM474.2 63.2h1.2v1.2h-1.2zM485.4 88.7h1.2v1.2h-1.2zM483.9 72.9h1.2v1.2h-1.2zM477.6 74.2h1.2v1.2h-1.2zM477.3 85.8h1.2v1.2h-1.2zM490.2 84.0h1.2v1.2h-1.2zM481.4 73.4h1.2v1.2h-1.2zM491.1 59.6h1.2v1.2h-1.2zM481.4 71.7h1.2v1.2h-1.2zM479.1 73.3h1.2v1.2h-1.2zM482.2 61.4h1.2v1.2h-1.2zM473.2 72.6h1.2v1.2h-1.2zM475.2 83.9h1.2v1.2h-1.2zM468.4 64.0h1.2v1.2h-1.2zM476.4 85.9h1.2v1.2h-1.2zM470.7 79.7h1.2v1.2h-1.2zM481.2 63.3h1.2v1.2h-1.2zM471.3 64.2h1.2v1.2h-1.2zM488.1 76.1h1.2v1.2h-1.2zM471.5 65.7h1.2v1.2h-1.2zM488.6 72.4h1.2v1.2h-1.2zM473.6 64.6h1.2v1.2h-1.2zM473.2 78.0h1.2v1.2h-1.2zM484.3 74.1h1.2v1.2h-1.2zM489.2 74.5h1.2v1.2h-1.2zM476.6 79.5h1.2v1.2h-1.2zM481.3 60.4h1.2v1.2h-1.2zM488.4 70.9h1.2v1.2h-1.2zM491.0 79.5h1.2v1.2h-1.2zM494.3 76.3h1.2v1.2h-1.2zM484.3 90.5h1.2v1.2h-1.2zM490.0 67.6h1.2v1.2h-1.2zM493.6 79.2h1.2v1.2h-1.2zM494.0 77.3h1.2v1.2h-1.2zM488.4 76.9h1.2v1.2h-1.2zM474.0 58.2h1.2v1.2h-1.2zM488.3 71.7h1.2v1.2h-1.2zM471.3 75.5h1.2v1.2h-1.2zM475.2 64.8h1.2v1.2h-1.2zM492.0 77.7h1.2v1.2h-1.2zM488.5 84.8h1.2v1.2h-1.2zM479.9 71.6h1.2v1.2h-1.2zM479.8 68.3h1.2v1.2h-1.2zM489.3 87.2h1.2v1.2h-1.2zM476.1 81.0h1.2v1.2h-1.2zM486.7 83.3h1.2v1.2h-1.2zM487.7 67.0h1.2v1.2h-1.2zM488.8 85.8h1.2v1.2h-1.2zM479.8 65.3h1.2v1.2h-1.2zM478.3 74.4h1.2v1.2h-1.2zM482.4 66.0h1.2v1.2h-1.2zM469.6 78.1h1.2v1.2h-1.2zM487.6 80.4h1.2v1.2h-1.2zM478.8 86.3h1.2v1.2h-1.2zM482.3 63.6h1.2v1.2h-1.2zM482.4 55.5h1.2v1.2h-1.2zM485.9 73.7h1.2v1.2h-1.2zM482.7 85.7h1.2v1.2h-1.2zM485.5 89.3h1.2v1.2h-1.2zM486.6 88.3h1.2v1.2h-1.2zM488.7 69.5h1.2v1.2h-1.2zM482.3 83.6h1.2v1.2h-1.2zM469.5 74.8h1.2v1.2h-1.2zM483.5 81.2h1.2v1.2h-1.2zM477.3 77.2h1.2v1.2h-1.2zM488.1 69.1h1.2v1.2h-1.2zM486.6 87.9h1.2v1.2h-1.2zM478.1 74.3h1.2v1.2h-1.2zM481.2 85.6h1.2v1.2h-1.2zM475.3 65.7h1.2v1.2h-1.2zM478.7 78.9h1.2v1.2h-1.2zM481.7 81.7h1.2v1.2h-1.2zM479.2 56.4h1.2v1.2h-1.2zM478.5 76.0h1.2v1.2h-1.2zM484.0 71.9h1.2v1.2h-1.2zM468.7 64.3h1.2v1.2h-1.2zM477.2 78.8h1.2v1.2h-1.2zM472.7 72.9h1.2v1.2h-1.2zM475.3 75.7h1.2v1.2h-1.2zM486.8 74.0h1.2v1.2h-1.2zM488.5 77.8h1.2v1.2h-1.2zM470.2 79.0h1.2v1.2h-1.2zM481.2 82.7h1.2v1.2h-1.2zM493.7 68.1h1.2v1.2h-1.2zM491.3 63.7h1.2v1.2h-1.2zM490.6 71.5h1.2v1.2h-1.2zM480.4 73.3h1.2v1.2h-1.2zM478.1 63.7h1.2v1.2h-1.2zM486.9 78.0h1.2v1.2h-1.2zM469.4 65.1h1.2v1.2h-1.2zM493.5 65.6h1.2v1.2h-1.2zM476.0 76.2h1.2v1.2h-1.2zM474.1 61.6h1.2v1.2h-1.2zM480.1 65.6h1.2v1.2h-1.2zM486.4 87.3h1.2v1.2h-1.2zM471.0 66.6h1.2v1.2h-1.2zM471.6 70.9h1.2v1.2h-1.2zM477.9 81.6h1.2v1.2h-1.2zM479.5 78.6h1.2v1.2h-1.2zM471.5 77.4h1.2v1.2h-1.2zM471.8 61.4h1.2v1.2h-1.2zM492.7 80.5h1.2v1.2h-1.2zM488.9 57.8h1.2v1.2h-1.2zM484.9 56.2h1.2v1.2h-1.2zM488.2 84.0h1.2v1.2h-1.2zM485.0 68.6h1.2v1.2h-1.2zM476.9 84.6h1.2v1.2h-1.2zM494.5 68.5h1.2v1.2h-1.2zM479.7 71.3h1.2v1.2h-1.2zM476.4 81.5h1.2v1.2h-1.2zM494.9 72.3h1.2v1.2h-1.2zM491.4 69.8h1.2v1.2h-1.2zM479.5 84.3h1.2v1.2h-1.2zM487.3 85.2h1.2v1.2h-1.2zM482.5 69.4h1.2v1.2h-1.2zM477.8 83.6h1.2v1.2h-1.2zM486.4 79.6h1.2v1.2h-1.2zM481.3 58.7h1.2v1.2h-1.2zM490.8 82.8h1.2v1.2h-1.2zM481.0 75.6h1.2v1.2h-1.2zM490.0 73.2h1.2v1.2h-1.2zM481.0 72.8h1.2v1.2h-1.2zM488.1 81.9h1.2v1.2h-1.2zM477.1 83.3h1.2v1.2h-1.2zM478.2 79.7h1.2v1.2h-1.2zM478.3 87.8h1.2v1.2h-1.2zM478.4 68.0h1.2v1.2h-1.2zM479.8 77.2h1.2v1.2h-1.2zM468.8 75.0h1.2v1.2h-1.2zM492.4 76.0h1.2v1.2h-1.2zM487.7 82.5h1.2v1.2h-1.2zM479.5 59.6h1.2v1.2h-1.2zM487.7 63.2h1.2v1.2h-1.2zM481.6 73.9h1.2v1.2h-1.2zM477.9 73.0h1.2v1.2h-1.2zM480.5 90.7h1.2v1.2h-1.2zM492.9 61.8h1.2v1.2h-1.2zM489.1 69.1h1.2v1.2h-1.2zM484.3 75.7h1.2v1.2h-1.2zM488.2 66.2h1.2v1.2h-1.2zM486.5 68.7h1.2v1.2h-1.2zM489.4 73.2h1.2v1.2h-1.2zM492.5 74.3h1.2v1.2h-1.2zM485.7 85.3h1.2v1.2h-1.2zM492.4 69.3h1.2v1.2h-1.2zM495.1 69.5h1.2v1.2h-1.2zM487.9 85.3h1.2v1.2h-1.2zM477.9 70.5h1.2v1.2h-1.2zM478.0 67.7h1.2v1.2h-1.2zM479.2 85.9h1.2v1.2h-1.2zM489.6 75.5h1.2v1.2h-1.2zM485.6 66.2h1.2v1.2h-1.2zM488.9 86.9h1.2v1.2h-1.2zM478.4 73.4h1.2v1.2h-1.2zM473.9 64.4h1.2v1.2h-1.2zM491.3 78.5h1.2v1.2h-1.2zM480.2 78.4h1.2v1.2h-1.2zM477.7 76.1h1.2v1.2h-1.2zM473.0 74.9h1.2v1.2h-1.2zM476.8 64.9h1.2v1.2h-1.2zM488.3 68.4h1.2v1.2h-1.2zM488.3 82.4h1.2v1.2h-1.2zM478.2 56.5h1.2v1.2h-1.2zM491.1 75.3h1.2v1.2h-1.2zM483.9 80.1h1.2v1.2h-1.2zM483.0 88.1h1.2v1.2h-1.2zM484.8 70.1h1.2v1.2h-1.2zM484.3 55.7h1.2v1.2h-1.2zM485.0 70.2h1.2v1.2h-1.2zM483.7 85.3h1.2v1.2h-1.2zM476.4 64.4h1.2v1.2h-1.2zM475.3 74.4h1.2v1.2h-1.2zM475.8 68.8h1.2v1.2h-1.2zM485.5 68.1h1.2v1.2h-1.2zM486.3 60.8h1.2v1.2h-1.2zM469.1 76.3h1.2v1.2h-1.2zM487.8 60.2h1.2v1.2h-1.2zM486.9 61.2h1.2v1.2h-1.2zM479.2 57.4h1.2v1.2h-1.2zM470.3 68.1h1.2v1.2h-1.2zM488.6 78.3h1.2v1.2h-1.2zM484.0 73.8h1.2v1.2h-1.2zM485.9 73.3h1.2v1.2h-1.2zM478.8 85.5h1.2v1.2h-1.2zM476.2 70.0h1.2v1.2h-1.2zM477.4 71.0h1.2v1.2h-1.2zM479.0 63.0h1.2v1.2h-1.2zM477.7 83.8h1.2v1.2h-1.2zM473.1 72.6h1.2v1.2h-1.2zM475.7 76.2h1.2v1.2h-1.2zM489.2 59.6h1.2v1.2h-1.2zM481.3 62.2h1.2v1.2h-1.2zM485.7 79.8h1.2v1.2h-1.2zM474.0 63.7h1.2v1.2h-1.2zM476.2 67.2h1.2v1.2h-1.2zM489.7 69.6h1.2v1.2h-1.2zM480.5 62.6h1.2v1.2h-1.2zM480.6 89.6h1.2v1.2h-1.2zM470.4 69.6h1.2v1.2h-1.2zM476.2 72.9h1.2v1.2h-1.2zM482.0 84.2h1.2v1.2h-1.2zM487.7 82.2h1.2v1.2h-1.2zM475.1 64.4h1.2v1.2h-1.2zM484.3 57.2h1.2v1.2h-1.2zM493.7 81.3h1.2v1.2h-1.2zM481.5 68.4h1.2v1.2h-1.2zM470.0 75.4h1.2v1.2h-1.2zM489.2 59.6h1.2v1.2h-1.2zM470.6 80.1h1.2v1.2h-1.2zM480.8 83.9h1.2v1.2h-1.2zM491.9 67.0h1.2v1.2h-1.2zM482.7 76.5h1.2v1.2h-1.2zM480.3 84.8h1.2v1.2h-1.2zM487.3 84.9h1.2v1.2h-1.2zM474.9 73.6h1.2v1.2h-1.2zM482.8 76.4h1.2v1.2h-1.2zM480.2 61.1h1.2v1.2h-1.2zM491.4 75.4h1.2v1.2h-1.2zM488.3 82.0h1.2v1.2h-1.2zM485.0 88.3h1.2v1.2h-1.2zM469.4 67.4h1.2v1.2h-1.2zM472.4 78.3h1.2v1.2h-1.2zM471.6 61.7h1.2v1.2h-1.2zM482.8 71.8h1.2v1.2h-1.2zM480.7 55.8h1.2v1.2h-1.2zM482.4 64.5h1.2v1.2h-1.2zM472.1 69.8h1.2v1.2h-1.2zM472.5 72.1h1.2v1.2h-1.2zM472.4 81.9h1.2v1.2h-1.2zM492.0 67.1h1.2v1.2h-1.2zM470.2 78.8h1.2v1.2h-1.2zM488.7 72.8h1.2v1.2h-1.2zM492.4 60.7h1.2v1.2h-1.2zM487.7 88.1h1.2v1.2h-1.2zM479.9 73.8h1.2v1.2h-1.2zM491.2 69.1h1.2v1.2h-1.2zM474.9 56.5h1.2v1.2h-1.2zM473.5 60.5h1.2v1.2h-1.2zM493.5 66.5h1.2v1.2h-1.2zM486.9 71.0h1.2v1.2h-1.2zM470.8 68.5h1.2v1.2h-1.2zM475.3 57.1h1.2v1.2h-1.2zM489.6 76.8h1.2v1.2h-1.2zM475.7 85.4h1.2v1.2h-1.2zM483.2 89.4h1.2v1.2h-1.2zM493.5 68.9h1.2v1.2h-1.2zM486.9 81.6h1.2v1.2h-1.2zM485.9 56.2h1.2v1.2h-1.2zM486.8 82.8h1.2v1.2h-1.2zM473.2 58.8h1.2v1.2h-1.2zM469.8 75.0h1.2v1.2h-1.2zM488.1 70.8h1.2v1.2h-1.2zM472.9 70.8h1.2v1.2h-1.2zM484.6 86.4h1.2v1.2h-1.2zM492.4 67.1h1.2v1.2h-1.2zM486.8 78.7h1.2v1.2h-1.2zM490.0 84.6h1.2v1.2h-1.2zM485.1 85.0h1.2v1.2h-1.2zM486.2 58.8h1.2v1.2h-1.2zM472.5 78.5h1.2v1.2h-1.2zM475.6 72.9h1.2v1.2h-1.2zM481.7 89.2h1.2v1.2h-1.2zM476.3 87.5h1.2v1.2h-1.2zM487.8 75.9h1.2v1.2h-1.2zM488.5 75.0h1.2v1.2h-1.2zM469.1 63.3h1.2v1.2h-1.2zM485.8 59.6h1.2v1.2h-1.2zM485.6 67.9h1.2v1.2h-1.2zM478.6 85.0h1.2v1.2h-1.2zM491.0 82.3h1.2v1.2h-1.2zM480.2 74.7h1.2v1.2h-1.2zM484.6 58.2h1.2v1.2h-1.2zM471.1 79.1h1.2v1.2h-1.2zM473.3 82.5h1.2v1.2h-1.2zM486.8 61.3h1.2v1.2h-1.2zM489.9 72.4h1.2v1.2h-1.2zM487.0 58.4h1.2v1.2h-1.2zM478.1 80.7h1.2v1.2h-1.2zM478.0 61.4h1.2v1.2h-1.2zM480.4 60.5h1.2v1.2h-1.2zM480.9 59.0h1.2v1.2h-1.2zM487.9 63.1h1.2v1.2h-1.2zM485.3 78.6h1.2v1.2h-1.2zM473.4 78.0h1.2v1.2h-1.2zM483.0 77.6h1.2v1.2h-1.2zM473.0 72.6h1.2v1.2h-1.2zM490.9 77.7h1.2v1.2h-1.2zM474.6 67.4h1.2v1.2h-1.2zM481.0 73.9h1.2v1.2h-1.2zM480.4 65.9h1.2v1.2h-1.2zM480.3 57.3h1.2v1.2h-1.2zM488.8 62.5h1.2v1.2h-1.2zM476.6 58.2h1.2v1.2h-1.2zM476.6 74.2h1.2v1.2h-1.2zM488.6 73.6h1.2v1.2h-1.2zM483.5 57.0h1.2v1.2h-1.2zM471.6 79.6h1.2v1.2h-1.2zM483.2 76.9h1.2v1.2h-1.2zM471.2 67.5h1.2v1.2h-1.2zM478.0 82.0h1.2v1.2h-1.2zM489.4 80.4h1.2v1.2h-1.2zM472.9 72.0h1.2v1.2h-1.2zM493.1 61.7h1.2v1.2h-1.2zM477.5 77.6h1.2v1.2h-1.2zM486.9 72.0h1.2v1.2h-1.2zM482.4 85.7h1.2v1.2h-1.2zM470.5 76.9h1.2v1.2h-1.2zM476.6 82.6h1.2v1.2h-1.2zM487.5 70.4h1.2v1.2h-1.2zM472.1 82.9h1.2v1.2h-1.2zM487.2 75.7h1.2v1.2h-1.2zM474.6 80.2h1.2v1.2h-1.2zM490.1 65.0h1.2v1.2h-1.2zM492.7 66.7h1.2v1.2h-1.2zM494.2 76.4h1.2v1.2h-1.2zM489.4 68.7h1.2v1.2h-1.2zM480.5 76.5h1.2v1.2h-1.2zM490.0 70.4h1.2v1.2h-1.2zM492.6 63.2h1.2v1.2h-1.2zM482.2 60.6h1.2v1.2h-1.2zM472.6 65.9h1.2v1.2h-1.2zM469.2 75.9h1.2v1.2h-1.2zM485.0 69.6h1.2v1.2h-1.2zM489.8 75.0h1.2v1.2h-1.2zM486.7 58.5h1.2v1.2h-1.2zM477.0 56.2h1.2v1.2h-1.2zM471.6 76.9h1.2v1.2h-1.2zM478.3 79.6h1.2v1.2h-1.2zM488.9 65.4h1.2v1.2h-1.2zM476.9 74.2h1.2v1.2h-1.2zM491.1 59.0h1.2v1.2h-1.2zM492.4 79.5h1.2v1.2h-1.2zM484.2 70.1h1.2v1.2h-1.2zM478.4 70.0h1.2v1.2h-1.2zM487.6 71.3h1.2v1.2h-1.2zM487.5 86.9h1.2v1.2h-1.2zM490.3 70.0h1.2v1.2h-1.2zM479.7 77.0h1.2v1.2h-1.2zM475.8 87.1h1.2v1.2h-1.2zM488.5 64.6h1.2v1.2h-1.2zM479.0 70.4h1.2v1.2h-1.2zM487.4 65.7h1.2v1.2h-1.2zM477.7 73.5h1.2v1.2h-1.2zM474.4 70.9h1.2v1.2h-1.2zM488.5 73.6h1.2v1.2h-1.2zM469.4 68.0h1.2v1.2h-1.2zM483.6 63.7h1.2v1.2h-1.2zM478.6 75.5h1.2v1.2h-1.2zM477.9 62.0h1.2v1.2h-1.2zM483.1 75.0h1.2v1.2h-1.2zM479.2 77.9h1.2v1.2h-1.2zM492.2 66.9h1.2v1.2h-1.2zM469.6 62.6h1.2v1.2h-1.2zM492.1 77.0h1.2v1.2h-1.2zM488.6 69.4h1.2v1.2h-1.2zM476.8 80.2h1.2v1.2h-1.2zM483.5 88.3h1.2v1.2h-1.2zM472.3 67.8h1.2v1.2h-1.2zM486.9 88.0h1.2v1.2h-1.2zM480.7 83.8h1.2v1.2h-1.2zM470.9 78.4h1.2v1.2h-1.2zM477.0 80.4h1.2v1.2h-1.2zM476.1 62.1h1.2v1.2h-1.2zM475.3 81.4h1.2v1.2h-1.2zM487.5 88.3h1.2v1.2h-1.2zM479.3 57.8h1.2v1.2h-1.2zM490.1 64.6h1.2v1.2h-1.2zM487.6 73.0h1.2v1.2h-1.2zM480.1 56.5h1.2v1.2h-1.2zM474.1 82.3h1.2v1.2h-1.2zM480.5 87.1h1.2v1.2h-1.2zM490.1 74.6h1.2v1.2h-1.2zM478.9 74.6h1.2v1.2h-1.2zM472.0 76.3h1.2v1.2h-1.2zM475.4 69.1h1.2v1.2h-1.2zM480.7 65.8h1.2v1.2h-1.2zM472.6 79.4h1.2v1.2h-1.2zM485.1 58.3h1.2v1.2h-1.2zM474.0 65.5h1.2v1.2h-1.2zM477.9 73.1h1.2v1.2h-1.2zM483.7 77.9h1.2v1.2h-1.2zM475.0 68.2h1.2v1.2h-1.2zM480.1 87.3h1.2v1.2h-1.2zM489.3 72.7h1.2v1.2h-1.2zM469.8 68.3h1.2v1.2h-1.2zM490.4 71.0h1.2v1.2h-1.2zM478.6 78.4h1.2v1.2h-1.2zM486.8 59.5h1.2v1.2h-1.2zM479.4 86.2h1.2v1.2h-1.2zM475.1 74.5h1.2v1.2h-1.2zM477.4 75.3h1.2v1.2h-1.2zM478.7 67.8h1.2v1.2h-1.2zM493.3 80.3h1.2v1.2h-1.2zM480.7 68.6h1.2v1.2h-1.2zM491.7 68.6h1.2v1.2h-1.2zM486.6 61.8h1.2v1.2h-1.2zM482.8 65.1h1.2v1.2h-1.2zM493.0 68.6h1.2v1.2h-1.2zM494.1 75.8h1.2v1.2h-1.2zM477.3 75.2h1.2v1.2h-1.2zM493.5 80.4h1.2v1.2h-1.2zM490.6 75.8h1.2v1.2h-1.2zM484.9 60.4h1.2v1.2h-1.2zM490.8 78.4h1.2v1.2h-1.2zM485.7 66.3h1.2v1.2h-1.2zM488.9 74.4h1.2v1.2h-1.2zM489.1 79.8h1.2v1.2h-1.2zM491.0 80.5h1.2v1.2h-1.2zM492.8 79.6h1.2v1.2h-1.2zM479.9 73.4h1.2v1.2h-1.2zM490.7 76.8h1.2v1.2h-1.2zM480.7 84.3h1.2v1.2h-1.2zM468.5 69.8h1.2v1.2h-1.2zM474.8 77.3h1.2v1.2h-1.2zM477.6 77.3h1.2v1.2h-1.2zM492.6 70.2h1.2v1.2h-1.2zM490.9 72.3h1.2v1.2h-1.2zM480.0 56.5h1.2v1.2h-1.2zM476.7 72.4h1.2v1.2h-1.2zM483.7 63.4h1.2v1.2h-1.2zM485.7 78.4h1.2v1.2h-1.2zM476.0 59.1h1.2v1.2h-1.2zM475.9 63.1h1.2v1.2h-1.2zM475.5 82.2h1.2v1.2h-1.2zM490.3 84.1h1.2v1.2h-1.2zM491.3 78.2h1.2v1.2h-1.2zM484.5 70.7h1.2v1.2h-1.2zM490.5 74.6h1.2v1.2h-1.2zM477.6 73.3h1.2v1.2h-1.2zM480.9 62.1h1.2v1.2h-1.2zM486.4 85.4h1.2v1.2h-1.2zM479.0 83.0h1.2v1.2h-1.2zM471.5 73.6h1.2v1.2h-1.2zM486.7 74.6h1.2v1.2h-1.2zM487.3 61.4h1.2v1.2h-1.2zM484.4 74.3h1.2v1.2h-1.2zM487.8 59.4h1.2v1.2h-1.2zM491.9 62.0h1.2v1.2h-1.2zM487.7 69.0h1.2v1.2h-1.2zM487.2 80.5h1.2v1.2h-1.2zM479.1 89.5h1.2v1.2h-1.2zM480.0 72.2h1.2v1.2h-1.2zM487.6 60.9h1.2v1.2h-1.2zM492.5 67.4h1.2v1.2h-1.2zM492.3 60.6h1.2v1.2h-1.2zM471.3 76.7h1.2v1.2h-1.2zM474.5 71.2h1.2v1.2h-1.2zM473.4 81.5h1.2v1.2h-1.2zM488.2 80.1h1.2v1.2h-1.2zM483.9 58.3h1.2v1.2h-1.2zM487.6 75.1h1.2v1.2h-1.2zM485.9 85.2h1.2v1.2h-1.2zM481.9 65.9h1.2v1.2h-1.2zM486.2 78.2h1.2v1.2h-1.2zM482.0 71.8h1.2v1.2h-1.2zM493.2 69.0h1.2v1.2h-1.2zM488.8 87.7h1.2v1.2h-1.2zM495.0 71.1h1.2v1.2h-1.2zM472.2 73.1h1.2v1.2h-1.2zM481.4 69.3h1.2v1.2h-1.2zM489.5 64.4h1.2v1.2h-1.2zM475.7 85.3h1.2v1.2h-1.2zM474.3 81.5h1.2v1.2h-1.2zM475.4 70.1h1.2v1.2h-1.2zM480.8 64.3h1.2v1.2h-1.2zM468.6 71.2h1.2v1.2h-1.2zM488.3 75.1h1.2v1.2h-1.2zM486.7 64.8h1.2v1.2h-1.2zM478.9 57.7h1.2v1.2h-1.2zM478.7 82.4h1.2v1.2h-1.2zM476.6 62.1h1.2v1.2h-1.2zM482.7 87.7h1.2v1.2h-1.2zM485.7 59.4h1.2v1.2h-1.2zM479.8 63.6h1.2v1.2h-1.2zM490.2 70.5h1.2v1.2h-1.2zM480.1 87.0h1.2v1.2h-1.2zM476.1 71.6h1.2v1.2h-1.2zM494.9 66.4h1.2v1.2h-1.2zM482.7 78.7h1.2v1.2h-1.2zM477.1 78.0h1.2v1.2h-1.2zM479.5 85.3h1.2v1.2h-1.2zM483.2 81.6h1.2v1.2h-1.2zM483.7 80.5h1.2v1.2h-1.2zM478.6 60.7h1.2v1.2h-1.2zM477.9 67.1h1.2v1.2h-1.2zM482.3 72.7h1.2v1.2h-1.2zM487.3 57.8h1.2v1.2h-1.2zM471.4 81.2h1.2v1.2h-1.2zM481.9 90.2h1.2v1.2h-1.2zM491.5 70.1h1.2v1.2h-1.2zM477.4 71.0h1.2v1.2h-1.2zM489.1 72.0h1.2v1.2h-1.2zM488.5 73.9h1.2v1.2h-1.2zM488.3 73.2h1.2v1.2h-1.2zM483.9 70.5h1.2v1.2h-1.2zM483.5 75.5h1.2v1.2h-1.2zM470.7 75.8h1.2v1.2h-1.2zM493.5 64.1h1.2v1.2h-1.2zM489.2 64.6h1.2v1.2h-1.2zM487.5 65.6h1.2v1.2h-1.2zM484.3 83.3h1.2v1.2h-1.2zM482.3 64.2h1.2v1.2h-1.2zM476.3 75.4h1.2v1.2h-1.2zM488.3 61.8h1.2v1.2h-1.2zM469.8 63.7h1.2v1.2h-1.2zM485.3 69.9h1.2v1.2h-1.2zM488.9 81.6h1.2v1.2h-1.2zM478.0 76.6h1.2v1.2h-1.2zM471.9 77.3h1.2v1.2h-1.2zM485.7 63.9h1.2v1.2h-1.2zM486.2 60.4h1.2v1.2h-1.2zM494.6 75.1h1.2v1.2h-1.2zM493.3 79.5h1.2v1.2h-1.2zM473.8 81.8h1.2v1.2h-1.2zM484.8 69.0h1.2v1.2h-1.2zM487.0 82.8h1.2v1.2h-1.2zM486.6 63.3h1.2v1.2h-1.2zM479.8 88.8h1.2v1.2h-1.2zM473.2 64.2h1.2v1.2h-1.2zM481.4 60.6h1.2v1.2h-1.2zM474.4 81.8h1.2v1.2h-1.2zM479.1 81.0h1.2v1.2h-1.2zM475.0 72.6h1.2v1.2h-1.2zM491.7 68.6h1.2v1.2h-1.2zM478.1 74.9h1.2v1.2h-1.2zM471.8 70.2h1.2v1.2h-1.2zM492.0 85.1h1.2v1.2h-1.2zM474.2 57.3h1.2v1.2h-1.2zM471.5 78.8h1.2v1.2h-1.2zM482.9 68.7h1.2v1.2h-1.2zM487.5 63.3h1.2v1.2h-1.2zM484.6 70.4h1.2v1.2h-1.2zM473.0 84.2h1.2v1.2h-1.2zM488.8 71.1h1.2v1.2h-1.2zM480.4 62.8h1.2v1.2h-1.2zM471.7 80.5h1.2v1.2h-1.2zM478.1 75.7h1.2v1.2h-1.2zM478.0 65.0h1.2v1.2h-1.2zM472.4 82.8h1.2v1.2h-1.2zM479.8 60.9h1.2v1.2h-1.2zM491.9 60.9h1.2v1.2h-1.2zM474.2 61.1h1.2v1.2h-1.2zM483.3 83.4h1.2v1.2h-1.2zM487.2 85.3h1.2v1.2h-1.2zM479.5 71.1h1.2v1.2h-1.2zM470.5 64.8h1.2v1.2h-1.2zM491.8 65.7h1.2v1.2h-1.2zM479.5 85.4h1.2v1.2h-1.2zM476.5 64.2h1.2v1.2h-1.2zM483.0 63.0h1.2v1.2h-1.2zM475.0 78.2h1.2v1.2h-1.2zM472.7 83.7h1.2v1.2h-1.2zM491.9 70.5h1.2v1.2h-1.2zM471.5 75.9h1.2v1.2h-1.2zM476.0 59.2h1.2v1.2h-1.2zM487.4 75.5h1.2v1.2h-1.2zM475.4 64.3h1.2v1.2h-1.2zM487.8 88.4h1.2v1.2h-1.2zM477.6 76.5h1.2v1.2h-1.2zM474.0 72.1h1.2v1.2h-1.2zM483.9 66.4h1.2v1.2h-1.2zM484.5 74.9h1.2v1.2h-1.2zM479.3 60.7h1.2v1.2h-1.2zM482.9 76.8h1.2v1.2h-1.2zM485.1 87.3h1.2v1.2h-1.2zM484.6 83.2h1.2v1.2h-1.2zM493.5 76.7h1.2v1.2h-1.2zM490.7 75.2h1.2v1.2h-1.2zM479.8 61.2h1.2v1.2h-1.2zM481.1 81.1h1.2v1.2h-1.2zM489.7 87.6h1.2v1.2h-1.2zM482.1 89.4h1.2v1.2h-1.2zM478.1 56.1h1.2v1.2h-1.2zM479.6 74.9h1.2v1.2h-1.2zM489.2 63.8h1.2v1.2h-1.2zM483.5 60.3h1.2v1.2h-1.2zM482.2 83.2h1.2v1.2h-1.2zM469.5 60.7h1.2v1.2h-1.2zM484.2 79.8h1.2v1.2h-1.2zM484.5 88.6h1.2v1.2h-1.2zM482.7 68.1h1.2v1.2h-1.2zM478.8 69.6h1.2v1.2h-1.2zM492.2 65.7h1.2v1.2h-1.2zM486.9 75.8h1.2v1.2h-1.2zM474.9 66.2h1.2v1.2h-1.2zM473.2 80.6h1.2v1.2h-1.2zM487.0 68.5h1.2v1.2h-1.2zM471.1 76.8h1.2v1.2h-1.2zM477.2 75.2h1.2v1.2h-1.2zM474.0 70.7h1.2v1.2h-1.2zM490.8 66.5h1.2v1.2h-1.2zM484.4 90.4h1.2v1.2h-1.2zM487.7 88.3h1.2v1.2h-1.2zM492.8 65.3h1.2v1.2h-1.2zM489.1 88.4h1.2v1.2h-1.2zM473.8 69.5h1.2v1.2h-1.2zM489.1 76.0h1.2v1.2h-1.2zM493.1 71.0h1.2v1.2h-1.2zM480.2 61.4h1.2v1.2h-1.2zM475.4 86.9h1.2v1.2h-1.2zM490.0 75.9h1.2v1.2h-1.2zM480.0 68.6h1.2v1.2h-1.2zM486.6 65.7h1.2v1.2h-1.2zM470.8 62.0h1.2v1.2h-1.2zM475.1 62.3h1.2v1.2h-1.2zM483.6 66.7h1.2v1.2h-1.2zM468.6 72.3h1.2v1.2h-1.2zM484.9 74.8h1.2v1.2h-1.2zM478.0 75.0h1.2v1.2h-1.2zM479.3 83.7h1.2v1.2h-1.2zM472.5 63.6h1.2v1.2h-1.2zM480.3 75.0h1.2v1.2h-1.2zM482.2 77.0h1.2v1.2h-1.2zM491.0 67.2h1.2v1.2h-1.2zM484.6 89.7h1.2v1.2h-1.2zM494.6 75.7h1.2v1.2h-1.2zM477.2 78.8h1.2v1.2h-1.2zM488.0 79.9h1.2v1.2h-1.2zM486.5 69.2h1.2v1.2h-1.2zM487.6 68.1h1.2v1.2h-1.2zM474.3 59.0h1.2v1.2h-1.2zM483.1 61.5h1.2v1.2h-1.2zM475.7 66.1h1.2v1.2h-1.2zM478.1 70.4h1.2v1.2h-1.2zM494.7 74.3h1.2v1.2h-1.2zM483.0 69.8h1.2v1.2h-1.2zM483.0 84.7h1.2v1.2h-1.2zM482.3 73.8h1.2v1.2h-1.2zM477.6 62.1h1.2v1.2h-1.2zM473.8 58.6h1.2v1.2h-1.2zM475.7 56.9h1.2v1.2h-1.2zM479.3 76.0h1.2v1.2h-1.2zM480.3 77.9h1.2v1.2h-1.2zM479.7 84.0h1.2v1.2h-1.2zM486.6 59.8h1.2v1.2h-1.2zM483.0 64.9h1.2v1.2h-1.2zM488.4 68.7h1.2v1.2h-1.2zM469.3 70.2h1.2v1.2h-1.2zM479.8 79.9h1.2v1.2h-1.2zM476.7 58.4h1.2v1.2h-1.2zM475.3 77.7h1.2v1.2h-1.2zM484.0 69.8h1.2v1.2h-1.2zM473.9 77.6h1.2v1.2h-1.2zM469.5 73.5h1.2v1.2h-1.2zM475.8 70.3h1.2v1.2h-1.2zM484.7 81.9h1.2v1.2h-1.2zM486.6 71.0h1.2v1.2h-1.2zM477.2 77.9h1.2v1.2h-1.2zM480.5 88.8h1.2v1.2h-1.2zM482.5 76.5h1.2v1.2h-1.2zM486.2 72.8h1.2v1.2h-1.2zM481.4 79.3h1.2v1.2h-1.2zM476.3 73.2h1.2v1.2h-1.2zM483.1 66.4h1.2v1.2h-1.2zM472.8 70.4h1.2v1.2h-1.2zM479.6 71.0h1.2v1.2h-1.2zM474.9 72.7h1.2v1.2h-1.2zM483.7 59.1h1.2v1.2h-1.2zM486.0 81.0h1.2v1.2h-1.2zM473.3 64.4h1.2v1.2h-1.2zM469.0 72.4h1.2v1.2h-1.2zM486.5 70.2h1.2v1.2h-1.2zM484.1 77.2h1.2v1.2h-1.2zM481.8 88.7h1.2v1.2h-1.2zM487.3 71.4h1.2v1.2h-1.2zM475.0 60.1h1.2v1.2h-1.2zM485.7 82.9h1.2v1.2h-1.2zM478.7 58.5h1.2v1.2h-1.2zM475.5 80.9h1.2v1.2h-1.2zM489.1 69.8h1.2v1.2h-1.2zM492.3 69.4h1.2v1.2h-1.2zM468.5 62.8h1.2v1.2h-1.2zM492.4 80.8h1.2v1.2h-1.2zM470.3 65.7h1.2v1.2h-1.2zM478.8 72.7h1.2v1.2h-1.2zM482.5 64.9h1.2v1.2h-1.2zM493.6 81.3h1.2v1.2h-1.2zM486.2 57.5h1.2v1.2h-1.2zM476.5 76.3h1.2v1.2h-1.2zM479.3 63.2h1.2v1.2h-1.2zM486.2 66.2h1.2v1.2h-1.2zM480.8 86.8h1.2v1.2h-1.2zM471.9 78.0h1.2v1.2h-1.2zM478.4 73.7h1.2v1.2h-1.2zM476.7 68.0h1.2v1.2h-1.2zM481.4 79.2h1.2v1.2h-1.2zM492.9 70.9h1.2v1.2h-1.2zM475.7 68.3h1.2v1.2h-1.2zM486.9 61.3h1.2v1.2h-1.2zM474.9 62.4h1.2v1.2h-1.2zM481.8 82.3h1.2v1.2h-1.2zM486.8 71.3h1.2v1.2h-1.2zM482.2 60.0h1.2v1.2h-1.2zM474.6 67.8h1.2v1.2h-1.2zM477.7 79.1h1.2v1.2h-1.2zM474.5 64.0h1.2v1.2h-1.2zM492.0 83.6h1.2v1.2h-1.2zM473.3 73.0h1.2v1.2h-1.2zM490.8 84.4h1.2v1.2h-1.2zM474.2 72.8h1.2v1.2h-1.2zM484.1 55.8h1.2v1.2h-1.2zM474.6 82.1h1.2v1.2h-1.2zM486.2 71.5h1.2v1.2h-1.2zM483.6 74.4h1.2v1.2h-1.2zM477.4 58.5h1.2v1.2h-1.2zM488.3 83.2h1.2v1.2h-1.2zM479.9 83.1h1.2v1.2h-1.2zM490.7 80.3h1.2v1.2h-1.2zM480.3 83.4h1.2v1.2h-1.2zM488.2 58.9h1.2v1.2h-1.2zM484.0 58.6h1.2v1.2h-1.2zM488.0 67.6h1.2v1.2h-1.2zM478.3 65.2h1.2v1.2h-1.2zM490.2 78.5h1.2v1.2h-1.2zM476.1 82.1h1.2v1.2h-1.2zM473.0 84.3h1.2v1.2h-1.2zM484.5 83.0h1.2v1.2h-1.2zM487.0 72.1h1.2v1.2h-1.2zM484.1 75.8h1.2v1.2h-1.2zM475.7 66.4h1.2v1.2h-1.2zM489.9 84.8h1.2v1.2h-1.2zM481.8 69.6h1.2v1.2h-1.2zM487.3 78.8h1.2v1.2h-1.2zM478.5 65.4h1.2v1.2h-1.2zM479.7 69.6h1.2v1.2h-1.2zM469.4 73.2h1.2v1.2h-1.2zM492.6 65.4h1.2v1.2h-1.2zM488.3 82.7h1.2v1.2h-1.2zM486.1 76.9h1.2v1.2h-1.2zM474.8 79.7h1.2v1.2h-1.2zM484.0 90.2h1.2v1.2h-1.2zM482.1 68.2h1.2v1.2h-1.2zM492.8 77.9h1.2v1.2h-1.2zM477.3 78.8h1.2v1.2h-1.2zM472.1 62.2h1.2v1.2h-1.2zM492.2 72.1h1.2v1.2h-1.2zM490.0 63.1h1.2v1.2h-1.2zM480.8 63.9h1.2v1.2h-1.2zM490.0 76.9h1.2v1.2h-1.2zM478.7 69.2h1.2v1.2h-1.2zM473.7 63.0h1.2v1.2h-1.2zM486.9 66.6h1.2v1.2h-1.2zM470.8 69.3h1.2v1.2h-1.2zM478.5 69.9h1.2v1.2h-1.2zM480.5 69.7h1.2v1.2h-1.2zM474.1 60.9h1.2v1.2h-1.2zM480.9 78.5h1.2v1.2h-1.2zM470.8 72.6h1.2v1.2h-1.2zM472.7 77.1h1.2v1.2h-1.2zM477.4 79.4h1.2v1.2h-1.2zM489.4 70.0h1.2v1.2h-1.2zM478.4 58.2h1.2v1.2h-1.2zM473.7 77.8h1.2v1.2h-1.2zM490.1 60.4h1.2v1.2h-1.2zM478.0 74.8h1.2v1.2h-1.2zM486.4 67.3h1.2v1.2h-1.2zM478.0 81.4h1.2v1.2h-1.2zM481.2 71.1h1.2v1.2h-1.2zM483.4 59.6h1.2v1.2h-1.2zM480.8 66.0h1.2v1.2h-1.2zM472.5 74.3h1.2v1.2h-1.2zM487.2 74.3h1.2v1.2h-1.2zM481.6 79.5h1.2v1.2h-1.2zM483.5 80.4h1.2v1.2h-1.2zM478.4 69.8h1.2v1.2h-1.2zM477.3 64.1h1.2v1.2h-1.2zM489.7 86.5h1.2v1.2h-1.2zM475.6 75.7h1.2v1.2h-1.2zM480.5 60.1h1.2v1.2h-1.2zM488.1 74.5h1.2v1.2h-1.2zM492.7 64.8h1.2v1.2h-1.2zM470.9 80.1h1.2v1.2h-1.2zM472.7 80.8h1.2v1.2h-1.2zM491.8 74.0h1.2v1.2h-1.2zM480.3 90.4h1.2v1.2h-1.2zM489.5 63.5h1.2v1.2h-1.2zM487.3 69.3h1.2v1.2h-1.2zM480.7 66.7h1.2v1.2h-1.2zM474.1 66.3h1.2v1.2h-1.2zM475.4 62.2h1.2v1.2h-1.2zM491.9 69.0h1.2v1.2h-1.2zM483.3 84.6h1.2v1.2h-1.2zM486.6 61.0h1.2v1.2h-1.2zM491.0 67.3h1.2v1.2h-1.2zM490.7 78.5h1.2v1.2h-1.2zM468.8 69.0h1.2v1.2h-1.2zM487.1 75.0h1.2v1.2h-1.2zM477.3 88.1h1.2v1.2h-1.2zM470.3 73.4h1.2v1.2h-1.2zM480.0 58.0h1.2v1.2h-1.2zM485.4 83.8h1.2v1.2h-1.2zM474.0 64.2h1.2v1.2h-1.2zM489.1 74.4h1.2v1.2h-1.2zM468.4 66.4h1.2v1.2h-1.2zM493.9 65.3h1.2v1.2h-1.2zM475.9 71.6h1.2v1.2h-1.2zM492.3 84.5h1.2v1.2h-1.2zM478.5 79.4h1.2v1.2h-1.2zM478.1 78.2h1.2v1.2h-1.2zM491.4 62.1h1.2v1.2h-1.2zM470.1 65.7h1.2v1.2h-1.2zM483.8 79.0h1.2v1.2h-1.2zM475.8 74.0h1.2v1.2h-1.2zM477.0 76.3h1.2v1.2h-1.2zM470.9 77.9h1.2v1.2h-1.2zM473.7 75.4h1.2v1.2h-1.2zM473.1 71.4h1.2v1.2h-1.2zM475.2 78.5h1.2v1.2h-1.2zM489.3 85.8h1.2v1.2h-1.2zM494.7 71.8h1.2v1.2h-1.2zM483.0 68.1h1.2v1.2h-1.2zM475.8 73.7h1.2v1.2h-1.2zM488.5 67.0h1.2v1.2h-1.2zM484.3 65.0h1.2v1.2h-1.2zM487.7 73.3h1.2v1.2h-1.2zM476.4 71.5h1.2v1.2h-1.2zM478.8 79.5h1.2v1.2h-1.2zM479.8 76.5h1.2v1.2h-1.2zM484.5 58.6h1.2v1.2h-1.2zM481.8 82.4h1.2v1.2h-1.2zM489.6 81.8h1.2v1.2h-1.2zM486.6 60.0h1.2v1.2h-1.2zM479.2 73.7h1.2v1.2h-1.2zM470.7 75.7h1.2v1.2h-1.2zM475.2 61.3h1.2v1.2h-1.2zM494.1 77.7h1.2v1.2h-1.2zM488.0 77.2h1.2v1.2h-1.2zM483.4 86.8h1.2v1.2h-1.2zM469.6 69.0h1.2v1.2h-1.2zM473.9 76.9h1.2v1.2h-1.2zM478.7 88.5h1.2v1.2h-1.2zM474.3 65.1h1.2v1.2h-1.2zM464.9 75.5h1.2v1.2h-1.2zM462.6 68.6h1.2v1.2h-1.2zM462.5 69.5h1.2v1.2h-1.2zM457.1 76.4h1.2v1.2h-1.2zM460.7 69.7h1.2v1.2h-1.2zM462.4 69.7h1.2v1.2h-1.2zM458.1 69.9h1.2v1.2h-1.2zM460.0 78.2h1.2v1.2h-1.2zM454.7 69.8h1.2v1.2h-1.2zM459.5 78.7h1.2v1.2h-1.2zM461.5 68.4h1.2v1.2h-1.2zM456.1 68.4h1.2v1.2h-1.2zM459.7 78.8h1.2v1.2h-1.2zM465.5 71.2h1.2v1.2h-1.2zM464.6 75.1h1.2v1.2h-1.2zM455.8 72.7h1.2v1.2h-1.2zM462.9 73.5h1.2v1.2h-1.2zM465.7 73.2h1.2v1.2h-1.2zM462.6 74.0h1.2v1.2h-1.2zM464.4 70.8h1.2v1.2h-1.2zM459.2 76.6h1.2v1.2h-1.2zM456.7 71.2h1.2v1.2h-1.2zM464.0 74.6h1.2v1.2h-1.2zM459.6 66.9h1.2v1.2h-1.2zM463.0 71.8h1.2v1.2h-1.2zM456.4 71.4h1.2v1.2h-1.2zM461.9 68.7h1.2v1.2h-1.2zM458.7 78.8h1.2v1.2h-1.2zM455.3 68.8h1.2v1.2h-1.2zM456.9 74.2h1.2v1.2h-1.2zM458.8 68.8h1.2v1.2h-1.2zM454.8 73.1h1.2v1.2h-1.2zM454.8 71.0h1.2v1.2h-1.2zM459.8 67.8h1.2v1.2h-1.2zM459.7 76.9h1.2v1.2h-1.2zM460.8 68.3h1.2v1.2h-1.2zM461.3 67.8h1.2v1.2h-1.2zM460.1 68.9h1.2v1.2h-1.2zM457.0 68.2h1.2v1.2h-1.2zM461.9 76.5h1.2v1.2h-1.2zM457.6 76.7h1.2v1.2h-1.2zM462.0 67.7h1.2v1.2h-1.2zM462.2 68.5h1.2v1.2h-1.2zM459.5 69.0h1.2v1.2h-1.2zM462.6 70.7h1.2v1.2h-1.2zM454.2 72.2h1.2v1.2h-1.2zM464.8 73.4h1.2v1.2h-1.2zM461.2 76.0h1.2v1.2h-1.2zM461.4 78.2h1.2v1.2h-1.2zM463.5 68.5h1.2v1.2h-1.2zM456.8 75.4h1.2v1.2h-1.2zM460.7 77.2h1.2v1.2h-1.2zM463.1 70.8h1.2v1.2h-1.2zM455.6 74.7h1.2v1.2h-1.2zM454.9 72.7h1.2v1.2h-1.2zM456.9 71.6h1.2v1.2h-1.2zM461.2 67.5h1.2v1.2h-1.2zM464.6 75.3h1.2v1.2h-1.2zM464.7 74.2h1.2v1.2h-1.2zM461.5 77.5h1.2v1.2h-1.2zM462.8 74.4h1.2v1.2h-1.2zM462.4 77.0h1.2v1.2h-1.2zM458.3 69.3h1.2v1.2h-1.2zM459.0 76.9h1.2v1.2h-1.2zM462.9 68.3h1.2v1.2h-1.2zM456.0 69.3h1.2v1.2h-1.2zM462.7 69.8h1.2v1.2h-1.2zM464.5 71.7h1.2v1.2h-1.2zM455.9 71.8h1.2v1.2h-1.2zM453.8 71.8h1.2v1.2h-1.2zM458.2 67.2h1.2v1.2h-1.2zM464.2 71.8h1.2v1.2h-1.2zM464.1 75.5h1.2v1.2h-1.2zM462.4 74.0h1.2v1.2h-1.2zM464.6 75.9h1.2v1.2h-1.2zM459.0 77.0h1.2v1.2h-1.2zM457.0 71.5h1.2v1.2h-1.2zM460.7 78.5h1.2v1.2h-1.2zM456.5 77.0h1.2v1.2h-1.2zM461.7 77.9h1.2v1.2h-1.2zM457.2 74.8h1.2v1.2h-1.2zM462.2 76.9h1.2v1.2h-1.2zM455.9 73.0h1.2v1.2h-1.2zM456.5 76.9h1.2v1.2h-1.2zM455.8 76.0h1.2v1.2h-1.2zM455.9 70.9h1.2v1.2h-1.2zM460.7 70.1h1.2v1.2h-1.2zM461.9 69.9h1.2v1.2h-1.2zM465.4 70.7h1.2v1.2h-1.2zM461.8 67.1h1.2v1.2h-1.2zM465.1 74.4h1.2v1.2h-1.2zM464.8 75.7h1.2v1.2h-1.2zM458.2 69.2h1.2v1.2h-1.2zM464.5 74.8h1.2v1.2h-1.2zM457.8 67.6h1.2v1.2h-1.2zM461.5 67.5h1.2v1.2h-1.2zM455.6 75.8h1.2v1.2h-1.2zM457.0 76.4h1.2v1.2h-1.2zM462.6 74.5h1.2v1.2h-1.2zM461.0 68.4h1.2v1.2h-1.2zM460.1 69.0h1.2v1.2h-1.2zM454.6 69.8h1.2v1.2h-1.2zM463.2 70.5h1.2v1.2h-1.2zM463.5 76.0h1.2v1.2h-1.2zM461.4 67.1h1.2v1.2h-1.2zM455.8 77.5h1.2v1.2h-1.2zM460.7 68.4h1.2v1.2h-1.2zM463.2 72.2h1.2v1.2h-1.2zM463.2 77.8h1.2v1.2h-1.2zM458.0 76.4h1.2v1.2h-1.2zM457.6 78.1h1.2v1.2h-1.2zM456.7 75.5h1.2v1.2h-1.2zM457.0 71.9h1.2v1.2h-1.2zM462.5 76.8h1.2v1.2h-1.2zM455.2 68.8h1.2v1.2h-1.2zM456.1 76.0h1.2v1.2h-1.2zM461.9 75.4h1.2v1.2h-1.2zM463.5 69.6h1.2v1.2h-1.2zM459.7 66.8h1.2v1.2h-1.2zM456.7 76.4h1.2v1.2h-1.2zM456.1 72.1h1.2v1.2h-1.2zM462.0 69.4h1.2v1.2h-1.2zM461.6 76.7h1.2v1.2h-1.2zM461.9 77.2h1.2v1.2h-1.2zM461.8 76.2h1.2v1.2h-1.2zM463.9 74.0h1.2v1.2h-1.2zM460.1 68.7h1.2v1.2h-1.2zM456.4 67.8h1.2v1.2h-1.2zM454.9 71.5h1.2v1.2h-1.2zM463.8 70.0h1.2v1.2h-1.2zM455.9 73.9h1.2v1.2h-1.2zM456.2 69.2h1.2v1.2h-1.2zM463.5 77.2h1.2v1.2h-1.2zM457.6 68.6h1.2v1.2h-1.2zM454.9 75.4h1.2v1.2h-1.2zM456.3 73.1h1.2v1.2h-1.2zM456.8 72.7h1.2v1.2h-1.2zM459.7 69.9h1.2v1.2h-1.2zM455.0 71.8h1.2v1.2h-1.2zM463.6 68.4h1.2v1.2h-1.2zM460.2 76.6h1.2v1.2h-1.2zM463.9 74.2h1.2v1.2h-1.2zM464.5 71.0h1.2v1.2h-1.2zM455.1 68.9h1.2v1.2h-1.2zM456.5 67.9h1.2v1.2h-1.2zM465.6 73.5h1.2v1.2h-1.2zM463.4 72.2h1.2v1.2h-1.2zM460.0 69.5h1.2v1.2h-1.2zM464.5 71.8h1.2v1.2h-1.2zM458.5 75.7h1.2v1.2h-1.2zM463.7 71.9h1.2v1.2h-1.2zM456.0 72.5h1.2v1.2h-1.2zM457.3 69.9h1.2v1.2h-1.2zM463.1 71.0h1.2v1.2h-1.2zM461.3 70.4h1.2v1.2h-1.2zM454.9 76.2h1.2v1.2h-1.2zM463.1 75.3h1.2v1.2h-1.2zM460.4 81.7h1.2v1.2h-1.2zM465.5 79.3h1.2v1.2h-1.2zM451.7 75.9h1.2v1.2h-1.2zM458.6 80.4h1.2v1.2h-1.2zM463.9 82.1h1.2v1.2h-1.2zM455.9 74.6h1.2v1.2h-1.2zM457.3 74.4h1.2v1.2h-1.2zM456.3 74.8h1.2v1.2h-1.2zM461.0 76.2h1.2v1.2h-1.2zM461.7 80.6h1.2v1.2h-1.2zM455.5 74.7h1.2v1.2h-1.2zM460.7 77.4h1.2v1.2h-1.2zM459.4 77.1h1.2v1.2h-1.2zM454.4 74.6h1.2v1.2h-1.2zM464.5 79.7h1.2v1.2h-1.2zM463.8 79.8h1.2v1.2h-1.2zM460.6 75.4h1.2v1.2h-1.2zM459.6 76.0h1.2v1.2h-1.2zM458.7 81.4h1.2v1.2h-1.2zM456.3 75.7h1.2v1.2h-1.2zM456.9 77.4h1.2v1.2h-1.2zM463.0 77.5h1.2v1.2h-1.2zM466.8 77.8h1.2v1.2h-1.2zM465.7 77.3h1.2v1.2h-1.2zM462.9 80.6h1.2v1.2h-1.2zM460.8 80.5h1.2v1.2h-1.2zM466.4 82.3h1.2v1.2h-1.2zM459.2 77.5h1.2v1.2h-1.2zM454.4 75.1h1.2v1.2h-1.2zM456.8 77.6h1.2v1.2h-1.2zM458.3 78.0h1.2v1.2h-1.2zM460.1 82.5h1.2v1.2h-1.2zM463.2 82.9h1.2v1.2h-1.2zM466.9 78.3h1.2v1.2h-1.2zM461.8 81.8h1.2v1.2h-1.2zM457.4 74.7h1.2v1.2h-1.2zM465.1 78.8h1.2v1.2h-1.2zM461.4 79.1h1.2v1.2h-1.2zM473.0 109.1h1.2v1.2h-1.2zM473.7 109.8h1.2v1.2h-1.2zM443.9 74.0h1.2v1.2h-1.2zM445.4 78.4h1.2v1.2h-1.2zM447.4 67.4h1.2v1.2h-1.2zM466.4 112.4h1.2v1.2h-1.2zM469.4 95.4h1.2v1.2h-1.2z"/>
<path fill="#d42a2a" d="M369.3 86.8h1.4v1.4h-1.4zM370.8 89.3h1.4v1.4h-1.4zM375.3 87.8h1.4v1.4h-1.4zM378.3 90.3h1.4v1.4h-1.4zM383.3 95.8h1.4v1.4h-1.4zM390.8 96.8h1.4v1.4h-1.4zM391.3 98.1h1.4v1.4h-1.4zM390.3 87.3h1.4v1.4h-1.4zM371.3 100.5h1.4v1.4h-1.4zM400.8 110.0h1.4v1.4h-1.4zM384.8 94.8h1.4v1.4h-1.4zM374.3 88.8h1.4v1.4h-1.4zM487.3 87.8h1.4v1.4h-1.4zM476.6 70.3h1.4v1.4h-1.4zM477.3 84.4h1.4v1.4h-1.4zM479.9 57.9h1.4v1.4h-1.4zM480.8 60.6h1.4v1.4h-1.4zM478.3 71.5h1.4v1.4h-1.4zM492.6 74.9h1.4v1.4h-1.4zM494.8 74.8h1.4v1.4h-1.4zM478.5 57.1h1.4v1.4h-1.4zM486.0 66.0h1.4v1.4h-1.4zM472.3 78.3h1.4v1.4h-1.4zM493.4 64.2h1.4v1.4h-1.4zM495.2 74.5h1.4v1.4h-1.4zM473.5 61.9h1.4v1.4h-1.4zM487.4 88.7h1.4v1.4h-1.4zM473.4 63.9h1.4v1.4h-1.4zM471.7 62.8h1.4v1.4h-1.4zM474.0 70.3h1.4v1.4h-1.4zM474.3 79.2h1.4v1.4h-1.4zM474.4 64.9h1.4v1.4h-1.4zM479.3 61.4h1.4v1.4h-1.4zM469.2 72.6h1.4v1.4h-1.4zM492.3 77.4h1.4v1.4h-1.4zM476.2 69.8h1.4v1.4h-1.4zM479.6 66.9h1.4v1.4h-1.4zM469.3 60.9h1.4v1.4h-1.4zM471.7 62.8h1.4v1.4h-1.4zM476.9 59.0h1.4v1.4h-1.4zM484.7 62.5h1.4v1.4h-1.4zM481.8 80.3h1.4v1.4h-1.4zM481.5 82.0h1.4v1.4h-1.4zM489.3 71.4h1.4v1.4h-1.4zM486.9 68.5h1.4v1.4h-1.4zM475.8 58.3h1.4v1.4h-1.4zM480.8 85.8h1.4v1.4h-1.4zM491.0 64.2h1.4v1.4h-1.4zM474.3 76.8h1.4v1.4h-1.4zM493.6 72.1h1.4v1.4h-1.4zM479.5 89.8h1.4v1.4h-1.4zM487.2 63.4h1.4v1.4h-1.4zM493.2 74.8h1.4v1.4h-1.4zM475.3 61.7h1.4v1.4h-1.4zM493.6 68.0h1.4v1.4h-1.4zM481.1 85.0h1.4v1.4h-1.4zM477.8 63.7h1.4v1.4h-1.4zM481.9 88.9h1.4v1.4h-1.4zM484.7 86.7h1.4v1.4h-1.4zM473.2 73.6h1.4v1.4h-1.4zM493.0 75.8h1.4v1.4h-1.4zM489.6 84.4h1.4v1.4h-1.4zM480.0 80.1h1.4v1.4h-1.4zM486.8 71.1h1.4v1.4h-1.4zM482.1 84.5h1.4v1.4h-1.4zM477.9 79.6h1.4v1.4h-1.4zM482.9 86.0h1.4v1.4h-1.4zM474.4 72.1h1.4v1.4h-1.4zM474.8 84.2h1.4v1.4h-1.4zM470.8 60.4h1.4v1.4h-1.4zM484.1 83.2h1.4v1.4h-1.4zM477.3 58.2h1.4v1.4h-1.4zM483.9 77.4h1.4v1.4h-1.4zM479.6 65.0h1.4v1.4h-1.4zM477.3 63.7h1.4v1.4h-1.4zM490.2 69.0h1.4v1.4h-1.4zM487.4 75.1h1.4v1.4h-1.4zM474.1 65.4h1.4v1.4h-1.4zM486.2 86.4h1.4v1.4h-1.4zM474.9 58.9h1.4v1.4h-1.4zM473.0 69.2h1.4v1.4h-1.4zM487.5 88.3h1.4v1.4h-1.4zM484.0 60.5h1.4v1.4h-1.4zM478.2 60.5h1.4v1.4h-1.4zM475.5 76.0h1.4v1.4h-1.4zM481.6 61.5h1.4v1.4h-1.4zM485.1 77.0h1.4v1.4h-1.4zM476.7 66.1h1.4v1.4h-1.4zM485.8 89.7h1.4v1.4h-1.4zM461.3 67.2h1.4v1.4h-1.4zM455.7 71.8h1.4v1.4h-1.4zM457.0 74.9h1.4v1.4h-1.4zM464.7 72.3h1.4v1.4h-1.4zM464.2 75.0h1.4v1.4h-1.4zM461.7 69.2h1.4v1.4h-1.4zM454.9 70.8h1.4v1.4h-1.4zM465.1 70.2h1.4v1.4h-1.4zM457.2 77.9h1.4v1.4h-1.4zM457.8 76.6h1.4v1.4h-1.4zM454.2 70.7h1.4v1.4h-1.4zM456.4 77.0h1.4v1.4h-1.4zM459.6 43.3h1.4v1.4h-1.4zM458.3 50.8h1.4v1.4h-1.4zM470.3 50.8h1.4v1.4h-1.4zM446.3 59.8h1.4v1.4h-1.4zM464.8 84.3h1.4v1.4h-1.4zM463.3 78.3h1.4v1.4h-1.4zM469.3 79.8h1.4v1.4h-1.4zM466.3 76.8h1.4v1.4h-1.4zM484.8 93.8h1.4v1.4h-1.4zM461.3 87.3h1.4v1.4h-1.4zM471.3 76.3h1.4v1.4h-1.4zM472.8 75.3h1.4v1.4h-1.4zM477.3 75.8h1.4v1.4h-1.4zM476.3 71.3h1.4v1.4h-1.4zM482.3 64.3h1.4v1.4h-1.4zM483.3 65.8h1.4v1.4h-1.4zM480.3 82.3h1.4v1.4h-1.4zM481.8 83.3h1.4v1.4h-1.4zM484.3 85.3h1.4v1.4h-1.4zM477.8 87.3h1.4v1.4h-1.4zM486.3 70.3h1.4v1.4h-1.4zM475.3 61.3h1.4v1.4h-1.4zM489.3 59.3h1.4v1.4h-1.4zM460.3 79.3h1.4v1.4h-1.4zM462.3 69.3h1.4v1.4h-1.4zM454.3 74.3h1.4v1.4h-1.4zM465.3 77.8h1.4v1.4h-1.4zM470.9 75.9h2.2v2.2h-2.2zM472.4 74.9h2.2v2.2h-2.2zM476.9 75.4h2.2v2.2h-2.2zM475.9 70.9h2.2v2.2h-2.2zM481.9 63.9h2.2v2.2h-2.2zM482.9 65.4h2.2v2.2h-2.2zM479.9 81.9h2.2v2.2h-2.2zM481.4 82.9h2.2v2.2h-2.2zM483.9 84.9h2.2v2.2h-2.2zM477.4 86.9h2.2v2.2h-2.2zM485.9 69.9h2.2v2.2h-2.2zM474.9 60.9h2.2v2.2h-2.2zM488.9 58.9h2.2v2.2h-2.2zM459.9 78.9h2.2v2.2h-2.2zM461.9 68.9h2.2v2.2h-2.2zM453.9 73.9h2.2v2.2h-2.2zM464.9 77.4h2.2v2.2h-2.2z"/>
<path d="M367.6,86.5 C368,82 378,82 388,82.2 C394,82.4 397.6,86 397.9,92 C398.2,98 397,102 392,101.6 C384,101 376,97 371,93 C368.5,91 367.4,89 367.6,86.5 Z" fill="none" stroke="#7098d0" stroke-width="0.75"/>
<path d="M451.9,76 C451.5,68 453,62 456.5,59.5 C460,56.5 466,55 472,54.3 L486.5,53.8 C490,54 492,56 493.5,60 C495,65 496,72 495.7,79 C495.5,85 494,88 491,90.5 C489,92.5 486,93 482,92.3 C477,90 472,88 466,85.5 C461,83.5 456,81.5 453,79 C452,78 451.9,77 451.9,76 Z" fill="none" stroke="#7098d0" stroke-width="0.8"/>
<g fill="none" stroke="#222" stroke-width="1.15">
<rect x="319.5" y="25.5" width="181.1" height="108.8"/>
<line x1="319.5" y1="37.5" x2="500.6" y2="37.5"/>
<line x1="409.1" y1="25" x2="409.1" y2="134.3"/>
<rect x="500.6" y="37.6" width="12.2" height="96.7"/>
</g>
<text transform="translate(505.3,85.2) rotate(90)" font-size="7" text-anchor="middle" fill="#222" stroke="#222" stroke-width="0.1" textLength="77" lengthAdjust="spacingAndGlyphs">PDCD1 Relative Expression</text>
<defs><linearGradient id="gB" x1="0" x2="1" y1="0" y2="0"><stop offset="0" stop-color="#dcd6d8"/><stop offset="1" stop-color="#d7191c"/></linearGradient></defs>
<rect x="475" y="126.1" width="22.8" height="6.4" fill="url(#gB)"/>
<text x="475.60" y="124.80" font-size="4.6" text-anchor="middle" font-weight="normal" fill="#333" stroke="#333" stroke-width="0.12" >0</text>
<text x="494.20" y="124.80" font-size="4.6" text-anchor="middle" font-weight="normal" fill="#333" stroke="#333" stroke-width="0.12" >50</text>
<text x="7.00" y="184.80" font-size="11.5" text-anchor="start" font-weight="bold" fill="#000" >C</text>
<g stroke="#c2c2c2" stroke-width="0.62"><line x1="83.3" y1="176.7" x2="83.1" y2="215.2"/><line x1="117.1" y1="183.1" x2="83.1" y2="215.2"/><line x1="51.1" y1="179.4" x2="83.1" y2="215.2"/><line x1="28.4" y1="192.9" x2="83.1" y2="215.2"/><line x1="31.6" y1="242.8" x2="83.1" y2="215.2"/><line x1="31.6" y1="242.8" x2="49.1" y2="277.2"/><line x1="31.6" y1="242.8" x2="79.5" y2="278.8"/><line x1="58.5" y1="250.2" x2="83.1" y2="215.2"/><line x1="58.5" y1="250.2" x2="49.1" y2="277.2"/><line x1="58.5" y1="250.2" x2="79.5" y2="278.8"/><line x1="58.5" y1="250.2" x2="119.3" y2="280.8"/><line x1="58.5" y1="250.2" x2="160.0" y2="267.0"/><line x1="94.8" y1="247.8" x2="83.1" y2="215.2"/><line x1="94.8" y1="247.8" x2="140.8" y2="216.5"/><line x1="94.8" y1="247.8" x2="49.1" y2="277.2"/><line x1="94.8" y1="247.8" x2="79.5" y2="278.8"/><line x1="94.8" y1="247.8" x2="119.3" y2="280.8"/><line x1="107.3" y1="251.9" x2="83.1" y2="215.2"/><line x1="107.3" y1="251.9" x2="140.8" y2="216.5"/><line x1="107.3" y1="251.9" x2="49.1" y2="277.2"/><line x1="107.3" y1="251.9" x2="79.5" y2="278.8"/><line x1="107.3" y1="251.9" x2="119.3" y2="280.8"/><line x1="128.1" y1="243.9" x2="83.1" y2="215.2"/><line x1="128.1" y1="243.9" x2="140.8" y2="216.5"/><line x1="128.1" y1="243.9" x2="79.5" y2="278.8"/><line x1="128.1" y1="243.9" x2="119.3" y2="280.8"/><line x1="128.1" y1="243.9" x2="160.0" y2="267.0"/><line x1="151.2" y1="238.5" x2="83.1" y2="215.2"/><line x1="151.2" y1="238.5" x2="140.8" y2="216.5"/><line x1="151.2" y1="238.5" x2="160.0" y2="267.0"/><line x1="8.5" y1="307.1" x2="49.1" y2="277.2"/><line x1="68.8" y1="313.9" x2="79.5" y2="278.8"/><line x1="68.8" y1="313.9" x2="160.0" y2="267.0"/><line x1="101.8" y1="320.8" x2="79.5" y2="278.8"/><line x1="101.8" y1="320.8" x2="119.3" y2="280.8"/><line x1="118.2" y1="301.8" x2="119.3" y2="280.8"/><line x1="118.2" y1="301.8" x2="160.0" y2="267.0"/><line x1="118.2" y1="301.8" x2="49.1" y2="277.2"/><line x1="155.6" y1="316.0" x2="119.3" y2="280.8"/><line x1="155.6" y1="316.0" x2="79.5" y2="278.8"/><line x1="199.7" y1="290.5" x2="160.0" y2="267.0"/><line x1="140.8" y1="216.5" x2="58.5" y2="250.2"/></g>
<circle cx="83.3" cy="176.7" r="1.85" fill="#6a0d27"/>
<circle cx="117.1" cy="183.1" r="1.85" fill="#6a0d27"/>
<circle cx="51.1" cy="179.4" r="1.85" fill="#d9805a"/>
<circle cx="28.4" cy="192.9" r="1.85" fill="#b23228"/>
<circle cx="31.6" cy="242.8" r="1.85" fill="#6a0d27"/>
<circle cx="58.5" cy="250.2" r="1.85" fill="#6a0d27"/>
<circle cx="94.8" cy="247.8" r="1.85" fill="#6a0d27"/>
<circle cx="107.3" cy="251.9" r="1.85" fill="#6a0d27"/>
<circle cx="128.1" cy="243.9" r="1.85" fill="#6a0d27"/>
<circle cx="151.2" cy="238.5" r="1.85" fill="#6a0d27"/>
<circle cx="8.5" cy="307.1" r="1.85" fill="#6a0d27"/>
<circle cx="68.8" cy="313.9" r="1.85" fill="#c8503c"/>
<circle cx="101.8" cy="320.8" r="1.85" fill="#d9805a"/>
<circle cx="118.2" cy="301.8" r="1.85" fill="#6a0d27"/>
<circle cx="155.6" cy="316.0" r="1.85" fill="#6a0d27"/>
<circle cx="199.7" cy="290.5" r="1.85" fill="#6a0d27"/>
<circle cx="83.1" cy="215.2" r="4.0" fill="#fff" stroke="#1a1a1a" stroke-width="1.2"/>
<text x="83.1" y="217.07" font-size="5.2" text-anchor="middle" fill="#555" stroke="#555" stroke-width="0.1">1</text>
<circle cx="140.8" cy="216.5" r="3.2" fill="#fff" stroke="#1a1a1a" stroke-width="1.2"/>
<text x="140.8" y="218.00" font-size="4.16" text-anchor="middle" fill="#555" stroke="#555" stroke-width="0.1">6</text>
<circle cx="49.1" cy="277.2" r="3.7" fill="#fff" stroke="#1a1a1a" stroke-width="1.2"/>
<text x="49.1" y="278.93" font-size="4.8100000000000005" text-anchor="middle" fill="#555" stroke="#555" stroke-width="0.1">5</text>
<circle cx="79.5" cy="278.8" r="4.2" fill="#fff" stroke="#1a1a1a" stroke-width="1.2"/>
<text x="79.5" y="280.77" font-size="5.460000000000001" text-anchor="middle" fill="#555" stroke="#555" stroke-width="0.1">2</text>
<circle cx="119.3" cy="280.8" r="3.9" fill="#fff" stroke="#1a1a1a" stroke-width="1.2"/>
<text x="119.3" y="282.63" font-size="5.07" text-anchor="middle" fill="#555" stroke="#555" stroke-width="0.1">3</text>
<circle cx="160.0" cy="267.0" r="3.5" fill="#fff" stroke="#1a1a1a" stroke-width="1.2"/>
<text x="160.0" y="268.64" font-size="4.55" text-anchor="middle" fill="#555" stroke="#555" stroke-width="0.1">4</text>
<text x="84.00" y="226.70" font-size="7.6" text-anchor="middle" font-weight="normal" fill="#1c1c1c" stroke="#1c1c1c" stroke-width="0.12" >Apoptosis</text>
<text x="142.00" y="200.80" font-size="7.6" text-anchor="middle" font-weight="normal" fill="#1c1c1c" stroke="#1c1c1c" stroke-width="0.12" >T cell receptor</text>
<text x="141.50" y="208.00" font-size="7.6" text-anchor="middle" font-weight="normal" fill="#1c1c1c" stroke="#1c1c1c" stroke-width="0.12" >signaling pathway</text>
<text x="45.20" y="290.20" font-size="7.6" text-anchor="middle" font-weight="normal" fill="#1c1c1c" stroke="#1c1c1c" stroke-width="0.12" >NF-κB</text>
<text x="45.00" y="297.40" font-size="7.6" text-anchor="middle" font-weight="normal" fill="#1c1c1c" stroke="#1c1c1c" stroke-width="0.12" >signaling</text>
<text x="80.60" y="291.80" font-size="7.6" text-anchor="middle" font-weight="normal" fill="#1c1c1c" stroke="#1c1c1c" stroke-width="0.12" >EBV</text>
<text x="80.80" y="299.00" font-size="7.6" text-anchor="middle" font-weight="normal" fill="#1c1c1c" stroke="#1c1c1c" stroke-width="0.12" >infection</text>
<text x="118.80" y="291.60" font-size="7.6" text-anchor="middle" font-weight="normal" fill="#1c1c1c" stroke="#1c1c1c" stroke-width="0.12" >HIV1</text>
<text x="118.80" y="298.80" font-size="7.6" text-anchor="middle" font-weight="normal" fill="#1c1c1c" stroke="#1c1c1c" stroke-width="0.12" >infection</text>
<text x="159.00" y="278.00" font-size="7.6" text-anchor="middle" font-weight="normal" fill="#1c1c1c" stroke="#1c1c1c" stroke-width="0.12" >TNF signaling</text>
<text x="158.70" y="285.40" font-size="7.6" text-anchor="middle" font-weight="normal" fill="#1c1c1c" stroke="#1c1c1c" stroke-width="0.12" >pathway</text>
<text x="15.40" y="356.00" font-size="7.4" text-anchor="start" font-weight="normal" fill="#1c1c1c" stroke="#1c1c1c" stroke-width="0.12" >Geneset size</text>
<circle cx="64.4" cy="353.5" r="3.1" fill="none" stroke="#1a1a1a" stroke-width="0.9"/>
<text x="64.40" y="366.50" font-size="7" text-anchor="middle" font-weight="normal" fill="#1c1c1c" stroke="#1c1c1c" stroke-width="0.12" >4</text>
<circle cx="73.0" cy="353.5" r="3.6" fill="none" stroke="#1a1a1a" stroke-width="0.9"/>
<text x="74.60" y="366.50" font-size="7" text-anchor="middle" font-weight="normal" fill="#1c1c1c" stroke="#1c1c1c" stroke-width="0.12" >6</text>
<circle cx="83.5" cy="353.5" r="4.0" fill="none" stroke="#1a1a1a" stroke-width="0.9"/>
<text x="84.80" y="366.50" font-size="7" text-anchor="middle" font-weight="normal" fill="#1c1c1c" stroke="#1c1c1c" stroke-width="0.12" >8</text>
<circle cx="94.9" cy="353.5" r="4.4" fill="none" stroke="#1a1a1a" stroke-width="0.9"/>
<text x="96.00" y="366.50" font-size="7" text-anchor="middle" font-weight="normal" fill="#1c1c1c" stroke="#1c1c1c" stroke-width="0.12" >10</text>
<text x="109.70" y="355.80" font-size="7.4" text-anchor="start" font-weight="normal" fill="#1c1c1c" stroke="#1c1c1c" stroke-width="0.12" >Fold Change</text>
<defs><linearGradient id="gC" x1="0" x2="1"><stop offset="0" stop-color="#f2e4da"/><stop offset="0.35" stop-color="#dca27f"/><stop offset="0.7" stop-color="#9a3a40"/><stop offset="1" stop-color="#4e0420"/></linearGradient></defs>
<rect x="155.1" y="349.5" width="37.9" height="8.4" fill="url(#gC)"/>
<line x1="163.0" y1="349.5" x2="163.0" y2="351.2" stroke="#fff" stroke-width="0.4"/><line x1="163.0" y1="356.2" x2="163.0" y2="357.9" stroke="#fff" stroke-width="0.4"/>
<line x1="170.5" y1="349.5" x2="170.5" y2="351.2" stroke="#fff" stroke-width="0.4"/><line x1="170.5" y1="356.2" x2="170.5" y2="357.9" stroke="#fff" stroke-width="0.4"/>
<line x1="178.0" y1="349.5" x2="178.0" y2="351.2" stroke="#fff" stroke-width="0.4"/><line x1="178.0" y1="356.2" x2="178.0" y2="357.9" stroke="#fff" stroke-width="0.4"/>
<line x1="185.5" y1="349.5" x2="185.5" y2="351.2" stroke="#fff" stroke-width="0.4"/><line x1="185.5" y1="356.2" x2="185.5" y2="357.9" stroke="#fff" stroke-width="0.4"/>
<text x="156.30" y="367.00" font-size="7" text-anchor="middle" font-weight="normal" fill="#1c1c1c" stroke="#1c1c1c" stroke-width="0.12" >0</text>
<text x="170.30" y="367.00" font-size="7" text-anchor="middle" font-weight="normal" fill="#1c1c1c" stroke="#1c1c1c" stroke-width="0.12" >1</text>
<text x="184.30" y="367.00" font-size="7" text-anchor="middle" font-weight="normal" fill="#1c1c1c" stroke="#1c1c1c" stroke-width="0.12" >2</text>
<text x="217.00" y="184.70" font-size="11.5" text-anchor="start" font-weight="bold" fill="#000" >D</text>
<g stroke="#c2c2c2" stroke-width="0.62"><line x1="238.0" y1="221.0" x2="267.9" y2="259.0"/><line x1="250.4" y1="220.2" x2="267.9" y2="259.0"/><line x1="229.2" y1="230.3" x2="267.9" y2="259.0"/><line x1="250.5" y1="234.3" x2="267.9" y2="259.0"/><line x1="221.8" y1="240.5" x2="267.9" y2="259.0"/><line x1="240.5" y1="247.4" x2="267.9" y2="259.0"/><line x1="218.8" y1="252.4" x2="267.9" y2="259.0"/><line x1="218.0" y1="264.5" x2="267.9" y2="259.0"/><line x1="238.2" y1="264.4" x2="267.9" y2="259.0"/><line x1="222.3" y1="277.0" x2="267.9" y2="259.0"/><line x1="247.4" y1="279.6" x2="267.9" y2="259.0"/><line x1="229.2" y1="287.4" x2="267.9" y2="259.0"/><line x1="240.5" y1="295.2" x2="267.9" y2="259.0"/><line x1="254.3" y1="299.0" x2="267.9" y2="259.0"/><line x1="266.4" y1="283.4" x2="267.9" y2="259.0"/><line x1="268.2" y1="296.4" x2="267.9" y2="259.0"/><line x1="288.0" y1="234.5" x2="267.9" y2="259.0"/><line x1="288.0" y1="234.5" x2="333.5" y2="223.3"/><line x1="288.0" y1="234.5" x2="326.3" y2="233.1"/><line x1="288.0" y1="234.5" x2="333.8" y2="239.3"/><line x1="309.2" y1="241.5" x2="267.9" y2="259.0"/><line x1="309.2" y1="241.5" x2="326.3" y2="233.1"/><line x1="309.2" y1="241.5" x2="333.8" y2="239.3"/><line x1="309.2" y1="241.5" x2="333.5" y2="223.3"/><line x1="308.3" y1="287.1" x2="267.9" y2="259.0"/><line x1="308.3" y1="287.1" x2="366.2" y2="288.7"/><line x1="316.9" y1="176.9" x2="333.5" y2="223.3"/><line x1="316.9" y1="176.9" x2="326.3" y2="233.1"/><line x1="316.9" y1="176.9" x2="333.8" y2="239.3"/><line x1="302.3" y1="183.8" x2="333.5" y2="223.3"/><line x1="302.3" y1="183.8" x2="326.3" y2="233.1"/><line x1="299.5" y1="197.7" x2="333.5" y2="223.3"/><line x1="299.5" y1="197.7" x2="326.3" y2="233.1"/><line x1="299.5" y1="197.7" x2="333.8" y2="239.3"/><line x1="294.3" y1="206.6" x2="333.5" y2="223.3"/><line x1="294.3" y1="206.6" x2="326.3" y2="233.1"/><line x1="294.3" y1="206.6" x2="333.8" y2="239.3"/><line x1="330.8" y1="206.6" x2="333.5" y2="223.3"/><line x1="330.8" y1="206.6" x2="347.2" y2="229.2"/><line x1="330.8" y1="206.6" x2="326.3" y2="233.1"/><line x1="330.8" y1="206.6" x2="333.8" y2="239.3"/><line x1="330.8" y1="206.6" x2="373.8" y2="228.4"/><line x1="337.2" y1="200.3" x2="333.5" y2="223.3"/><line x1="337.2" y1="200.3" x2="347.2" y2="229.2"/><line x1="337.2" y1="200.3" x2="326.3" y2="233.1"/><line x1="337.2" y1="200.3" x2="333.8" y2="239.3"/><line x1="337.2" y1="200.3" x2="373.8" y2="228.4"/><line x1="346.9" y1="199.2" x2="333.5" y2="223.3"/><line x1="346.9" y1="199.2" x2="347.2" y2="229.2"/><line x1="346.9" y1="199.2" x2="326.3" y2="233.1"/><line x1="346.9" y1="199.2" x2="333.8" y2="239.3"/><line x1="346.9" y1="199.2" x2="373.8" y2="228.4"/><line x1="348.9" y1="208.0" x2="333.5" y2="223.3"/><line x1="348.9" y1="208.0" x2="347.2" y2="229.2"/><line x1="348.9" y1="208.0" x2="326.3" y2="233.1"/><line x1="348.9" y1="208.0" x2="333.8" y2="239.3"/><line x1="348.9" y1="208.0" x2="373.8" y2="228.4"/><line x1="355.7" y1="186.5" x2="333.5" y2="223.3"/><line x1="355.7" y1="186.5" x2="347.2" y2="229.2"/><line x1="355.7" y1="186.5" x2="326.3" y2="233.1"/><line x1="355.7" y1="186.5" x2="333.8" y2="239.3"/><line x1="355.7" y1="186.5" x2="373.8" y2="228.4"/><line x1="365.4" y1="187.2" x2="333.5" y2="223.3"/><line x1="365.4" y1="187.2" x2="347.2" y2="229.2"/><line x1="365.4" y1="187.2" x2="326.3" y2="233.1"/><line x1="365.4" y1="187.2" x2="373.8" y2="228.4"/><line x1="374.9" y1="193.4" x2="333.5" y2="223.3"/><line x1="374.9" y1="193.4" x2="347.2" y2="229.2"/><line x1="374.9" y1="193.4" x2="373.8" y2="228.4"/><line x1="374.9" y1="193.4" x2="333.8" y2="239.3"/><line x1="384.3" y1="194.3" x2="373.8" y2="228.4"/><line x1="360.3" y1="208.0" x2="333.5" y2="223.3"/><line x1="360.3" y1="208.0" x2="347.2" y2="229.2"/><line x1="360.3" y1="208.0" x2="326.3" y2="233.1"/><line x1="360.3" y1="208.0" x2="333.8" y2="239.3"/><line x1="360.3" y1="208.0" x2="373.8" y2="228.4"/><line x1="380.0" y1="203.8" x2="373.8" y2="228.4"/><line x1="380.0" y1="203.8" x2="333.5" y2="223.3"/><line x1="380.0" y1="203.8" x2="347.2" y2="229.2"/><line x1="380.0" y1="203.8" x2="333.8" y2="239.3"/><line x1="366.2" y1="215.7" x2="373.8" y2="228.4"/><line x1="366.2" y1="215.7" x2="333.5" y2="223.3"/><line x1="366.2" y1="215.7" x2="347.2" y2="229.2"/><line x1="366.2" y1="215.7" x2="326.3" y2="233.1"/><line x1="366.2" y1="215.7" x2="333.8" y2="239.3"/><line x1="401.1" y1="191.1" x2="373.8" y2="228.4"/><line x1="409.2" y1="201.2" x2="373.8" y2="228.4"/><line x1="413.8" y1="210.0" x2="373.8" y2="228.4"/><line x1="421.5" y1="218.2" x2="373.8" y2="228.4"/><line x1="413.1" y1="226.5" x2="373.8" y2="228.4"/><line x1="424.2" y1="232.1" x2="373.8" y2="228.4"/><line x1="418.8" y1="241.0" x2="373.8" y2="228.4"/><line x1="346.3" y1="259.2" x2="366.2" y2="288.7"/><line x1="346.3" y1="259.2" x2="333.5" y2="223.3"/><line x1="346.3" y1="259.2" x2="347.2" y2="229.2"/><line x1="346.3" y1="259.2" x2="326.3" y2="233.1"/><line x1="346.3" y1="259.2" x2="333.8" y2="239.3"/><line x1="346.3" y1="259.2" x2="427.2" y2="260.8"/><line x1="352.5" y1="258.7" x2="366.2" y2="288.7"/><line x1="352.5" y1="258.7" x2="333.5" y2="223.3"/><line x1="352.5" y1="258.7" x2="347.2" y2="229.2"/><line x1="352.5" y1="258.7" x2="326.3" y2="233.1"/><line x1="352.5" y1="258.7" x2="333.8" y2="239.3"/><line x1="352.5" y1="258.7" x2="373.8" y2="228.4"/><line x1="357.3" y1="253.8" x2="366.2" y2="288.7"/><line x1="357.3" y1="253.8" x2="333.5" y2="223.3"/><line x1="357.3" y1="253.8" x2="347.2" y2="229.2"/><line x1="357.3" y1="253.8" x2="326.3" y2="233.1"/><line x1="357.3" y1="253.8" x2="333.8" y2="239.3"/><line x1="357.3" y1="253.8" x2="427.2" y2="260.8"/><line x1="366.2" y1="259.6" x2="366.2" y2="288.7"/><line x1="366.2" y1="259.6" x2="373.8" y2="228.4"/><line x1="366.2" y1="259.6" x2="333.5" y2="223.3"/><line x1="366.2" y1="259.6" x2="347.2" y2="229.2"/><line x1="366.2" y1="259.6" x2="333.8" y2="239.3"/><line x1="370.4" y1="252.9" x2="366.2" y2="288.7"/><line x1="370.4" y1="252.9" x2="373.8" y2="228.4"/><line x1="370.4" y1="252.9" x2="333.5" y2="223.3"/><line x1="370.4" y1="252.9" x2="347.2" y2="229.2"/><line x1="370.4" y1="252.9" x2="326.3" y2="233.1"/><line x1="370.4" y1="252.9" x2="333.8" y2="239.3"/><line x1="370.4" y1="252.9" x2="427.2" y2="260.8"/><line x1="374.8" y1="250.4" x2="366.2" y2="288.7"/><line x1="374.8" y1="250.4" x2="373.8" y2="228.4"/><line x1="374.8" y1="250.4" x2="333.5" y2="223.3"/><line x1="374.8" y1="250.4" x2="326.3" y2="233.1"/><line x1="374.8" y1="250.4" x2="427.2" y2="260.8"/><line x1="393.5" y1="265.4" x2="366.2" y2="288.7"/><line x1="393.5" y1="265.4" x2="373.8" y2="228.4"/><line x1="393.5" y1="265.4" x2="427.2" y2="260.8"/><line x1="400.6" y1="262.1" x2="366.2" y2="288.7"/><line x1="400.6" y1="262.1" x2="373.8" y2="228.4"/><line x1="400.6" y1="262.1" x2="427.2" y2="260.8"/><line x1="335.8" y1="310.2" x2="366.2" y2="288.7"/><line x1="340.8" y1="319.8" x2="366.2" y2="288.7"/><line x1="356.2" y1="314.0" x2="366.2" y2="288.7"/><line x1="356.0" y1="325.8" x2="366.2" y2="288.7"/><line x1="371.3" y1="325.8" x2="366.2" y2="288.7"/><line x1="382.9" y1="312.1" x2="366.2" y2="288.7"/><line x1="386.3" y1="325.6" x2="366.2" y2="288.7"/><line x1="400.2" y1="319.4" x2="366.2" y2="288.7"/><line x1="401.7" y1="302.1" x2="366.2" y2="288.7"/><line x1="411.7" y1="311.7" x2="366.2" y2="288.7"/><line x1="418.5" y1="300.6" x2="366.2" y2="288.7"/><line x1="420.4" y1="289.9" x2="366.2" y2="288.7"/><line x1="420.4" y1="289.9" x2="427.2" y2="260.8"/></g>
<circle cx="238" cy="221" r="1.95" fill="#f4d2b4"/>
<circle cx="250.4" cy="220.2" r="1.95" fill="#a73530"/>
<circle cx="229.2" cy="230.3" r="1.95" fill="#f4d2b4"/>
<circle cx="250.5" cy="234.3" r="1.95" fill="#efbe98"/>
<circle cx="221.8" cy="240.5" r="1.95" fill="#e49c71"/>
<circle cx="240.5" cy="247.4" r="1.95" fill="#f4d2b4"/>
<circle cx="218.8" cy="252.4" r="1.95" fill="#841e29"/>
<circle cx="218" cy="264.5" r="1.95" fill="#e49c71"/>
<circle cx="238.2" cy="264.4" r="1.95" fill="#efbe98"/>
<circle cx="222.3" cy="277" r="1.95" fill="#f4d2b4"/>
<circle cx="247.4" cy="279.6" r="1.95" fill="#620822"/>
<circle cx="229.2" cy="287.4" r="1.95" fill="#f4d2b4"/>
<circle cx="240.5" cy="295.2" r="1.95" fill="#efbe98"/>
<circle cx="254.3" cy="299" r="1.95" fill="#f4d2b4"/>
<circle cx="266.4" cy="283.4" r="1.95" fill="#efbe98"/>
<circle cx="268.2" cy="296.4" r="1.95" fill="#f4d2b4"/>
<circle cx="288" cy="234.5" r="1.95" fill="#ece6e2"/>
<circle cx="309.2" cy="241.5" r="1.95" fill="#efbe98"/>
<circle cx="308.3" cy="287.1" r="1.95" fill="#f4d2b4"/>
<circle cx="316.9" cy="176.9" r="1.95" fill="#f4d2b4"/>
<circle cx="302.3" cy="183.8" r="1.95" fill="#f4d2b4"/>
<circle cx="299.5" cy="197.7" r="1.95" fill="#f4d2b4"/>
<circle cx="294.3" cy="206.6" r="1.95" fill="#f4d2b4"/>
<circle cx="330.8" cy="206.6" r="1.95" fill="#efbe98"/>
<circle cx="337.2" cy="200.3" r="1.95" fill="#f6d7bb"/>
<circle cx="346.9" cy="199.2" r="1.95" fill="#e49c71"/>
<circle cx="348.9" cy="208" r="1.95" fill="#efbe98"/>
<circle cx="355.7" cy="186.5" r="1.95" fill="#f4d2b4"/>
<circle cx="365.4" cy="187.2" r="1.95" fill="#f4d2b4"/>
<circle cx="374.9" cy="193.4" r="1.95" fill="#efbe98"/>
<circle cx="384.3" cy="194.3" r="1.95" fill="#f4d2b4"/>
<circle cx="360.3" cy="208" r="1.95" fill="#e49c71"/>
<circle cx="380" cy="203.8" r="1.95" fill="#efbe98"/>
<circle cx="366.2" cy="215.7" r="1.95" fill="#efbe98"/>
<circle cx="401.1" cy="191.1" r="1.95" fill="#f4d2b4"/>
<circle cx="409.2" cy="201.2" r="1.95" fill="#e49c71"/>
<circle cx="413.8" cy="210" r="1.95" fill="#efbe98"/>
<circle cx="421.5" cy="218.2" r="1.95" fill="#f4d2b4"/>
<circle cx="413.1" cy="226.5" r="1.95" fill="#efbe98"/>
<circle cx="424.2" cy="232.1" r="1.95" fill="#efbe98"/>
<circle cx="418.8" cy="241.0" r="1.95" fill="#efbe98"/>
<circle cx="346.3" cy="259.2" r="1.95" fill="#f4d2b4"/>
<circle cx="352.5" cy="258.7" r="1.95" fill="#f4d2b4"/>
<circle cx="357.3" cy="253.8" r="1.95" fill="#efbe98"/>
<circle cx="366.2" cy="259.6" r="1.95" fill="#f4d2b4"/>
<circle cx="370.4" cy="252.9" r="1.95" fill="#e49c71"/>
<circle cx="374.8" cy="250.4" r="1.95" fill="#f4d2b4"/>
<circle cx="393.5" cy="265.4" r="1.95" fill="#efbe98"/>
<circle cx="400.6" cy="262.1" r="1.95" fill="#f4d2b4"/>
<circle cx="335.8" cy="310.2" r="1.95" fill="#c25540"/>
<circle cx="340.8" cy="319.8" r="1.95" fill="#f4d2b4"/>
<circle cx="356.2" cy="314" r="1.95" fill="#f4d2b4"/>
<circle cx="356" cy="325.8" r="1.95" fill="#f4d2b4"/>
<circle cx="371.3" cy="325.8" r="1.95" fill="#f4d2b4"/>
<circle cx="382.9" cy="312.1" r="1.95" fill="#f4d2b4"/>
<circle cx="386.3" cy="325.6" r="1.95" fill="#f4d2b4"/>
<circle cx="400.2" cy="319.4" r="1.95" fill="#f4d2b4"/>
<circle cx="401.7" cy="302.1" r="1.95" fill="#f4d2b4"/>
<circle cx="411.7" cy="311.7" r="1.95" fill="#f4d2b4"/>
<circle cx="418.5" cy="300.6" r="1.95" fill="#f4d2b4"/>
<circle cx="420.4" cy="289.9" r="1.95" fill="#efbe98"/>
<circle cx="373.8" cy="228.4" r="4.8" fill="#fff" stroke="#1a1a1a" stroke-width="1.2"/>
<text x="373.8" y="230.65" font-size="6.24" text-anchor="middle" fill="#555" stroke="#555" stroke-width="0.1">1</text>
<circle cx="333.5" cy="223.3" r="4.5" fill="#fff" stroke="#1a1a1a" stroke-width="1.2"/>
<text x="333.5" y="225.41" font-size="5.8500000000000005" text-anchor="middle" fill="#555" stroke="#555" stroke-width="0.1">2</text>
<circle cx="347.2" cy="229.2" r="4.3" fill="#fff" stroke="#1a1a1a" stroke-width="1.2"/>
<text x="347.2" y="231.21" font-size="5.59" text-anchor="middle" fill="#555" stroke="#555" stroke-width="0.1">5</text>
<circle cx="326.3" cy="233.1" r="3.6" fill="#fff" stroke="#1a1a1a" stroke-width="1.2"/>
<text x="326.3" y="234.78" font-size="4.680000000000001" text-anchor="middle" fill="#555" stroke="#555" stroke-width="0.1">6</text>
<circle cx="333.8" cy="239.3" r="3.6" fill="#fff" stroke="#1a1a1a" stroke-width="1.2"/>
<text x="333.8" y="240.98" font-size="4.680000000000001" text-anchor="middle" fill="#555" stroke="#555" stroke-width="0.1">7</text>
<circle cx="267.9" cy="259.0" r="4.3" fill="#fff" stroke="#1a1a1a" stroke-width="1.2"/>
<text x="267.9" y="261.01" font-size="5.59" text-anchor="middle" fill="#555" stroke="#555" stroke-width="0.1">4</text>
<circle cx="366.2" cy="288.7" r="4.5" fill="#fff" stroke="#1a1a1a" stroke-width="1.2"/>
<text x="366.2" y="290.81" font-size="5.8500000000000005" text-anchor="middle" fill="#555" stroke="#555" stroke-width="0.1">3</text>
<circle cx="427.2" cy="260.8" r="2.6" fill="#fff" stroke="#1a1a1a" stroke-width="1.2"/>
<text x="427.2" y="262.02" font-size="3.3800000000000003" text-anchor="middle" fill="#555" stroke="#555" stroke-width="0.1">8</text>
<text x="268.50" y="269.60" font-size="7.6" text-anchor="middle" font-weight="normal" fill="#1c1c1c" stroke="#1c1c1c" stroke-width="0.12" >Neutrophil</text>
<text x="268.30" y="276.50" font-size="7.6" text-anchor="middle" font-weight="normal" fill="#1c1c1c" stroke="#1c1c1c" stroke-width="0.12" >degranulation</text>
<text x="378.30" y="240.90" font-size="7.6" text-anchor="middle" font-weight="normal" fill="#1c1c1c" stroke="#1c1c1c" stroke-width="0.12" >T cell activation</text>
<text x="428.80" y="270.50" font-size="7.6" text-anchor="middle" font-weight="normal" fill="#1c1c1c" stroke="#1c1c1c" stroke-width="0.12" >Positive regulation</text>
<text x="428.80" y="277.70" font-size="7.6" text-anchor="middle" font-weight="normal" fill="#1c1c1c" stroke="#1c1c1c" stroke-width="0.12" >of T cell receptor</text>
<text x="369.50" y="300.20" font-size="7.6" text-anchor="middle" font-weight="normal" fill="#1c1c1c" stroke="#1c1c1c" stroke-width="0.12" >T cell receptor</text>
<text x="369.20" y="307.90" font-size="7.6" text-anchor="middle" font-weight="normal" fill="#1c1c1c" stroke="#1c1c1c" stroke-width="0.12" >signaling pathway</text>
<text x="217.00" y="346.10" font-size="7.2" text-anchor="start" font-weight="normal" fill="#1c1c1c" stroke="#1c1c1c" stroke-width="0.12" textLength="19.4" lengthAdjust="spacingAndGlyphs">Terms</text>
<text x="217.00" y="353.30" font-size="7.2" text-anchor="start" font-weight="normal" fill="#1c1c1c" stroke="#1c1c1c" stroke-width="0.12" textLength="121.8" lengthAdjust="spacingAndGlyphs">2--Regulation of leukocyte activation</text>
<text x="217.00" y="360.60" font-size="7.2" text-anchor="start" font-weight="normal" fill="#1c1c1c" stroke="#1c1c1c" stroke-width="0.12" textLength="108.6" lengthAdjust="spacingAndGlyphs">5--Regulation of T cell activation</text>
<text x="217.00" y="368.00" font-size="7.2" text-anchor="start" font-weight="normal" fill="#1c1c1c" stroke="#1c1c1c" stroke-width="0.12" textLength="147.0" lengthAdjust="spacingAndGlyphs">6--Positive regulation of leukocyte activation</text>
<text x="217.00" y="375.30" font-size="7.2" text-anchor="start" font-weight="normal" fill="#1c1c1c" stroke="#1c1c1c" stroke-width="0.12" textLength="134.1" lengthAdjust="spacingAndGlyphs">7--Positive regulation of T cell activation</text>
<text x="374.30" y="343.40" font-size="7.4" text-anchor="start" font-weight="normal" fill="#1c1c1c" stroke="#1c1c1c" stroke-width="0.12" >Geneset size</text>
<circle cx="423.6" cy="341.5" r="3.5" fill="none" stroke="#1a1a1a" stroke-width="0.9"/>
<text x="423.60" y="355.40" font-size="7" text-anchor="middle" font-weight="normal" fill="#1c1c1c" stroke="#1c1c1c" stroke-width="0.12" >2</text>
<circle cx="434.3" cy="341.5" r="3.8" fill="none" stroke="#1a1a1a" stroke-width="0.9"/>
<text x="434.30" y="355.40" font-size="7" text-anchor="middle" font-weight="normal" fill="#1c1c1c" stroke="#1c1c1c" stroke-width="0.12" >10</text>
<circle cx="445.0" cy="341.5" r="4.2" fill="none" stroke="#1a1a1a" stroke-width="0.9"/>
<text x="445.00" y="355.40" font-size="7" text-anchor="middle" font-weight="normal" fill="#1c1c1c" stroke="#1c1c1c" stroke-width="0.12" >18</text>
<circle cx="455.6" cy="341.5" r="4.6" fill="none" stroke="#1a1a1a" stroke-width="0.9"/>
<text x="455.60" y="355.40" font-size="7" text-anchor="middle" font-weight="normal" fill="#1c1c1c" stroke="#1c1c1c" stroke-width="0.12" >26</text>
<text x="375.80" y="367.20" font-size="7.4" text-anchor="start" font-weight="normal" fill="#1c1c1c" stroke="#1c1c1c" stroke-width="0.12" >Fold Change</text>
<rect x="421.3" y="361.3" width="37.5" height="7.8" fill="url(#gC)"/>
<line x1="428.5" y1="361.3" x2="428.5" y2="362.9" stroke="#fff" stroke-width="0.4"/><line x1="428.5" y1="367.5" x2="428.5" y2="369.1" stroke="#fff" stroke-width="0.4"/>
<line x1="436.0" y1="361.3" x2="436.0" y2="362.9" stroke="#fff" stroke-width="0.4"/><line x1="436.0" y1="367.5" x2="436.0" y2="369.1" stroke="#fff" stroke-width="0.4"/>
<line x1="443.5" y1="361.3" x2="443.5" y2="362.9" stroke="#fff" stroke-width="0.4"/><line x1="443.5" y1="367.5" x2="443.5" y2="369.1" stroke="#fff" stroke-width="0.4"/>
<line x1="451.0" y1="361.3" x2="451.0" y2="362.9" stroke="#fff" stroke-width="0.4"/><line x1="451.0" y1="367.5" x2="451.0" y2="369.1" stroke="#fff" stroke-width="0.4"/>
<text x="422.60" y="379.20" font-size="7" text-anchor="middle" font-weight="normal" fill="#1c1c1c" stroke="#1c1c1c" stroke-width="0.12" >0</text>
<text x="436.40" y="379.20" font-size="7" text-anchor="middle" font-weight="normal" fill="#1c1c1c" stroke="#1c1c1c" stroke-width="0.12" >1</text>
<text x="450.60" y="379.20" font-size="7" text-anchor="middle" font-weight="normal" fill="#1c1c1c" stroke="#1c1c1c" stroke-width="0.12" >2</text>
<text x="7.30" y="405.80" font-size="11.5" text-anchor="start" font-weight="bold" fill="#000" >E</text>
<text x="76.70" y="419.80" font-size="10" text-anchor="middle" font-weight="normal" fill="#1c1c1c" stroke="#1c1c1c" stroke-width="0.06" textLength="75.9" lengthAdjust="spacingAndGlyphs">Cellular EBV-DNA</text>
<text transform="translate(17.8,485.8) rotate(-90)" font-size="9.6" text-anchor="middle" fill="#1c1c1c" stroke="#1c1c1c" stroke-width="0.15" textLength="89" lengthAdjust="spacingAndGlyphs">EBV-DNA (copies/10<tspan font-size="5.5" dy="-3.4">5</tspan><tspan dy="3.4"> cells)</tspan></text>
<line x1="38.4" y1="436.3" x2="38.4" y2="535.5" stroke="#111" stroke-width="0.9"/>
<line x1="35.8" y1="439.2" x2="38.4" y2="439.2" stroke="#111" stroke-width="0.8"/>
<line x1="35.8" y1="534.4" x2="38.4" y2="534.4" stroke="#111" stroke-width="0.8"/>
<text x="33.20" y="442.20" font-size="9" text-anchor="end" font-weight="normal" fill="#1c1c1c" stroke="#1c1c1c" stroke-width="0.06" textLength="8.7" lengthAdjust="spacingAndGlyphs">20</text>
<text x="32.80" y="536.80" font-size="9" text-anchor="end" font-weight="normal" fill="#1c1c1c" stroke="#1c1c1c" stroke-width="0.06" >0</text>
<line x1="38" y1="535.2" x2="115.6" y2="535.2" stroke="#111" stroke-width="1"/>
<line x1="39.5" y1="538.4" x2="56" y2="538.4" stroke="#333" stroke-width="0.8"/>
<line x1="58.5" y1="538.4" x2="75.3" y2="538.4" stroke="#333" stroke-width="0.8"/>
<line x1="78" y1="538.4" x2="94.4" y2="538.4" stroke="#333" stroke-width="0.8"/>
<line x1="96.6" y1="538.4" x2="114" y2="538.4" stroke="#333" stroke-width="0.8"/>
<line x1="48.2" y1="535.2" x2="48.2" y2="538.4" stroke="#333" stroke-width="0.6"/>
<line x1="67.2" y1="535.2" x2="67.2" y2="538.4" stroke="#333" stroke-width="0.6"/>
<line x1="86.6" y1="535.2" x2="86.6" y2="538.4" stroke="#333" stroke-width="0.6"/>
<line x1="105.6" y1="535.2" x2="105.6" y2="538.4" stroke="#333" stroke-width="0.6"/>
<text x="48.20" y="547.60" font-size="7.8" text-anchor="middle" font-weight="normal" fill="#1c1c1c" stroke="#1c1c1c" stroke-width="0.12" >D0</text>
<text x="67.20" y="547.60" font-size="7.8" text-anchor="middle" font-weight="normal" fill="#1c1c1c" stroke="#1c1c1c" stroke-width="0.12" >D21</text>
<text x="86.60" y="547.60" font-size="7.8" text-anchor="middle" font-weight="normal" fill="#1c1c1c" stroke="#1c1c1c" stroke-width="0.12" >D45</text>
<text x="105.60" y="547.60" font-size="7.8" text-anchor="middle" font-weight="normal" fill="#1c1c1c" stroke="#1c1c1c" stroke-width="0.12" >D76</text>
<polyline points="48.2,494.8 67.2,534.6" fill="none" stroke="#2a4a8e" stroke-width="0.9"/>
<circle cx="48.2" cy="494.8" r="1.05" fill="#2a4a8e"/>
<circle cx="67.2" cy="534.6" r="1.05" fill="#2a4a8e"/>
<polyline points="48.2,454.2 67.2,534.6 86.6,534.6 105.6,534.6" fill="none" stroke="#6ab344" stroke-width="0.9"/>
<circle cx="48.2" cy="454.2" r="1.05" fill="#6ab344"/>
<circle cx="67.2" cy="534.6" r="1.05" fill="#6ab344"/>
<circle cx="86.6" cy="534.6" r="1.05" fill="#6ab344"/>
<circle cx="105.6" cy="534.6" r="1.05" fill="#6ab344"/>
<polyline points="48.2,534.8 67.2,534.8 86.6,532.2 105.6,534.8" fill="none" stroke="#c8163e" stroke-width="0.9"/>
<circle cx="48.2" cy="534.8" r="1.05" fill="#c8163e"/>
<circle cx="67.2" cy="534.8" r="1.05" fill="#c8163e"/>
<circle cx="86.6" cy="532.2" r="1.05" fill="#c8163e"/>
<circle cx="105.6" cy="534.8" r="1.05" fill="#c8163e"/>
<line x1="77.9" y1="440.9" x2="87.6" y2="440.9" stroke="#6ab344" stroke-width="0.9"/><circle cx="82.8" cy="440.9" r="1.0" fill="#6ab344"/>
<text x="91.00" y="443.30" font-size="7.8" text-anchor="start" font-weight="normal" fill="#1c1c1c" stroke="#1c1c1c" stroke-width="0.12" textLength="10.2" lengthAdjust="spacingAndGlyphs">NK</text>
<line x1="77.9" y1="452.3" x2="87.6" y2="452.3" stroke="#c8163e" stroke-width="0.9"/><circle cx="82.8" cy="452.3" r="1.0" fill="#c8163e"/>
<text x="91.00" y="454.70" font-size="7.8" text-anchor="start" font-weight="normal" fill="#1c1c1c" stroke="#1c1c1c" stroke-width="0.12" textLength="21.8" lengthAdjust="spacingAndGlyphs">T Cells</text>
<line x1="77.9" y1="464.0" x2="87.6" y2="464.0" stroke="#2a4a8e" stroke-width="0.9"/><circle cx="82.8" cy="464.0" r="1.0" fill="#2a4a8e"/>
<text x="91.00" y="466.40" font-size="7.8" text-anchor="start" font-weight="normal" fill="#1c1c1c" stroke="#1c1c1c" stroke-width="0.12" textLength="22.5" lengthAdjust="spacingAndGlyphs">B Cells</text>
<text x="131.00" y="405.80" font-size="11.5" text-anchor="start" font-weight="bold" fill="#000" >F</text>
<text x="171.70" y="419.60" font-size="10.6" text-anchor="middle" font-weight="normal" fill="#1c1c1c" stroke="#1c1c1c" stroke-width="0.06" textLength="75.3" lengthAdjust="spacingAndGlyphs">HLH related gene</text>
<text x="171.10" y="431.20" font-size="10.6" text-anchor="middle" font-weight="normal" fill="#1c1c1c" stroke="#1c1c1c" stroke-width="0.06" textLength="37.7" lengthAdjust="spacingAndGlyphs">in CD8 T</text>
<rect x="130.8" y="436.5" width="81.52" height="113.85" fill="#9a9a9a"/>
<rect x="131.10" y="436.80" width="19.78" height="4.35" fill="#21376a"/>
<rect x="151.48" y="436.80" width="19.78" height="4.35" fill="#e0906c"/>
<rect x="171.86" y="436.80" width="19.78" height="4.35" fill="#f4c4a4"/>
<rect x="192.24" y="436.80" width="19.78" height="4.35" fill="#c0463c"/>
<rect x="131.10" y="441.75" width="19.78" height="4.35" fill="#21376a"/>
<rect x="151.48" y="441.75" width="19.78" height="4.35" fill="#ebb08c"/>
<rect x="171.86" y="441.75" width="19.78" height="4.35" fill="#5e0020"/>
<rect x="192.24" y="441.75" width="19.78" height="4.35" fill="#c8dcee"/>
<rect x="131.10" y="446.70" width="19.78" height="4.35" fill="#5b8fc8"/>
<rect x="151.48" y="446.70" width="19.78" height="4.35" fill="#5e0020"/>
<rect x="171.86" y="446.70" width="19.78" height="4.35" fill="#72a3d0"/>
<rect x="192.24" y="446.70" width="19.78" height="4.35" fill="#d6e6f2"/>
<rect x="131.10" y="451.65" width="19.78" height="4.35" fill="#6b9ccf"/>
<rect x="151.48" y="451.65" width="19.78" height="4.35" fill="#a8cce6"/>
<rect x="171.86" y="451.65" width="19.78" height="4.35" fill="#6fa0d0"/>
<rect x="192.24" y="451.65" width="19.78" height="4.35" fill="#5e0020"/>
<rect x="131.10" y="456.60" width="19.78" height="4.35" fill="#8fb8dc"/>
<rect x="151.48" y="456.60" width="19.78" height="4.35" fill="#5e0020"/>
<rect x="171.86" y="456.60" width="19.78" height="4.35" fill="#9cc2e2"/>
<rect x="192.24" y="456.60" width="19.78" height="4.35" fill="#6f9fd0"/>
<rect x="131.10" y="461.55" width="19.78" height="4.35" fill="#9fc4e2"/>
<rect x="151.48" y="461.55" width="19.78" height="4.35" fill="#5e0020"/>
<rect x="171.86" y="461.55" width="19.78" height="4.35" fill="#5585c0"/>
<rect x="192.24" y="461.55" width="19.78" height="4.35" fill="#a0c4e2"/>
<rect x="131.10" y="466.50" width="19.78" height="4.35" fill="#b4d2ea"/>
<rect x="151.48" y="466.50" width="19.78" height="4.35" fill="#5e0020"/>
<rect x="171.86" y="466.50" width="19.78" height="4.35" fill="#4a7ac0"/>
<rect x="192.24" y="466.50" width="19.78" height="4.35" fill="#a8cae6"/>
<rect x="131.10" y="471.45" width="19.78" height="4.35" fill="#cfe2f0"/>
<rect x="151.48" y="471.45" width="19.78" height="4.35" fill="#5e0020"/>
<rect x="171.86" y="471.45" width="19.78" height="4.35" fill="#3f6db5"/>
<rect x="192.24" y="471.45" width="19.78" height="4.35" fill="#b0d0ea"/>
<rect x="131.10" y="476.40" width="19.78" height="4.35" fill="#dce8f2"/>
<rect x="151.48" y="476.40" width="19.78" height="4.35" fill="#5e0020"/>
<rect x="171.86" y="476.40" width="19.78" height="4.35" fill="#5a8ac4"/>
<rect x="192.24" y="476.40" width="19.78" height="4.35" fill="#7aa8d6"/>
<rect x="131.10" y="481.35" width="19.78" height="4.35" fill="#e6e2de"/>
<rect x="151.48" y="481.35" width="19.78" height="4.35" fill="#5e0020"/>
<rect x="171.86" y="481.35" width="19.78" height="4.35" fill="#4a78bc"/>
<rect x="192.24" y="481.35" width="19.78" height="4.35" fill="#7aa8d6"/>
<rect x="131.10" y="486.30" width="19.78" height="4.35" fill="#fbe0d0"/>
<rect x="151.48" y="486.30" width="19.78" height="4.35" fill="#5e0020"/>
<rect x="171.86" y="486.30" width="19.78" height="4.35" fill="#2c4d8e"/>
<rect x="192.24" y="486.30" width="19.78" height="4.35" fill="#b4d4ec"/>
<rect x="131.10" y="491.25" width="19.78" height="4.35" fill="#fadcc8"/>
<rect x="151.48" y="491.25" width="19.78" height="4.35" fill="#5e0020"/>
<rect x="171.86" y="491.25" width="19.78" height="4.35" fill="#4a78c0"/>
<rect x="192.24" y="491.25" width="19.78" height="4.35" fill="#6a9ed0"/>
<rect x="131.10" y="496.20" width="19.78" height="4.35" fill="#eaa888"/>
<rect x="151.48" y="496.20" width="19.78" height="4.35" fill="#5e0020"/>
<rect x="171.86" y="496.20" width="19.78" height="4.35" fill="#4070b8"/>
<rect x="192.24" y="496.20" width="19.78" height="4.35" fill="#6fa0d0"/>
<rect x="131.10" y="501.15" width="19.78" height="4.35" fill="#e09070"/>
<rect x="151.48" y="501.15" width="19.78" height="4.35" fill="#5e0020"/>
<rect x="171.86" y="501.15" width="19.78" height="4.35" fill="#30569a"/>
<rect x="192.24" y="501.15" width="19.78" height="4.35" fill="#7aaad6"/>
<rect x="131.10" y="506.10" width="19.78" height="4.35" fill="#cc5848"/>
<rect x="151.48" y="506.10" width="19.78" height="4.35" fill="#a81a30"/>
<rect x="171.86" y="506.10" width="19.78" height="4.35" fill="#1e3468"/>
<rect x="192.24" y="506.10" width="19.78" height="4.35" fill="#b0d0ea"/>
<rect x="131.10" y="511.05" width="19.78" height="4.35" fill="#c85444"/>
<rect x="151.48" y="511.05" width="19.78" height="4.35" fill="#a81a30"/>
<rect x="171.86" y="511.05" width="19.78" height="4.35" fill="#264a88"/>
<rect x="192.24" y="511.05" width="19.78" height="4.35" fill="#8cb8dc"/>
<rect x="131.10" y="516.00" width="19.78" height="4.35" fill="#c04040"/>
<rect x="151.48" y="516.00" width="19.78" height="4.35" fill="#a81a30"/>
<rect x="171.86" y="516.00" width="19.78" height="4.35" fill="#6a9ed0"/>
<rect x="192.24" y="516.00" width="19.78" height="4.35" fill="#2a4a8e"/>
<rect x="131.10" y="520.95" width="19.78" height="4.35" fill="#b83040"/>
<rect x="151.48" y="520.95" width="19.78" height="4.35" fill="#b83838"/>
<rect x="171.86" y="520.95" width="19.78" height="4.35" fill="#4068b0"/>
<rect x="192.24" y="520.95" width="19.78" height="4.35" fill="#5f90c8"/>
<rect x="131.10" y="525.90" width="19.78" height="4.35" fill="#a81830"/>
<rect x="151.48" y="525.90" width="19.78" height="4.35" fill="#c85848"/>
<rect x="171.86" y="525.90" width="19.78" height="4.35" fill="#345a9e"/>
<rect x="192.24" y="525.90" width="19.78" height="4.35" fill="#7aa8d6"/>
<rect x="131.10" y="530.85" width="19.78" height="4.35" fill="#901428"/>
<rect x="151.48" y="530.85" width="19.78" height="4.35" fill="#d06850"/>
<rect x="171.86" y="530.85" width="19.78" height="4.35" fill="#30559a"/>
<rect x="192.24" y="530.85" width="19.78" height="4.35" fill="#7aa8d6"/>
<rect x="131.10" y="535.80" width="19.78" height="4.35" fill="#901428"/>
<rect x="151.48" y="535.80" width="19.78" height="4.35" fill="#cc6450"/>
<rect x="171.86" y="535.80" width="19.78" height="4.35" fill="#3a62a8"/>
<rect x="192.24" y="535.80" width="19.78" height="4.35" fill="#6a9ed0"/>
<rect x="131.10" y="540.75" width="19.78" height="4.35" fill="#7a0c26"/>
<rect x="151.48" y="540.75" width="19.78" height="4.35" fill="#e08870"/>
<rect x="171.86" y="540.75" width="19.78" height="4.35" fill="#3860a8"/>
<rect x="192.24" y="540.75" width="19.78" height="4.35" fill="#8ab8dc"/>
<rect x="131.10" y="545.70" width="19.78" height="4.35" fill="#5e0020"/>
<rect x="151.48" y="545.70" width="19.78" height="4.35" fill="#e08a6c"/>
<rect x="171.86" y="545.70" width="19.78" height="4.35" fill="#3a64ac"/>
<rect x="192.24" y="545.70" width="19.78" height="4.35" fill="#7aacd8"/>
<text x="216.00" y="440.52" font-size="4.3" fill="#222" textLength="7.53" lengthAdjust="spacingAndGlyphs">BTK</text>
<text x="216.00" y="445.47" font-size="4.3" fill="#222" textLength="14.41" lengthAdjust="spacingAndGlyphs">SLC7A7</text>
<text x="216.00" y="450.42" font-size="4.3" fill="#222" textLength="9.89" lengthAdjust="spacingAndGlyphs">CD27</text>
<text x="216.00" y="455.37" font-size="4.3" fill="#222" textLength="10.76" lengthAdjust="spacingAndGlyphs">IL2RA</text>
<text x="216.00" y="460.32" font-size="4.3" fill="#222" textLength="7.96" lengthAdjust="spacingAndGlyphs">ADA</text>
<text x="216.00" y="465.27" font-size="4.3" fill="#222" textLength="8.67" lengthAdjust="spacingAndGlyphs">WAS</text>
<text x="216.00" y="470.22" font-size="4.3" fill="#222" textLength="17.42" lengthAdjust="spacingAndGlyphs">BLOC1S6</text>
<text x="216.00" y="475.17" font-size="4.3" fill="#222" textLength="15.06" lengthAdjust="spacingAndGlyphs">SH2D1A</text>
<text x="216.00" y="480.12" font-size="4.3" fill="#222" textLength="14.84" lengthAdjust="spacingAndGlyphs">STXBP2</text>
<text x="216.00" y="485.07" font-size="4.3" fill="#222" textLength="7.31" lengthAdjust="spacingAndGlyphs">FAS</text>
<text x="216.00" y="490.02" font-size="4.3" fill="#222" textLength="7.96" lengthAdjust="spacingAndGlyphs">PNP</text>
<text x="216.00" y="494.97" font-size="4.3" fill="#222" textLength="13.55" lengthAdjust="spacingAndGlyphs">MYO5A</text>
<text x="216.00" y="499.92" font-size="4.3" fill="#222" textLength="9.39" lengthAdjust="spacingAndGlyphs">LYST</text>
<text x="216.00" y="504.87" font-size="4.3" fill="#222" textLength="15.48" lengthAdjust="spacingAndGlyphs">UNC13D</text>
<text x="216.00" y="509.82" font-size="4.3" fill="#222" textLength="6.02" lengthAdjust="spacingAndGlyphs">ITK</text>
<text x="216.00" y="514.77" font-size="4.3" fill="#222" textLength="14.84" lengthAdjust="spacingAndGlyphs">RAB27A</text>
<text x="216.00" y="519.72" font-size="4.3" fill="#222" textLength="8.39" lengthAdjust="spacingAndGlyphs">MVK</text>
<text x="216.00" y="524.67" font-size="4.3" fill="#222" textLength="11.18" lengthAdjust="spacingAndGlyphs">IL2RG</text>
<text x="216.00" y="529.62" font-size="4.3" fill="#222" textLength="12.05" lengthAdjust="spacingAndGlyphs">AP3B1</text>
<text x="216.00" y="534.57" font-size="4.3" fill="#222" textLength="13.33" lengthAdjust="spacingAndGlyphs">MAGT1</text>
<text x="216.00" y="539.52" font-size="4.3" fill="#222" textLength="11.54" lengthAdjust="spacingAndGlyphs">STX11</text>
<text x="216.00" y="544.47" font-size="4.3" fill="#222" textLength="8.82" lengthAdjust="spacingAndGlyphs">XIAP</text>
<text x="216.00" y="549.42" font-size="4.3" fill="#222" textLength="9.89" lengthAdjust="spacingAndGlyphs">PRF1</text>
<text x="140.49" y="560.40" font-size="8.8" text-anchor="middle" fill="#231f20" stroke="#231f20" stroke-width="0.1">T</text>
<text x="144.51" y="563.10" font-size="4.8" text-anchor="middle" fill="#231f20">0</text>
<text x="160.87" y="560.40" font-size="8.8" text-anchor="middle" fill="#231f20" stroke="#231f20" stroke-width="0.1">T</text>
<text x="164.89" y="563.10" font-size="4.8" text-anchor="middle" fill="#231f20">1</text>
<text x="181.25" y="560.40" font-size="8.8" text-anchor="middle" fill="#231f20" stroke="#231f20" stroke-width="0.1">T</text>
<text x="185.27" y="563.10" font-size="4.8" text-anchor="middle" fill="#231f20">2</text>
<text x="201.63" y="560.40" font-size="8.8" text-anchor="middle" fill="#231f20" stroke="#231f20" stroke-width="0.1">T</text>
<text x="205.65" y="563.10" font-size="4.8" text-anchor="middle" fill="#231f20">3</text>
<text x="249.30" y="405.90" font-size="11.8" text-anchor="start" font-weight="bold" fill="#000" >G</text>
<text x="299.10" y="419.50" font-size="10.6" text-anchor="middle" font-weight="normal" fill="#1c1c1c" stroke="#1c1c1c" stroke-width="0.06" textLength="58.9" lengthAdjust="spacingAndGlyphs">GO leukocyte</text>
<text x="299.00" y="430.60" font-size="10.6" text-anchor="middle" font-weight="normal" fill="#1c1c1c" stroke="#1c1c1c" stroke-width="0.06" textLength="98.7" lengthAdjust="spacingAndGlyphs">degranulation in CD8 T</text>
<rect x="257.9" y="436.5" width="82.48" height="114.45" fill="#9a9a9a"/>
<rect x="258.20" y="436.80" width="20.02" height="4.85" fill="#4068b0"/>
<rect x="278.82" y="436.80" width="20.02" height="4.85" fill="#f2c0a0"/>
<rect x="299.44" y="436.80" width="20.02" height="4.85" fill="#6a9ed0"/>
<rect x="320.06" y="436.80" width="20.02" height="4.85" fill="#5e0020"/>
<rect x="258.20" y="442.25" width="20.02" height="4.85" fill="#4470b4"/>
<rect x="278.82" y="442.25" width="20.02" height="4.85" fill="#5e0020"/>
<rect x="299.44" y="442.25" width="20.02" height="4.85" fill="#f8e4d8"/>
<rect x="320.06" y="442.25" width="20.02" height="4.85" fill="#88b4dc"/>
<rect x="258.20" y="447.70" width="20.02" height="4.85" fill="#4e80c0"/>
<rect x="278.82" y="447.70" width="20.02" height="4.85" fill="#5e0020"/>
<rect x="299.44" y="447.70" width="20.02" height="4.85" fill="#5a8cc8"/>
<rect x="320.06" y="447.70" width="20.02" height="4.85" fill="#f0b898"/>
<rect x="258.20" y="453.15" width="20.02" height="4.85" fill="#6496cc"/>
<rect x="278.82" y="453.15" width="20.02" height="4.85" fill="#5e0020"/>
<rect x="299.44" y="453.15" width="20.02" height="4.85" fill="#6e9ed0"/>
<rect x="320.06" y="453.15" width="20.02" height="4.85" fill="#c8dcef"/>
<rect x="258.20" y="458.60" width="20.02" height="4.85" fill="#6498cc"/>
<rect x="278.82" y="458.60" width="20.02" height="4.85" fill="#5e0020"/>
<rect x="299.44" y="458.60" width="20.02" height="4.85" fill="#4a7cc0"/>
<rect x="320.06" y="458.60" width="20.02" height="4.85" fill="#eee6e0"/>
<rect x="258.20" y="464.05" width="20.02" height="4.85" fill="#a0c8e6"/>
<rect x="278.82" y="464.05" width="20.02" height="4.85" fill="#5e0020"/>
<rect x="299.44" y="464.05" width="20.02" height="4.85" fill="#88b4dc"/>
<rect x="320.06" y="464.05" width="20.02" height="4.85" fill="#6698cc"/>
<rect x="258.20" y="469.50" width="20.02" height="4.85" fill="#d8e6f0"/>
<rect x="278.82" y="469.50" width="20.02" height="4.85" fill="#5e0020"/>
<rect x="299.44" y="469.50" width="20.02" height="4.85" fill="#5a8cc8"/>
<rect x="320.06" y="469.50" width="20.02" height="4.85" fill="#78a8d6"/>
<rect x="258.20" y="474.95" width="20.02" height="4.85" fill="#e0e0e0"/>
<rect x="278.82" y="474.95" width="20.02" height="4.85" fill="#5e0020"/>
<rect x="299.44" y="474.95" width="20.02" height="4.85" fill="#4a7cc0"/>
<rect x="320.06" y="474.95" width="20.02" height="4.85" fill="#7aa8d6"/>
<rect x="258.20" y="480.40" width="20.02" height="4.85" fill="#eaa884"/>
<rect x="278.82" y="480.40" width="20.02" height="4.85" fill="#5e0020"/>
<rect x="299.44" y="480.40" width="20.02" height="4.85" fill="#1e3a70"/>
<rect x="320.06" y="480.40" width="20.02" height="4.85" fill="#a8cce6"/>
<rect x="258.20" y="485.85" width="20.02" height="4.85" fill="#e8a484"/>
<rect x="278.82" y="485.85" width="20.02" height="4.85" fill="#5e0020"/>
<rect x="299.44" y="485.85" width="20.02" height="4.85" fill="#2a4a88"/>
<rect x="320.06" y="485.85" width="20.02" height="4.85" fill="#98c0e0"/>
<rect x="258.20" y="491.30" width="20.02" height="4.85" fill="#e8a080"/>
<rect x="278.82" y="491.30" width="20.02" height="4.85" fill="#fae6d8"/>
<rect x="299.44" y="491.30" width="20.02" height="4.85" fill="#1e3a70"/>
<rect x="320.06" y="491.30" width="20.02" height="4.85" fill="#b02c34"/>
<rect x="258.20" y="496.75" width="20.02" height="4.85" fill="#e49a78"/>
<rect x="278.82" y="496.75" width="20.02" height="4.85" fill="#5e0020"/>
<rect x="299.44" y="496.75" width="20.02" height="4.85" fill="#2c5090"/>
<rect x="320.06" y="496.75" width="20.02" height="4.85" fill="#88b4dc"/>
<rect x="258.20" y="502.20" width="20.02" height="4.85" fill="#d87860"/>
<rect x="278.82" y="502.20" width="20.02" height="4.85" fill="#a01830"/>
<rect x="299.44" y="502.20" width="20.02" height="4.85" fill="#223e78"/>
<rect x="320.06" y="502.20" width="20.02" height="4.85" fill="#b8d4ec"/>
<rect x="258.20" y="507.65" width="20.02" height="4.85" fill="#d47058"/>
<rect x="278.82" y="507.65" width="20.02" height="4.85" fill="#8a1028"/>
<rect x="299.44" y="507.65" width="20.02" height="4.85" fill="#4a7cc0"/>
<rect x="320.06" y="507.65" width="20.02" height="4.85" fill="#5a8cc8"/>
<rect x="258.20" y="513.10" width="20.02" height="4.85" fill="#cc6450"/>
<rect x="278.82" y="513.10" width="20.02" height="4.85" fill="#a01830"/>
<rect x="299.44" y="513.10" width="20.02" height="4.85" fill="#1e3a70"/>
<rect x="320.06" y="513.10" width="20.02" height="4.85" fill="#a8cce6"/>
<rect x="258.20" y="518.55" width="20.02" height="4.85" fill="#c85c4c"/>
<rect x="278.82" y="518.55" width="20.02" height="4.85" fill="#a01830"/>
<rect x="299.44" y="518.55" width="20.02" height="4.85" fill="#2a4a88"/>
<rect x="320.06" y="518.55" width="20.02" height="4.85" fill="#8cb8dc"/>
<rect x="258.20" y="524.00" width="20.02" height="4.85" fill="#a01830"/>
<rect x="278.82" y="524.00" width="20.02" height="4.85" fill="#c85c4c"/>
<rect x="299.44" y="524.00" width="20.02" height="4.85" fill="#3a64ac"/>
<rect x="320.06" y="524.00" width="20.02" height="4.85" fill="#6a9ed0"/>
<rect x="258.20" y="529.45" width="20.02" height="4.85" fill="#9c1830"/>
<rect x="278.82" y="529.45" width="20.02" height="4.85" fill="#c86050"/>
<rect x="299.44" y="529.45" width="20.02" height="4.85" fill="#2a4a88"/>
<rect x="320.06" y="529.45" width="20.02" height="4.85" fill="#7aaad6"/>
<rect x="258.20" y="534.90" width="20.02" height="4.85" fill="#5e0020"/>
<rect x="278.82" y="534.90" width="20.02" height="4.85" fill="#e8a080"/>
<rect x="299.44" y="534.90" width="20.02" height="4.85" fill="#4a7cc0"/>
<rect x="320.06" y="534.90" width="20.02" height="4.85" fill="#4a7cc0"/>
<rect x="258.20" y="540.35" width="20.02" height="4.85" fill="#5e0020"/>
<rect x="278.82" y="540.35" width="20.02" height="4.85" fill="#90bce0"/>
<rect x="299.44" y="540.35" width="20.02" height="4.85" fill="#4a7cc0"/>
<rect x="320.06" y="540.35" width="20.02" height="4.85" fill="#eee4dc"/>
<rect x="258.20" y="545.80" width="20.02" height="4.85" fill="#5e0020"/>
<rect x="278.82" y="545.80" width="20.02" height="4.85" fill="#a0c8e6"/>
<rect x="299.44" y="545.80" width="20.02" height="4.85" fill="#6a9ed0"/>
<rect x="320.06" y="545.80" width="20.02" height="4.85" fill="#7aaad6"/>
<text x="343.90" y="440.77" font-size="4.3" fill="#222" textLength="11.40" lengthAdjust="spacingAndGlyphs">MILR1</text>
<text x="343.90" y="446.22" font-size="4.3" fill="#222" textLength="8.17" lengthAdjust="spacingAndGlyphs">HCK</text>
<text x="343.90" y="451.67" font-size="4.3" fill="#222" textLength="13.98" lengthAdjust="spacingAndGlyphs">PIK3CD</text>
<text x="343.90" y="457.12" font-size="4.3" fill="#222" textLength="7.24" lengthAdjust="spacingAndGlyphs">LYN</text>
<text x="343.90" y="462.57" font-size="4.3" fill="#222" textLength="6.81" lengthAdjust="spacingAndGlyphs">LAT</text>
<text x="343.90" y="468.02" font-size="4.3" fill="#222" textLength="10.33" lengthAdjust="spacingAndGlyphs">PPBP</text>
<text x="343.90" y="473.47" font-size="4.3" fill="#222" textLength="14.84" lengthAdjust="spacingAndGlyphs">STXBP2</text>
<text x="343.90" y="478.92" font-size="4.3" fill="#222" textLength="16.34" lengthAdjust="spacingAndGlyphs">CORO1A</text>
<text x="343.90" y="484.37" font-size="4.3" fill="#222" textLength="15.92" lengthAdjust="spacingAndGlyphs">S100A13</text>
<text x="343.90" y="489.82" font-size="4.3" fill="#222" textLength="14.84" lengthAdjust="spacingAndGlyphs">STXBP3</text>
<text x="343.90" y="495.27" font-size="4.3" fill="#222" textLength="12.83" lengthAdjust="spacingAndGlyphs">VAMP2</text>
<text x="343.90" y="500.72" font-size="4.3" fill="#222" textLength="15.48" lengthAdjust="spacingAndGlyphs">UNC13D</text>
<text x="343.90" y="506.17" font-size="4.3" fill="#222" textLength="14.20" lengthAdjust="spacingAndGlyphs">PIK3CG</text>
<text x="343.90" y="511.62" font-size="4.3" fill="#222" textLength="14.84" lengthAdjust="spacingAndGlyphs">SNAP23</text>
<text x="343.90" y="517.07" font-size="4.3" fill="#222" textLength="12.83" lengthAdjust="spacingAndGlyphs">VAMP8</text>
<text x="343.90" y="522.52" font-size="4.3" fill="#222" textLength="14.84" lengthAdjust="spacingAndGlyphs">RAB27A</text>
<text x="343.90" y="527.97" font-size="4.3" fill="#222" textLength="18.50" lengthAdjust="spacingAndGlyphs">RASGRP1</text>
<text x="343.90" y="533.42" font-size="4.3" fill="#222" textLength="12.83" lengthAdjust="spacingAndGlyphs">VAMP7</text>
<text x="343.90" y="538.87" font-size="4.3" fill="#222" textLength="10.97" lengthAdjust="spacingAndGlyphs">PIK2A</text>
<text x="343.90" y="544.32" font-size="4.3" fill="#222" textLength="8.96" lengthAdjust="spacingAndGlyphs">LAT2</text>
<text x="343.90" y="549.77" font-size="4.3" fill="#222" textLength="9.89" lengthAdjust="spacingAndGlyphs">CCL3</text>
<text x="267.71" y="560.40" font-size="8.8" text-anchor="middle" fill="#231f20" stroke="#231f20" stroke-width="0.1">T</text>
<text x="271.73" y="563.10" font-size="4.8" text-anchor="middle" fill="#231f20">0</text>
<text x="288.33" y="560.40" font-size="8.8" text-anchor="middle" fill="#231f20" stroke="#231f20" stroke-width="0.1">T</text>
<text x="292.35" y="563.10" font-size="4.8" text-anchor="middle" fill="#231f20">1</text>
<text x="308.95" y="560.40" font-size="8.8" text-anchor="middle" fill="#231f20" stroke="#231f20" stroke-width="0.1">T</text>
<text x="312.97" y="563.10" font-size="4.8" text-anchor="middle" fill="#231f20">2</text>
<text x="329.57" y="560.40" font-size="8.8" text-anchor="middle" fill="#231f20" stroke="#231f20" stroke-width="0.1">T</text>
<text x="333.59" y="563.10" font-size="4.8" text-anchor="middle" fill="#231f20">3</text>
<text x="413.30" y="420.30" font-size="10.6" text-anchor="middle" font-weight="normal" fill="#1c1c1c" stroke="#1c1c1c" stroke-width="0.06" textLength="59.2" lengthAdjust="spacingAndGlyphs">Costimulatory</text>
<text x="413.70" y="430.60" font-size="10.6" text-anchor="middle" font-weight="normal" fill="#1c1c1c" stroke="#1c1c1c" stroke-width="0.06" textLength="81.8" lengthAdjust="spacingAndGlyphs">receptors in CD8 T</text>
<rect x="372.1" y="436.5" width="82.80" height="113.10" fill="#9a9a9a"/>
<rect x="372.40" y="436.80" width="20.10" height="8.10" fill="#223a70"/>
<rect x="393.10" y="436.80" width="20.10" height="8.10" fill="#d87860"/>
<rect x="413.80" y="436.80" width="20.10" height="8.10" fill="#88b4dc"/>
<rect x="434.50" y="436.80" width="20.10" height="8.10" fill="#8a1028"/>
<rect x="372.40" y="445.50" width="20.10" height="8.10" fill="#4a7cc0"/>
<rect x="393.10" y="445.50" width="20.10" height="8.10" fill="#5e0020"/>
<rect x="413.80" y="445.50" width="20.10" height="8.10" fill="#6a9ed0"/>
<rect x="434.50" y="445.50" width="20.10" height="8.10" fill="#e4e2e0"/>
<rect x="372.40" y="454.20" width="20.10" height="8.10" fill="#5080c0"/>
<rect x="393.10" y="454.20" width="20.10" height="8.10" fill="#5e0020"/>
<rect x="413.80" y="454.20" width="20.10" height="8.10" fill="#70a0d2"/>
<rect x="434.50" y="454.20" width="20.10" height="8.10" fill="#d4e4f0"/>
<rect x="372.40" y="462.90" width="20.10" height="8.10" fill="#5a8cc8"/>
<rect x="393.10" y="462.90" width="20.10" height="8.10" fill="#5e0020"/>
<rect x="413.80" y="462.90" width="20.10" height="8.10" fill="#70a0d2"/>
<rect x="434.50" y="462.90" width="20.10" height="8.10" fill="#d0e2f0"/>
<rect x="372.40" y="471.60" width="20.10" height="8.10" fill="#94bce0"/>
<rect x="393.10" y="471.60" width="20.10" height="8.10" fill="#5e0020"/>
<rect x="413.80" y="471.60" width="20.10" height="8.10" fill="#5a8cc8"/>
<rect x="434.50" y="471.60" width="20.10" height="8.10" fill="#b0d0ea"/>
<rect x="372.40" y="480.30" width="20.10" height="8.10" fill="#d4e4f2"/>
<rect x="393.10" y="480.30" width="20.10" height="8.10" fill="#5e0020"/>
<rect x="413.80" y="480.30" width="20.10" height="8.10" fill="#5a8cc8"/>
<rect x="434.50" y="480.30" width="20.10" height="8.10" fill="#5a8cc8"/>
<rect x="372.40" y="489.00" width="20.10" height="8.10" fill="#e4e0de"/>
<rect x="393.10" y="489.00" width="20.10" height="8.10" fill="#5e0020"/>
<rect x="413.80" y="489.00" width="20.10" height="8.10" fill="#4a7cc0"/>
<rect x="434.50" y="489.00" width="20.10" height="8.10" fill="#5a8cc8"/>
<rect x="372.40" y="497.70" width="20.10" height="8.10" fill="#f4c8b0"/>
<rect x="393.10" y="497.70" width="20.10" height="8.10" fill="#5e0020"/>
<rect x="413.80" y="497.70" width="20.10" height="8.10" fill="#3a64ac"/>
<rect x="434.50" y="497.70" width="20.10" height="8.10" fill="#5a8cc8"/>
<rect x="372.40" y="506.40" width="20.10" height="8.10" fill="#eeb090"/>
<rect x="393.10" y="506.40" width="20.10" height="8.10" fill="#5e0020"/>
<rect x="413.80" y="506.40" width="20.10" height="8.10" fill="#3a64ac"/>
<rect x="434.50" y="506.40" width="20.10" height="8.10" fill="#5a8cc8"/>
<rect x="372.40" y="515.10" width="20.10" height="8.10" fill="#eca888"/>
<rect x="393.10" y="515.10" width="20.10" height="8.10" fill="#8a1530"/>
<rect x="413.80" y="515.10" width="20.10" height="8.10" fill="#1a2e60"/>
<rect x="434.50" y="515.10" width="20.10" height="8.10" fill="#e6e2dc"/>
<rect x="372.40" y="523.80" width="20.10" height="8.10" fill="#c85848"/>
<rect x="393.10" y="523.80" width="20.10" height="8.10" fill="#e08c70"/>
<rect x="413.80" y="523.80" width="20.10" height="8.10" fill="#1e3466"/>
<rect x="434.50" y="523.80" width="20.10" height="8.10" fill="#f0c0a0"/>
<rect x="372.40" y="532.50" width="20.10" height="8.10" fill="#a82030"/>
<rect x="393.10" y="532.50" width="20.10" height="8.10" fill="#dce6f0"/>
<rect x="413.80" y="532.50" width="20.10" height="8.10" fill="#1e3466"/>
<rect x="434.50" y="532.50" width="20.10" height="8.10" fill="#d87058"/>
<rect x="372.40" y="541.20" width="20.10" height="8.10" fill="#5e0020"/>
<rect x="393.10" y="541.20" width="20.10" height="8.10" fill="#f4dccc"/>
<rect x="413.80" y="541.20" width="20.10" height="8.10" fill="#30529a"/>
<rect x="434.50" y="541.20" width="20.10" height="8.10" fill="#98c0e0"/>
<text x="458.30" y="442.40" font-size="4.3" fill="#222" textLength="17.41" lengthAdjust="spacingAndGlyphs">TNFRSF4</text>
<text x="458.30" y="451.10" font-size="4.3" fill="#222" textLength="17.41" lengthAdjust="spacingAndGlyphs">TNFRSF8</text>
<text x="458.30" y="459.80" font-size="4.3" fill="#222" textLength="9.89" lengthAdjust="spacingAndGlyphs">CD28</text>
<text x="458.30" y="468.50" font-size="4.3" fill="#222" textLength="9.89" lengthAdjust="spacingAndGlyphs">CD27</text>
<text x="458.30" y="477.20" font-size="4.3" fill="#222" textLength="19.57" lengthAdjust="spacingAndGlyphs">TNFRSF25</text>
<text x="458.30" y="485.90" font-size="4.3" fill="#222" textLength="19.57" lengthAdjust="spacingAndGlyphs">TNFRSF14</text>
<text x="458.30" y="494.60" font-size="4.3" fill="#222" textLength="15.05" lengthAdjust="spacingAndGlyphs">SLAMF1</text>
<text x="458.30" y="503.30" font-size="4.3" fill="#222" textLength="11.18" lengthAdjust="spacingAndGlyphs">ITGB2</text>
<text x="458.30" y="512.00" font-size="4.3" fill="#222" textLength="9.46" lengthAdjust="spacingAndGlyphs">ICOS</text>
<text x="458.30" y="520.70" font-size="4.3" fill="#222" textLength="7.74" lengthAdjust="spacingAndGlyphs">CD2</text>
<text x="458.30" y="529.40" font-size="4.3" fill="#222" textLength="15.06" lengthAdjust="spacingAndGlyphs">CD40LG</text>
<text x="458.30" y="538.10" font-size="4.3" fill="#222" textLength="19.57" lengthAdjust="spacingAndGlyphs">TNFRSF18</text>
<text x="458.30" y="546.80" font-size="4.3" fill="#222" textLength="12.05" lengthAdjust="spacingAndGlyphs">CD226</text>
<text x="381.95" y="560.40" font-size="8.8" text-anchor="middle" fill="#231f20" stroke="#231f20" stroke-width="0.1">T</text>
<text x="385.97" y="563.10" font-size="4.8" text-anchor="middle" fill="#231f20">0</text>
<text x="402.65" y="560.40" font-size="8.8" text-anchor="middle" fill="#231f20" stroke="#231f20" stroke-width="0.1">T</text>
<text x="406.67" y="563.10" font-size="4.8" text-anchor="middle" fill="#231f20">1</text>
<text x="423.35" y="560.40" font-size="8.8" text-anchor="middle" fill="#231f20" stroke="#231f20" stroke-width="0.1">T</text>
<text x="427.37" y="563.10" font-size="4.8" text-anchor="middle" fill="#231f20">2</text>
<text x="444.05" y="560.40" font-size="8.8" text-anchor="middle" fill="#231f20" stroke="#231f20" stroke-width="0.1">T</text>
<text x="448.07" y="563.10" font-size="4.8" text-anchor="middle" fill="#231f20">3</text>
<defs><linearGradient id="gR" x1="0" x2="0" y1="0" y2="1"><stop offset="0" stop-color="#67001f"/><stop offset="0.2" stop-color="#b2182b"/><stop offset="0.35" stop-color="#e08a6c"/><stop offset="0.5" stop-color="#f2eeea"/><stop offset="0.65" stop-color="#a8cce4"/><stop offset="0.8" stop-color="#4a7cc0"/><stop offset="1" stop-color="#1a2e6a"/></linearGradient></defs>
<rect x="484.2" y="476.9" width="7" height="25" fill="url(#gR)"/>
<text x="494.60" y="478.80" font-size="5" text-anchor="start" font-weight="normal" fill="#333" stroke="#333" stroke-width="0.12" >1</text>
<text x="494.00" y="491.20" font-size="5" text-anchor="start" font-weight="normal" fill="#333" stroke="#333" stroke-width="0.12" >0</text>
<text x="493.60" y="503.80" font-size="5" text-anchor="start" font-weight="normal" fill="#333" stroke="#333" stroke-width="0.12" >−1</text>
<g fill="#000"><rect x="0" y="0" width="520" height="1.05"/><rect x="0" y="0" width="1.1" height="572"/><rect x="518.9" y="0" width="1.1" height="572"/><rect x="0" y="570.9" width="520" height="1.1"/></g>
</svg>
</body></html>
